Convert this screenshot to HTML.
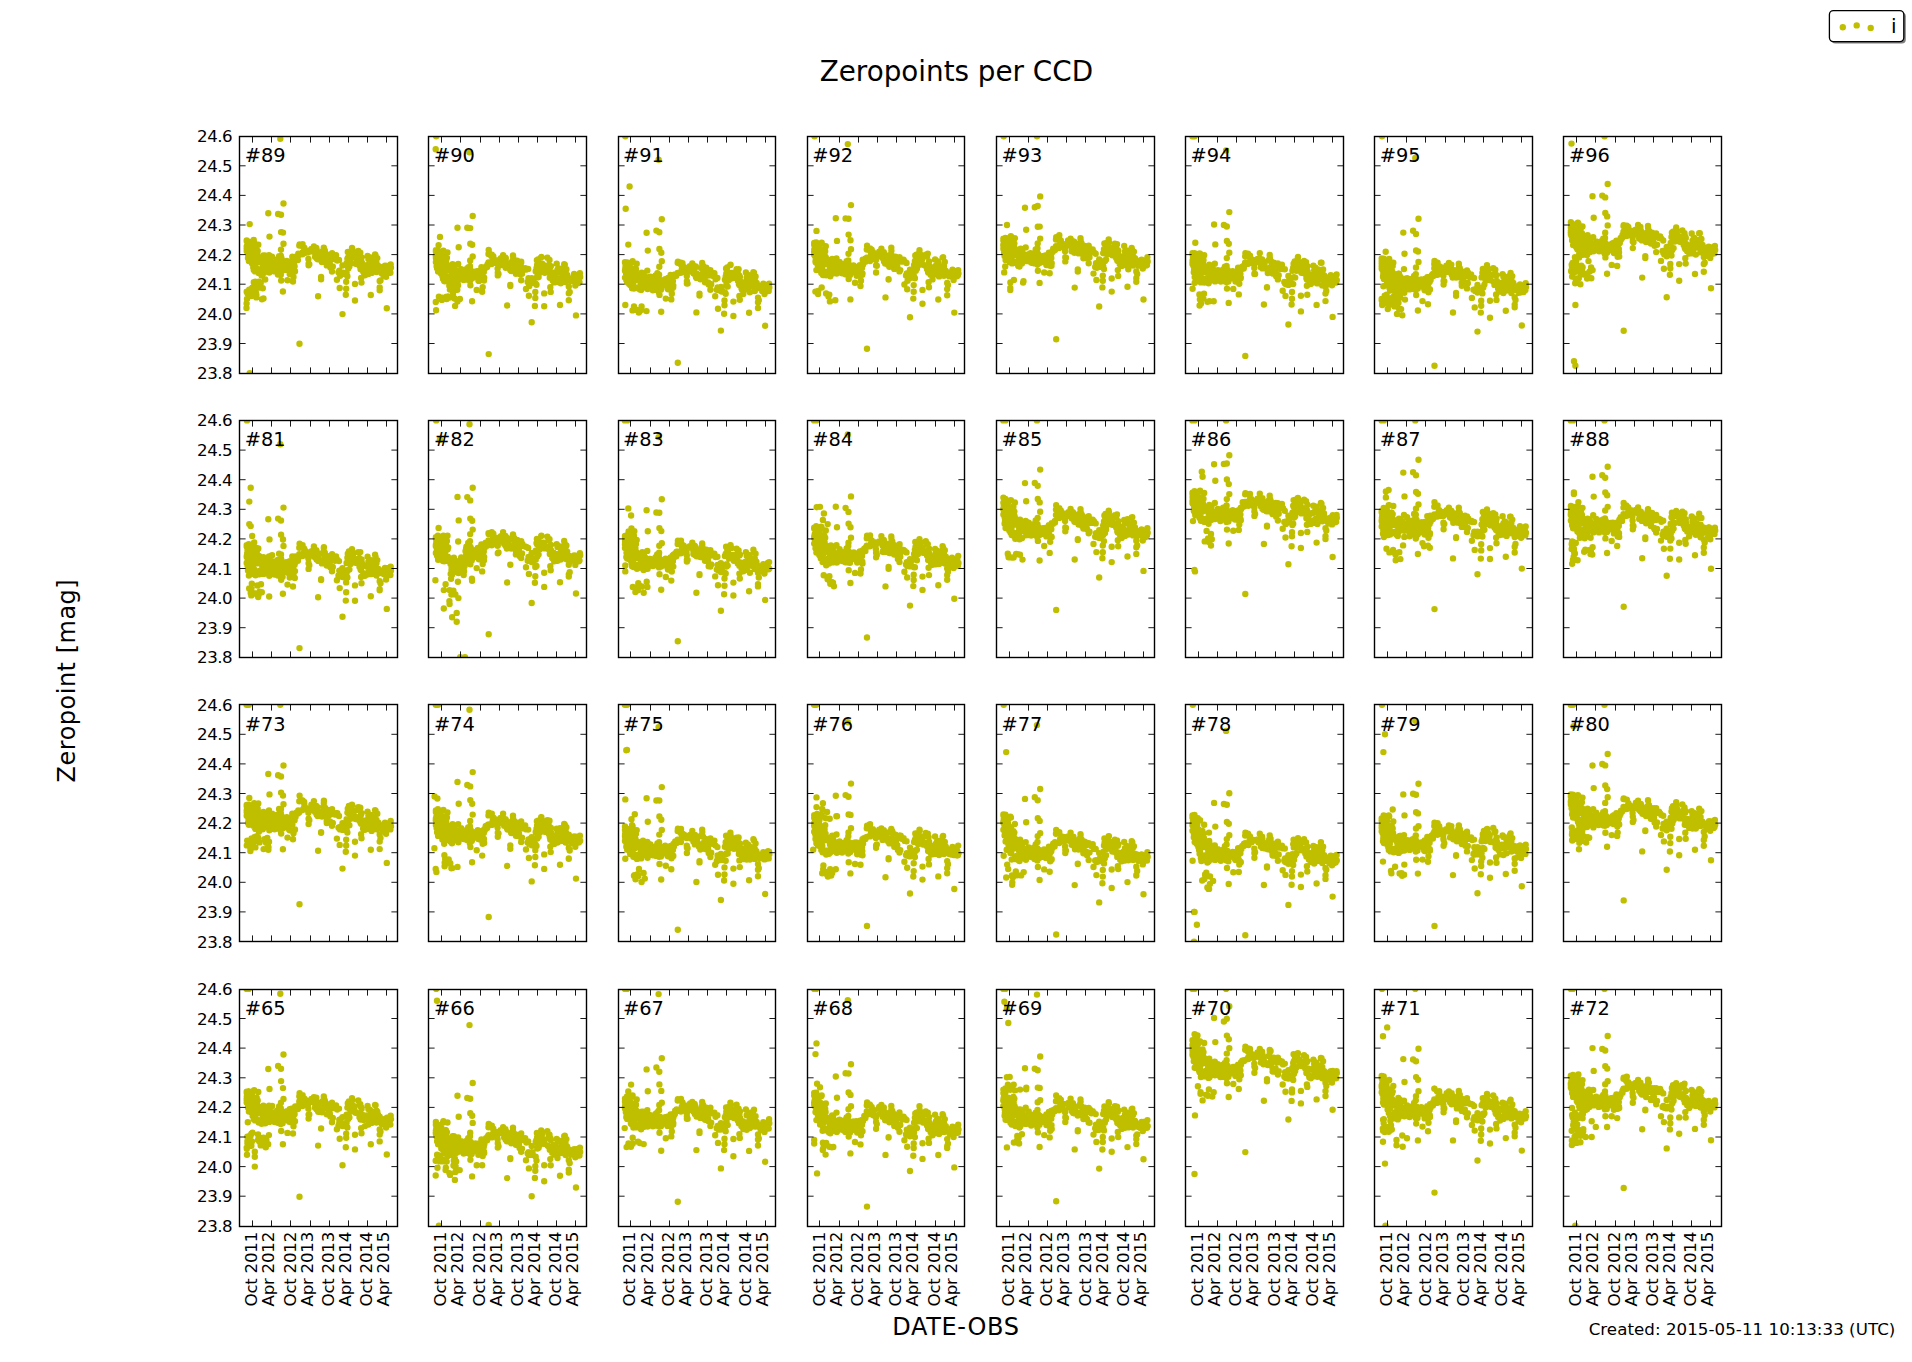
<!DOCTYPE html>
<html lang="en"><head><meta charset="utf-8"><title>Zeropoints per CCD</title>
<style>
html,body{margin:0;padding:0;background:#fff;}
body{width:1912px;height:1362px;overflow:hidden;}
svg{display:block;font-family:'DejaVu Sans', 'Liberation Sans', sans-serif;}
.ax{fill:none;stroke:#000;stroke-width:1.4;}
.tk{fill:none;stroke:#000;stroke-width:0.9;}
.pt{fill:none;stroke:#bfbf00;stroke-width:6.4;stroke-linecap:round;}
.tl{font-size:16.67px;fill:#000;letter-spacing:-0.5px;}
.xl{font-size:16.67px;fill:#000;letter-spacing:-0.25px;}
.cc{font-size:19.4px;fill:#000;}
</style></head>
<body>
<svg width="1912" height="1362" viewBox="0 0 1912 1362">
<rect width="1912" height="1362" fill="#fff"/>
<text x="956.4" y="80.7" text-anchor="middle" font-size="27.8">Zeropoints per CCD</text>
<text x="955.9" y="1334.8" text-anchor="middle" font-size="24" letter-spacing="0.7">DATE-OBS</text>
<text transform="translate(74.9 680.6) rotate(-90)" text-anchor="middle" font-size="24" letter-spacing="0.5">Zeropoint [mag]</text>
<text x="1895.4" y="1335" letter-spacing="0.05" text-anchor="end" font-size="16.67">Created: 2015-05-11 10:13:33 (UTC)</text>
<rect x="1831.4" y="12.6" width="74.4" height="31" rx="4" fill="#7f7f7f"/>
<rect x="1829.4" y="10.6" width="74.4" height="31" rx="4" fill="#fff" stroke="#000" stroke-width="1.3"/>
<path class="pt" d="M1842.8 27.2h0M1856.7 25.4h0M1870.7 28h0"/>
<text x="1891.1" y="33" font-size="20">i</text>
<g>
<clipPath id="c89"><rect x="239.5" y="136.5" width="158" height="237"/></clipPath>
<path class="pt" clip-path="url(#c89)" d="M251.8 262.9h0M247.5 242.9h0M246.9 249.7h0M247.7 253.1h0M248.3 255.7h0M264.8 262.5h0M262.9 260.6h0M248.2 254.5h0M249.2 248.8h0M252.8 252.1h0M259 257.6h0M257 254.9h0M250.4 259.1h0M263.2 261.2h0M253.7 254.7h0M255.1 271.4h0M260.8 258.5h0M251.6 257.7h0M262.5 263.1h0M258.7 273.1h0M258.3 244.8h0M251.1 257.4h0M246.7 246.4h0M260.9 261.6h0M253.1 264.9h0M263.4 255.5h0M251 248.9h0M263.4 261.2h0M250.2 247.7h0M250.7 257.6h0M265 260.9h0M257.7 250.9h0M263.2 267h0M253.3 267.4h0M247.3 246h0M247.2 245.1h0M247.9 246.1h0M248.7 252.1h0M252.6 263.9h0M265.8 263.9h0M252.2 257.6h0M248.9 260.9h0M255.9 254.7h0M246.8 247.9h0M263 265.9h0M261 259.8h0M251.9 260.5h0M265.7 258h0M262 258.6h0M255.6 251.1h0M250.6 245.1h0M254.2 242.4h0M265 263.6h0M250 258.7h0M262.5 262.5h0M261.6 275.6h0M264 257.4h0M254.8 267.1h0M252 245.9h0M253.2 255.2h0M260 269.1h0M248.7 241.6h0M248.6 241.6h0M258.5 259.8h0M265.3 264h0M264.5 265.8h0M262.2 263.4h0M257.1 253.9h0M248.4 254.6h0M263.9 263.4h0M255.3 254.5h0M246.7 240.5h0M249.1 249.7h0M256.4 257.4h0M256.4 263h0M251 253.1h0M256.5 248.4h0M254.2 264.8h0M254.3 256.4h0M264.7 260.5h0M264.7 255.5h0M248.5 251.5h0M247.5 251.3h0M263.7 272.9h0M258.6 269.1h0M265.3 269.5h0M253.3 253.4h0M262.3 271.5h0M255.6 260.2h0M246.7 241.1h0M246.7 251h0M255.5 270.5h0M261.3 262.1h0M261.1 259.6h0M253.7 240h0M250.6 261.5h0M256.7 249.5h0M253.8 270h0M258.1 257.1h0M262.8 272.8h0M254.4 251.6h0M248.4 249.4h0M248 248.2h0M251.5 249.3h0M255.3 248.2h0M246.7 248.6h0M249.4 249.4h0M248 258.1h0M275 267h0M281.8 261.8h0M282.3 266.5h0M275.3 266.1h0M267.6 263.4h0M271.9 265.2h0M286 265.1h0M272.5 264.2h0M269.6 262.1h0M272.1 256.7h0M271.6 267.5h0M273.1 263.5h0M276.9 265.4h0M270.6 265.3h0M268.1 262.4h0M267 261.3h0M279.5 264.4h0M283.3 266.8h0M275 269.8h0M288.6 264.5h0M267 260.2h0M286.5 269.8h0M269.2 267.7h0M277.6 261.1h0M279.4 271.2h0M281.7 267.3h0M269.1 267.2h0M268.4 262.2h0M280.4 269.4h0M277.3 259.5h0M277.6 264.7h0M281.2 259.4h0M267.7 262.5h0M282.8 263.9h0M277.4 261.3h0M277 266.8h0M280.8 274.8h0M269.4 266.2h0M279.1 256.2h0M267.4 266.2h0M281.5 258.2h0M277.9 274.6h0M286.6 264h0M288.5 264.7h0M284.9 265.5h0M276.3 264.7h0M270.8 263h0M269.3 272.6h0M284.9 265.3h0M286.4 263.9h0M277.2 270.7h0M266.1 268.9h0M269.2 264.9h0M273.3 263.2h0M285.3 266.7h0M287.3 267.5h0M274.6 271.4h0M289 266.9h0M272.3 268.3h0M268.3 262.7h0M271.7 268.4h0M277.8 267.1h0M286.3 262.6h0M280.5 259.4h0M282.6 270.4h0M282.8 269.2h0M272.6 262.8h0M287.3 263.5h0M272.8 263.8h0M288.5 264.6h0M278.8 261.4h0M269.8 262.5h0M277.4 262h0M286.8 260.9h0M270.4 266.7h0M273.9 263.2h0M279.1 263.9h0M283.2 267.4h0M274.7 263.7h0M267.4 268.1h0M292.3 256.7h0M294.6 266.3h0M291.6 262.3h0M295.2 257.9h0M289.2 271.1h0M294.8 271.5h0M291.5 264.7h0M294.4 261.6h0M289.7 273.9h0M292.4 267.6h0M293.2 272.2h0M292 266.7h0M290.5 267.2h0M293.2 266.3h0M293.1 262.5h0M289.7 261.9h0M291.5 264.2h0M296.5 258.4h0M298.3 253.7h0M297.9 260h0M298.3 255.5h0M295 258.4h0M295.6 260.1h0M296.8 256.2h0M299.6 244.5h0M299.3 245.5h0M302.1 245.9h0M302.6 244.2h0M304.2 248.6h0M305.4 250.6h0M304.3 247.8h0M299.3 254.1h0M302.5 252.4h0M302.4 254.3h0M305.8 252.8h0M306.9 250.8h0M303.8 252.2h0M303.5 252.4h0M308.2 252.3h0M308.4 258.9h0M308.6 263.8h0M309.3 264.2h0M308.6 265.3h0M311.4 248.9h0M311.7 249.4h0M313.9 250h0M313.9 246.5h0M316.3 248h0M312.6 251.6h0M315.1 253h0M317.5 252.1h0M316.6 249.1h0M318.7 254.1h0M315.1 256.8h0M316.6 258.3h0M318.3 257h0M317.7 259.2h0M320.7 259.8h0M321.1 258.2h0M321.9 262h0M322.7 251.1h0M323.4 251.1h0M323.9 249.2h0M323.8 247.7h0M324.8 250.5h0M326 255.9h0M324.8 255.8h0M327.2 257.7h0M328 254.6h0M328.1 257.2h0M325.6 259.4h0M326.7 262.1h0M326.8 265.4h0M328.8 261.2h0M329.5 256.1h0M330 254.9h0M332 256.5h0M332.1 253.3h0M333.2 258.1h0M331.7 257.4h0M334.9 259.2h0M337.3 260.5h0M339 259.9h0M330.4 267.6h0M329.8 263.5h0M332.8 266.4h0M332 271.6h0M336.1 255.2h0M321.1 279.2h0M321.1 277h0M318.1 296.3h0M339.3 270.6h0M340.1 275.7h0M338.5 272.3h0M339.3 273.2h0M342.5 265.5h0M343.3 272.8h0M342.5 273.4h0M343.3 273.9h0M346.6 272.6h0M347.4 276.2h0M348.2 268.3h0M349.4 266.4h0M348.3 268.6h0M336.9 279.8h0M339.7 288h0M346.2 281.7h0M346.2 288.8h0M345.8 294.8h0M342.5 314.1h0M346.6 263.3h0M347.4 258.7h0M348 257.7h0M347.8 252h0M348.9 252.7h0M349 252.5h0M349.8 258.2h0M349.9 254.1h0M350.6 263.2h0M352.2 248.4h0M352 248h0M353 254h0M353.8 257.6h0M354.6 252.7h0M355.5 258.1h0M355.6 263.7h0M358.3 251h0M359.5 253.9h0M358.7 260.8h0M360.3 252.8h0M361.1 259.1h0M361.6 257.4h0M361.9 262.6h0M361.1 267.6h0M360.6 269.3h0M363.5 272.2h0M363.1 271.2h0M364.3 265.3h0M359.5 265.7h0M355 283.9h0M355 300.5h0M361.1 277.9h0M361.5 282.6h0M367.6 255.9h0M368.4 259.1h0M369.7 257.2h0M366.8 265.2h0M366 271.3h0M365 275.2h0M370.8 257.9h0M371.6 263.6h0M370 266.5h0M370.2 268.7h0M368.4 274h0M368.7 270.2h0M371.6 272.9h0M373.2 267.4h0M373.1 265h0M375.6 255.5h0M375.1 254.4h0M376.5 262.9h0M374.8 261.9h0M374.8 265.2h0M374.3 266.4h0M378.1 266.2h0M378.4 266h0M379.7 266.7h0M376.5 272.1h0M377.4 268.6h0M377.3 258.1h0M373.2 261.9h0M373.3 261.7h0M370.8 295h0M379.7 280.9h0M380.5 280.5h0M379.7 287.5h0M379.7 290.3h0M382.1 267.5h0M384.5 270.9h0M385 265.6h0M387 266h0M389.8 266.6h0M385.3 272.8h0M385.8 269.9h0M388.6 272.8h0M389.5 272.9h0M386.1 276.8h0M389.8 270.3h0M390.4 272.8h0M391 267.6h0M390.7 264.4h0M383.7 275.4h0M381.9 273.4h0M386.8 308.2h0M268.3 213.2h0M269.5 236.6h0M278.1 214h0M281 214.7h0M283.5 203.5h0M281.1 232.1h0M283 232.6h0M283.5 243.8h0M281 249.6h0M280.8 255.6h0M269 255.1h0M280.3 138.7h0M282.9 291.5h0M287.5 280.3h0M293 281.5h0M281.2 280.5h0M293.5 276.9h0M295 271.3h0M256.3 297.4h0M250.7 294.9h0M263.5 298.4h0M256.7 287.4h0M252.3 295.6h0M247.8 293.3h0M251.3 296h0M258.8 281.8h0M247.4 293.3h0M250.6 290.5h0M255.1 284.2h0M253.6 292.6h0M250 292.7h0M260.7 283.2h0M248 293.4h0M246.7 291.7h0M262.8 288.2h0M256.4 295h0M256.3 284.7h0M262 299.3h0M249.2 289.6h0M260.3 282.2h0M256.4 283.8h0M259.9 287.5h0M252.4 287.8h0M265.2 279.5h0M247 291.9h0M256 288.7h0M255.2 281.8h0M253.8 282.2h0M256.1 293.2h0M247.7 292.8h0M299.5 343.8h0M249.7 224.1h0M246.5 307.9h0M246.6 303.5h0M247 299h0M249.7 373.1h0"/>
<path class="tk" d="M252.5 373.5v-6.1 M252.5 136.5v6.1M271.5 373.5v-6.1 M271.5 136.5v6.1M290.5 373.5v-6.1 M290.5 136.5v6.1M310.5 373.5v-6.1 M310.5 136.5v6.1M329.5 373.5v-6.1 M329.5 136.5v6.1M348.5 373.5v-6.1 M348.5 136.5v6.1M367.5 373.5v-6.1 M367.5 136.5v6.1M386.5 373.5v-6.1 M386.5 136.5v6.1M239.5 343.5h6.1 M397.5 343.5h-6.1M239.5 313.9h6.1 M397.5 313.9h-6.1M239.5 284.2h6.1 M397.5 284.2h-6.1M239.5 254.6h6.1 M397.5 254.6h-6.1M239.5 225h6.1 M397.5 225h-6.1M239.5 195.4h6.1 M397.5 195.4h-6.1M239.5 165.8h6.1 M397.5 165.8h-6.1"/>
<rect class="ax" x="239.5" y="136.5" width="158" height="237"/>
<text class="cc" x="244.7" y="162">#89</text>
<text class="tl" text-anchor="end" x="232.2" y="379.1">23.8</text>
<text class="tl" text-anchor="end" x="232.2" y="349.5">23.9</text>
<text class="tl" text-anchor="end" x="232.2" y="319.9">24.0</text>
<text class="tl" text-anchor="end" x="232.2" y="290.2">24.1</text>
<text class="tl" text-anchor="end" x="232.2" y="260.6">24.2</text>
<text class="tl" text-anchor="end" x="232.2" y="231">24.3</text>
<text class="tl" text-anchor="end" x="232.2" y="201.4">24.4</text>
<text class="tl" text-anchor="end" x="232.2" y="171.8">24.5</text>
<text class="tl" text-anchor="end" x="232.2" y="142.2">24.6</text>
</g>
<g>
<clipPath id="c90"><rect x="428.5" y="136.5" width="158" height="237"/></clipPath>
<path class="pt" clip-path="url(#c90)" d="M441 273.5h0M436.6 253.5h0M436.1 257.8h0M436.9 263.4h0M437.4 266.2h0M454 272.2h0M452 270.6h0M437.3 263.8h0M438.4 258.6h0M441.9 259.9h0M448.2 266.6h0M446.2 264.5h0M439.5 270.5h0M452.4 269h0M442.8 264.7h0M444.2 280.9h0M450 267.3h0M440.8 266.1h0M451.6 273.6h0M447.8 281.3h0M447.5 252.4h0M440.3 265.3h0M435.9 257.7h0M450.1 266.8h0M442.3 270.9h0M452.6 264.1h0M440.1 258.2h0M452.6 268.8h0M439.3 258.1h0M439.9 264.1h0M454.1 270.8h0M446.9 257.7h0M452.4 275h0M442.4 276.1h0M436.5 257h0M436.3 254.7h0M437.1 255.7h0M437.8 265.6h0M441.8 273.3h0M455 273.1h0M441.4 270.8h0M438.1 271.5h0M445 262.8h0M436 258.5h0M452.1 275h0M450.1 268.7h0M441.1 271.7h0M454.8 265.4h0M451.2 267.7h0M444.8 259.1h0M439.8 253.3h0M443.4 250.8h0M454.2 270.4h0M439.2 270.5h0M451.6 272.2h0M450.7 279.8h0M453.2 266.3h0M444 275.3h0M441.2 252.8h0M442.4 267.4h0M449.1 277.3h0M437.9 250.4h0M437.8 250.4h0M447.7 267.4h0M454.5 273.6h0M453.7 273h0M451.3 271.9h0M446.2 260.2h0M437.6 264.7h0M453 273.5h0M444.5 262.5h0M435.9 250.3h0M438.2 258.5h0M445.6 265.7h0M445.6 271.2h0M440.1 264.1h0M445.7 257.3h0M443.3 273.4h0M443.5 264.7h0M453.9 269.4h0M453.9 266.3h0M437.7 261.6h0M436.6 266.2h0M452.9 278.5h0M447.8 277.1h0M454.4 276.4h0M442.4 263h0M451.5 278.8h0M444.8 270.3h0M435.9 251.4h0M435.9 262.1h0M444.7 281.3h0M450.5 269.7h0M450.3 269.6h0M442.9 251.7h0M439.8 271.6h0M445.9 257.2h0M443 278.8h0M447.2 264.9h0M452 280.6h0M443.5 259.1h0M437.5 260h0M437.2 257.8h0M440.6 257.6h0M444.5 257.3h0M435.8 255.6h0M438.5 258.4h0M437.1 268.3h0M464.2 271.7h0M471 272.6h0M471.4 277.2h0M464.5 273.3h0M456.8 272.3h0M461 275.3h0M475.2 271.8h0M461.7 275.8h0M458.8 271.5h0M461.2 269.1h0M460.8 273.3h0M462.3 274.5h0M466.1 273.6h0M459.8 274.2h0M457.2 274.5h0M456.1 272.2h0M468.6 275.3h0M472.4 277h0M464.1 277.6h0M477.8 271.3h0M456.2 270.4h0M475.7 276.7h0M458.4 276.4h0M466.8 271.9h0M468.6 278.5h0M470.9 275.3h0M458.2 276.3h0M457.6 272.5h0M469.6 277h0M466.4 269.3h0M466.7 274.7h0M470.3 271.5h0M456.9 271.6h0M471.9 271.9h0M466.5 271h0M466.2 275.6h0M469.9 281.1h0M458.6 274.4h0M468.2 267.5h0M456.6 273.5h0M470.7 270.5h0M467 279.5h0M475.7 274.8h0M477.7 274.1h0M474 272.7h0M465.5 273.2h0M460 273.5h0M458.4 279.9h0M474 274.9h0M475.6 276.5h0M466.3 278.3h0M455.2 275.6h0M458.4 272.9h0M462.4 273.6h0M474.5 276h0M476.5 274.6h0M463.7 280.1h0M478.1 275.9h0M461.5 276.1h0M457.5 274.3h0M460.9 275.8h0M466.9 275.2h0M475.5 273.2h0M469.7 270.7h0M471.7 276.3h0M472 278.4h0M461.7 272.8h0M476.5 274.9h0M462 273.6h0M477.6 275.6h0M468 271.5h0M459 273.2h0M466.6 273.2h0M476 271.5h0M459.6 275.9h0M463 272.7h0M468.3 274.4h0M472.4 275.5h0M463.8 271.4h0M456.6 274.4h0M481.4 267.3h0M483.8 272h0M480.8 270.2h0M484.4 268h0M478.4 280.6h0M484 280.6h0M480.7 275.1h0M483.5 270.9h0M478.9 280.9h0M481.6 277.4h0M482.4 277.8h0M481.1 274.1h0M479.7 276.6h0M482.4 274.9h0M482.3 272h0M478.9 274h0M480.7 273.7h0M485.7 267.8h0M487.5 264.5h0M487.1 267h0M487.5 265.8h0M484.2 268.6h0M484.8 268.6h0M486 266.6h0M488.7 249.9h0M488.5 254h0M491.3 256.1h0M491.8 254.6h0M493.3 256.3h0M494.5 261.5h0M493.4 258.6h0M488.5 262.5h0M491.7 263h0M491.6 264h0M494.9 262.9h0M496.1 260.3h0M492.9 260.5h0M492.7 259.6h0M497.4 262.5h0M497.6 268.6h0M497.8 272.8h0M498.5 273.9h0M497.8 275.4h0M500.6 259h0M500.9 258.2h0M503 258.2h0M503.1 255.2h0M505.4 257.8h0M501.8 265h0M504.2 263.7h0M506.7 262.6h0M505.8 258.2h0M507.9 263.7h0M504.2 265.3h0M505.7 267.7h0M507.5 265.5h0M506.9 266.7h0M509.9 268.5h0M510.3 270.3h0M511.1 271h0M511.9 262h0M512.5 260.8h0M513.1 256.3h0M513 255.4h0M513.9 259.6h0M515.1 262.7h0M514 264.6h0M516.3 266.6h0M517.2 260.8h0M517.3 264.7h0M514.7 269.7h0M515.9 273.8h0M515.9 272.5h0M518 269.8h0M518.6 266.6h0M519.2 264.1h0M521.2 262.6h0M521.2 261.8h0M522.4 268.4h0M520.9 266.8h0M524 268.8h0M526.4 269.6h0M528.2 268.9h0M519.6 274.1h0M519 271.3h0M522 273.7h0M521.2 280.2h0M525.2 268.1h0M510.3 284.9h0M510.3 286h0M507.2 305.5h0M528.5 278.3h0M529.3 286h0M527.7 282h0M528.4 282.2h0M531.7 278.2h0M532.5 280.6h0M531.7 282.7h0M532.4 282.1h0M535.7 283.8h0M536.5 284.7h0M537.3 275.8h0M538.6 276.9h0M537.5 277.4h0M526 289h0M528.9 295.7h0M535.3 292h0M535.3 297.9h0M534.9 306h0M531.7 322.3h0M535.7 271.2h0M536.5 268.1h0M537.1 265h0M536.9 260.3h0M538 259.5h0M538.2 263.6h0M539 268h0M539 264.1h0M539.8 272.8h0M541.4 256.9h0M541.2 257.3h0M542.2 263.7h0M543 267.4h0M543.8 265.1h0M544.6 269.3h0M544.8 272.8h0M547.4 257.8h0M548.7 265.3h0M547.8 269.9h0M549.5 260h0M550.3 266h0M550.8 266.2h0M551.1 272.2h0M550.3 274.3h0M549.8 277.8h0M552.7 280.4h0M552.2 278.6h0M553.5 272.7h0M548.7 271.5h0M544.2 293.4h0M544.2 306.2h0M550.3 287.3h0M550.7 291.9h0M556.7 263.7h0M557.5 269.7h0M558.9 268.8h0M555.9 273.4h0M555.1 277.2h0M554.2 282.4h0M560 268.6h0M560.8 272.4h0M559.2 279h0M559.4 278.5h0M557.5 282.1h0M557.9 278.5h0M560.8 283.2h0M562.4 278.1h0M562.2 273.6h0M564.8 264.8h0M564.2 264.2h0M565.6 271.8h0M564 273.8h0M564 272.9h0M563.4 276h0M567.2 274.9h0M567.5 276h0M568.8 278.3h0M565.6 282h0M566.6 279.4h0M566.4 269.2h0M562.4 271.5h0M562.4 270.2h0M560 305h0M568.8 286.5h0M569.7 291.9h0M568.8 293.3h0M568.8 300.2h0M571.3 279.2h0M573.7 277.5h0M574.1 274h0M576.1 277.1h0M578.9 277.8h0M574.5 280.5h0M574.9 279.8h0M577.7 282h0M578.7 283h0M575.3 285.6h0M578.9 279.4h0M579.5 282.1h0M580.2 276.9h0M579.9 273.3h0M572.9 281.1h0M571.1 280.7h0M576 315.4h0M457.5 227.7h0M458.7 247.3h0M467.3 227.7h0M470.2 228.1h0M472.7 216h0M470.3 243.8h0M472.2 244.8h0M472.7 256.5h0M470.2 260.5h0M470 266.3h0M458.2 264h0M469.5 152.3h0M472.1 301.2h0M476.7 289.9h0M482.2 291.8h0M470.4 285.3h0M482.7 287.1h0M484.2 277.8h0M458.1 285.2h0M441.9 299.9h0M453.2 292.1h0M449.9 289.6h0M453.4 286.8h0M454.2 285.3h0M457.5 301.4h0M448 296.4h0M453 294.7h0M442.5 297.8h0M446.6 296.8h0M449.3 285.7h0M453 283.5h0M438.9 296.6h0M450.1 283.3h0M457.3 289.8h0M451.9 297.1h0M488.7 354.1h0M436.2 136.2h0M436.1 310.3h0M435.8 302h0M455.1 305.9h0M446.7 299h0M449.7 297.6h0M454.5 298.5h0M459.9 299h0M440 236.9h0M438.6 245.2h0M435.7 149.2h0"/>
<path class="tk" d="M441.5 373.5v-6.1 M441.5 136.5v6.1M460.5 373.5v-6.1 M460.5 136.5v6.1M480.5 373.5v-6.1 M480.5 136.5v6.1M499.5 373.5v-6.1 M499.5 136.5v6.1M518.5 373.5v-6.1 M518.5 136.5v6.1M537.5 373.5v-6.1 M537.5 136.5v6.1M556.5 373.5v-6.1 M556.5 136.5v6.1M575.5 373.5v-6.1 M575.5 136.5v6.1M428.5 343.5h6.1 M586.5 343.5h-6.1M428.5 313.9h6.1 M586.5 313.9h-6.1M428.5 284.2h6.1 M586.5 284.2h-6.1M428.5 254.6h6.1 M586.5 254.6h-6.1M428.5 225h6.1 M586.5 225h-6.1M428.5 195.4h6.1 M586.5 195.4h-6.1M428.5 165.8h6.1 M586.5 165.8h-6.1"/>
<rect class="ax" x="428.5" y="136.5" width="158" height="237"/>
<text class="cc" x="433.9" y="162">#90</text>
</g>
<g>
<clipPath id="c91"><rect x="618.5" y="136.5" width="157" height="237"/></clipPath>
<path class="pt" clip-path="url(#c91)" d="M630.2 285.1h0M625.8 264.3h0M625.3 268.4h0M626.1 273.5h0M626.6 278.2h0M643.2 282.1h0M641.2 281.7h0M626.5 275.6h0M627.6 270.5h0M631.1 271h0M637.4 276.2h0M635.4 274.9h0M628.7 282.5h0M641.6 278.8h0M632 275.1h0M633.4 288.4h0M639.2 276.8h0M630 279.5h0M640.8 284.5h0M637 287.7h0M636.7 263.7h0M629.4 277.9h0M625.1 270.5h0M639.2 277.1h0M631.5 281h0M641.7 272.8h0M629.3 271.2h0M641.8 279.4h0M628.5 269.4h0M629 278.5h0M643.3 279.7h0M636 269.2h0M641.5 284.2h0M631.6 285.1h0M625.6 266.5h0M625.5 266.4h0M626.2 266.2h0M627 276.4h0M630.9 285.4h0M644.2 280.8h0M630.5 279.9h0M627.2 282.3h0M634.2 272.9h0M625.1 270.2h0M641.3 283.5h0M639.3 277h0M630.3 283h0M644 275.6h0M640.3 277.5h0M634 270.1h0M629 268.5h0M632.6 261.1h0M643.3 281.7h0M628.4 279.6h0M640.8 280.3h0M639.9 289.5h0M642.3 276h0M633.2 284.4h0M630.3 263.5h0M631.5 276h0M638.3 287.5h0M627.1 262.4h0M627 262.6h0M636.9 275.9h0M643.7 283.2h0M642.9 282.3h0M640.5 282.8h0M635.4 271.4h0M626.7 277.7h0M642.2 282.8h0M633.7 272.9h0M625 262.1h0M627.4 273.2h0M634.8 275.2h0M634.7 280.6h0M629.3 276.1h0M634.9 268.7h0M632.5 285.5h0M632.7 275.4h0M643 278.4h0M643 275.1h0M626.8 274.8h0M625.8 278.1h0M642 288.2h0M636.9 288h0M643.6 287h0M631.6 275.4h0M640.6 289.5h0M633.9 278.7h0M625 262.4h0M625 277.6h0M633.9 288.6h0M639.7 279.6h0M639.5 277.2h0M632.1 262.1h0M628.9 283.8h0M635.1 268.1h0M632.1 288.2h0M636.4 274.8h0M641.1 290.1h0M632.7 269.8h0M626.7 273.9h0M626.4 272.2h0M629.8 268.9h0M633.6 269.4h0M625 270.8h0M627.7 272.9h0M626.3 279.9h0M653.4 283.1h0M660.1 281.7h0M660.6 282.2h0M653.6 284h0M646 282.3h0M650.2 282.6h0M664.4 281.8h0M650.8 283.7h0M648 280.9h0M650.4 276.8h0M650 286.6h0M651.5 283.6h0M655.2 281.6h0M649 282.2h0M646.4 283.9h0M645.3 279.5h0M657.8 282.9h0M661.6 285.4h0M653.3 288.8h0M667 282h0M645.3 283.3h0M664.8 284.8h0M647.5 286.6h0M655.9 281.2h0M657.8 288.4h0M660 281.9h0M647.4 285h0M646.7 280.8h0M658.7 283.8h0M655.6 275.4h0M655.9 283.1h0M659.5 279.6h0M646 280.1h0M661.1 280.1h0M655.7 276.6h0M655.3 287.8h0M659.1 292.9h0M647.7 284.7h0M657.4 273.2h0M645.7 283.5h0M659.9 280.3h0M656.2 290h0M664.9 279.5h0M666.8 284.9h0M663.2 284.5h0M654.7 281.4h0M649.2 279.9h0M647.6 289h0M663.2 282.6h0M664.7 282.1h0M655.5 286h0M644.4 284.1h0M647.6 282.3h0M651.6 282.8h0M663.6 283.3h0M665.6 284.8h0M652.9 290.3h0M667.3 285.8h0M650.7 286h0M646.7 281.2h0M650.1 285.6h0M656.1 283.1h0M664.7 281.3h0M658.8 275.6h0M660.9 289.8h0M661.2 286.8h0M650.9 279.1h0M665.6 282.4h0M651.2 279.3h0M666.8 282h0M657.2 280.2h0M648.2 277.2h0M655.8 280.2h0M665.2 279.2h0M648.8 284h0M652.2 281.3h0M657.4 282.1h0M661.6 285.8h0M653 281.6h0M645.8 283.2h0M670.6 275h0M672.9 281h0M669.9 279.4h0M673.5 276.2h0M667.5 288.4h0M673.2 287.3h0M669.9 280.1h0M672.7 276.9h0M668 289.3h0M670.7 286.2h0M671.5 290.6h0M670.3 283h0M668.8 282.6h0M671.5 283.7h0M671.5 280.9h0M668.1 277.9h0M669.9 282.8h0M674.8 274.4h0M676.6 274.4h0M676.3 275.8h0M676.6 274.3h0M673.4 275.5h0M673.9 276.5h0M675.2 274.9h0M677.9 261.6h0M677.7 262.8h0M680.5 264h0M681 262.7h0M682.5 263.3h0M683.7 266.8h0M682.6 265.8h0M677.6 272.9h0M680.9 272h0M680.8 272.8h0M684.1 270h0M685.3 268.6h0M682.1 268.3h0M681.8 269.5h0M686.5 273.5h0M686.8 276h0M686.9 281.1h0M687.6 283.6h0M686.9 283.6h0M689.8 266.1h0M690.1 267.7h0M692.2 267.2h0M692.3 263.5h0M694.6 268h0M691 271.2h0M693.4 269.6h0M695.8 266.5h0M695 267.8h0M697 273.7h0M693.4 273.2h0M694.9 274.4h0M696.6 277.9h0M696 277.2h0M699 276.9h0M699.4 276.1h0M700.3 279.2h0M701.1 267.9h0M701.7 267.6h0M702.3 265.8h0M702.2 262.9h0M703.1 266h0M704.3 271.6h0M703.1 272.8h0M705.5 275h0M706.3 267.6h0M706.4 273.7h0M703.9 277.6h0M705 282.3h0M705.1 281.5h0M707.1 275.8h0M707.8 275.6h0M708.3 271.4h0M710.4 270.1h0M710.4 272.2h0M711.6 273.8h0M710.1 275.4h0M713.2 276.1h0M715.6 279.3h0M717.4 277.9h0M708.7 284.6h0M708.1 282.5h0M711.2 284.2h0M710.4 289.7h0M714.4 273.2h0M699.5 295.6h0M699.5 293.6h0M696.4 312.4h0M717.6 287.4h0M718.4 290.1h0M716.8 289.8h0M717.6 289.9h0M720.9 286.9h0M721.7 289.4h0M720.9 291h0M721.6 291.5h0M724.9 292.5h0M725.7 293.8h0M726.5 284.3h0M727.7 286.6h0M726.6 285.1h0M715.2 296.2h0M718 308.7h0M724.5 300.4h0M724.5 305.3h0M724.1 313.7h0M720.9 330.6h0M724.9 279.8h0M725.7 276.4h0M726.3 273.4h0M726.1 268.4h0M727.2 267.4h0M727.3 272.5h0M728.1 275.3h0M728.2 272.4h0M728.9 280h0M730.6 264.8h0M730.4 264.9h0M731.4 273h0M732.2 278.2h0M733 273h0M733.8 276.5h0M733.9 277.6h0M736.6 269.1h0M737.8 272.9h0M737 278.5h0M738.6 269.1h0M739.4 275.7h0M739.9 276.8h0M740.2 280.9h0M739.4 285h0M738.9 284.1h0M741.9 289.4h0M741.4 287.9h0M742.7 284.1h0M737.8 280.6h0M733.4 301.6h0M733.4 315.9h0M739.4 296h0M739.8 299.8h0M745.9 272.5h0M746.7 277.4h0M748 275h0M745.1 282.2h0M744.3 288.9h0M743.3 294h0M749.1 275.3h0M749.9 280.9h0M748.3 288.3h0M748.5 286.2h0M746.7 289.4h0M747 287.6h0M749.9 292.3h0M751.6 286h0M751.4 284.4h0M754 272.7h0M753.4 272.1h0M754.8 279.8h0M753.1 280.5h0M753.2 282.3h0M752.6 284h0M756.4 285.7h0M756.7 283h0M758 285.4h0M754.8 291.1h0M755.7 287.2h0M755.6 276.5h0M751.6 276.9h0M751.6 279.4h0M749.1 312.7h0M758 297.6h0M758.8 300.3h0M758 302.2h0M758 308h0M760.4 288.5h0M762.9 286h0M763.3 283.7h0M765.3 286.3h0M768.1 286.4h0M763.7 291.4h0M764.1 287.7h0M766.9 288.9h0M767.8 290.1h0M764.5 294h0M768.1 289.1h0M768.7 291h0M769.3 287.4h0M769.1 283.7h0M762.1 291.1h0M760.3 288.5h0M765.1 325.8h0M646.6 232.8h0M647.8 250.6h0M656.4 230.6h0M659.3 232.2h0M661.8 219.2h0M659.4 249h0M661.3 252.7h0M661.8 261.3h0M659.3 266.8h0M659.1 274.8h0M647.3 270.6h0M658.6 159.7h0M661.2 311.8h0M665.8 298.6h0M671.3 299.4h0M659.5 294.9h0M671.8 293.8h0M673.3 285.6h0M636.5 310h0M641 309.9h0M646.5 311.1h0M632.5 310.4h0M641.6 306.4h0M636.2 309.8h0M639.5 311.4h0M638.8 312.5h0M634 306.4h0M677.8 362.7h0M625.3 136.2h0M629.6 186.5h0M625.7 208.7h0M628.3 244.6h0M625.3 305h0"/>
<path class="tk" d="M630.5 373.5v-6.1 M630.5 136.5v6.1M650.5 373.5v-6.1 M650.5 136.5v6.1M669.5 373.5v-6.1 M669.5 136.5v6.1M688.5 373.5v-6.1 M688.5 136.5v6.1M707.5 373.5v-6.1 M707.5 136.5v6.1M726.5 373.5v-6.1 M726.5 136.5v6.1M746.5 373.5v-6.1 M746.5 136.5v6.1M765.5 373.5v-6.1 M765.5 136.5v6.1M618.5 343.5h6.1 M775.5 343.5h-6.1M618.5 313.9h6.1 M775.5 313.9h-6.1M618.5 284.2h6.1 M775.5 284.2h-6.1M618.5 254.6h6.1 M775.5 254.6h-6.1M618.5 225h6.1 M775.5 225h-6.1M618.5 195.4h6.1 M775.5 195.4h-6.1M618.5 165.8h6.1 M775.5 165.8h-6.1"/>
<rect class="ax" x="618.5" y="136.5" width="157" height="237"/>
<text class="cc" x="623" y="162">#91</text>
</g>
<g>
<clipPath id="c92"><rect x="807.5" y="136.5" width="157" height="237"/></clipPath>
<path class="pt" clip-path="url(#c92)" d="M819.3 268.2h0M815 248.4h0M814.4 250.8h0M815.2 254.7h0M815.8 259.2h0M832.3 266h0M830.4 266.4h0M815.7 262.2h0M816.7 254.3h0M820.3 251.3h0M826.5 258.6h0M824.5 257.1h0M817.9 264.4h0M830.7 264.9h0M821.2 255.9h0M822.6 273.9h0M828.3 262.5h0M819.1 260.5h0M830 268.4h0M826.2 275.3h0M825.8 246.3h0M818.6 258.1h0M814.2 251.5h0M828.4 264.4h0M820.6 263.3h0M830.9 261.2h0M818.5 252.3h0M830.9 265.8h0M817.7 250.7h0M818.2 262.6h0M832.4 263.5h0M825.2 251.3h0M830.7 271.8h0M820.8 268.5h0M814.8 248.7h0M814.7 249.4h0M815.4 247.3h0M816.2 259.4h0M820.1 270.3h0M833.3 268.5h0M819.7 262.7h0M816.4 270.1h0M823.4 258.3h0M814.3 249.4h0M830.5 266.7h0M828.5 263.2h0M819.4 265.7h0M833.2 260h0M829.5 262.8h0M823.1 255.9h0M818.1 248.4h0M821.7 242.7h0M832.5 264.5h0M817.5 264.6h0M830 266.9h0M829.1 274.4h0M831.5 259.8h0M822.3 268.4h0M819.5 248h0M820.7 260.9h0M827.5 271.6h0M816.2 242.4h0M816.1 245.5h0M826 261.1h0M832.8 266.6h0M832 268.5h0M829.7 266.8h0M824.6 255.2h0M815.9 261.4h0M831.4 266.7h0M822.8 255.6h0M814.2 243h0M816.6 255.7h0M823.9 259.9h0M823.9 264.2h0M818.5 257.1h0M824 248.9h0M821.6 266h0M821.8 259.1h0M832.2 261.3h0M832.2 259h0M816 255.5h0M815 255.9h0M831.2 273.8h0M826.1 273h0M832.8 273.6h0M820.8 257.9h0M829.8 273.1h0M823.1 265.1h0M814.2 244.8h0M814.2 254.8h0M823 275.1h0M828.8 264h0M828.6 262.2h0M821.2 243.1h0M818.1 266.6h0M824.2 249.8h0M821.3 272.9h0M825.6 256.9h0M830.3 276.2h0M821.9 254h0M815.9 256.4h0M815.5 253.2h0M819 250.9h0M822.8 255.6h0M814.2 253.1h0M816.9 255.5h0M815.5 261.5h0M842.5 267.3h0M849.3 265h0M849.8 269.7h0M842.8 269.9h0M835.1 268.2h0M839.4 269.4h0M853.5 265.5h0M840 266.2h0M837.1 267.2h0M839.6 261.9h0M839.1 270.1h0M840.6 269.1h0M844.4 267.5h0M838.1 270h0M835.6 266.6h0M834.5 267.4h0M847 267.3h0M850.8 269.8h0M842.5 272.5h0M856.1 267.5h0M834.5 265.3h0M854 271.9h0M836.7 273.6h0M845.1 264.4h0M846.9 272h0M849.2 271h0M836.6 272h0M835.9 266.1h0M847.9 271.8h0M844.8 264.2h0M845.1 267.5h0M848.7 265.4h0M835.2 269.7h0M850.3 268.2h0M844.9 263.6h0M844.5 270.1h0M848.3 274h0M836.9 269.3h0M846.6 261.3h0M834.9 270.1h0M849 265.7h0M845.4 274.3h0M854.1 267.6h0M856 268.1h0M852.4 270.2h0M843.8 266.7h0M838.3 263.9h0M836.8 273.2h0M852.4 268.1h0M853.9 268.9h0M844.7 270.4h0M833.6 269.8h0M836.7 266.9h0M840.8 268.6h0M852.8 269.6h0M854.8 270.5h0M842.1 273.2h0M856.5 270.6h0M839.8 269.7h0M835.8 266.9h0M839.2 272h0M845.3 264.7h0M853.8 266.6h0M848 263.2h0M850 275.1h0M850.3 274.2h0M840.1 266.7h0M854.8 267.9h0M840.3 265.3h0M856 272h0M846.3 264.6h0M837.3 266.3h0M844.9 269h0M854.3 268.2h0M837.9 269.8h0M841.4 265.4h0M846.6 268.4h0M850.7 270.6h0M842.2 267.1h0M834.9 268.9h0M859.8 265.3h0M862.1 267.8h0M859.1 266.2h0M862.7 259.7h0M856.7 275.8h0M862.3 274.7h0M859 267.7h0M861.9 264.6h0M857.2 275.2h0M859.9 272.2h0M860.7 275.9h0M859.5 268.8h0M858 269.7h0M860.7 267.8h0M860.6 265.7h0M857.2 268.4h0M859 268h0M864 262h0M865.8 258.5h0M865.4 261.8h0M865.8 258.9h0M862.5 263.4h0M863.1 264.4h0M864.3 259.7h0M867.1 245.6h0M866.8 249.5h0M869.6 250.3h0M870.1 248.4h0M871.7 249.8h0M872.9 252h0M871.8 250.9h0M866.8 257.8h0M870 261h0M869.9 259.6h0M873.3 254.8h0M874.4 254h0M871.3 255.9h0M871 255h0M875.7 258.4h0M875.9 260h0M876.1 265.4h0M876.8 265.8h0M876.1 272.5h0M878.9 253.4h0M879.2 251.8h0M881.3 251.3h0M881.4 248.8h0M883.8 252.3h0M880.1 256.2h0M882.6 256.6h0M885 254.7h0M884.1 253.1h0M886.2 257.7h0M882.6 258.1h0M884.1 261.5h0M885.8 263.2h0M885.2 263.6h0M888.2 265h0M888.6 262.1h0M889.4 266.8h0M890.2 256.4h0M890.9 254.2h0M891.4 250.8h0M891.3 247.8h0M892.3 256h0M893.5 261h0M892.3 258.8h0M894.7 259.1h0M895.5 256.8h0M895.6 260.9h0M893.1 262.5h0M894.2 267.1h0M894.3 268.9h0M896.3 262.7h0M897 260.8h0M897.5 257.1h0M899.5 257.2h0M899.6 257.5h0M900.7 261.1h0M899.2 261.8h0M902.4 261.6h0M904.8 261.7h0M906.5 263h0M897.9 268.8h0M897.3 266.6h0M900.3 270.1h0M899.5 271.4h0M903.6 259.7h0M888.6 279.6h0M888.6 279.1h0M885.5 297.4h0M906.8 273.4h0M907.6 280.8h0M906 275.4h0M906.8 276h0M910 269.7h0M910.8 272.8h0M910 275.8h0M910.8 277.8h0M914.1 276.4h0M914.9 278.2h0M915.7 269.4h0M916.9 268.8h0M915.8 270.7h0M904.4 284.5h0M907.2 289.2h0M913.7 285.1h0M913.7 291.8h0M913.3 298.6h0M910 317.2h0M914.1 264.9h0M914.9 261.1h0M915.5 260.3h0M915.3 255.4h0M916.4 254.6h0M916.5 257.5h0M917.3 262.8h0M917.4 257.9h0M918.1 265.4h0M919.7 254.3h0M919.5 250.2h0M920.5 254.6h0M921.3 261.1h0M922.1 259.5h0M922.9 264.6h0M923.1 264.7h0M925.8 254.6h0M927 256.5h0M926.2 266.5h0M927.8 253.7h0M928.6 263.9h0M929.1 261.4h0M929.4 266.1h0M928.6 272.8h0M928.1 272.2h0M931 274.6h0M930.6 274.7h0M931.8 267.1h0M927 269.1h0M922.5 289.9h0M922.5 303.7h0M928.6 282.2h0M929 287.2h0M935.1 259.4h0M935.9 265.7h0M937.2 261.1h0M934.3 268h0M933.4 272.7h0M932.5 279.4h0M938.3 262.6h0M939.1 266.8h0M937.5 271.9h0M937.7 269.7h0M935.9 274.4h0M936.2 274.2h0M939.1 276.4h0M940.7 272.7h0M940.6 269.6h0M943.1 257.2h0M942.6 257.6h0M943.9 266.3h0M942.3 267.8h0M942.3 269.6h0M941.8 269.8h0M945.6 270.6h0M945.8 271h0M947.2 272.3h0M943.9 275.8h0M944.9 274.8h0M944.8 261.9h0M940.7 267h0M940.8 266.1h0M938.3 299.5h0M947.2 282.9h0M948 285h0M947.2 289.1h0M947.2 295.3h0M949.6 274.7h0M952 272.3h0M952.5 269.7h0M954.5 271.5h0M957.3 271.6h0M952.8 275.2h0M953.3 273.8h0M956.1 276.3h0M957 276.3h0M953.6 280h0M957.3 275.3h0M957.9 275.3h0M958.5 273.5h0M958.2 270.2h0M951.2 276.2h0M949.4 276.4h0M954.3 312.6h0M835.8 218.2h0M837 240.9h0M845.6 218.4h0M848.5 218.8h0M851 205.1h0M848.6 234.6h0M850.5 240.3h0M851 249.2h0M848.5 253.7h0M848.3 260.4h0M836.5 258.4h0M847.8 144.1h0M850.4 299.4h0M855 282.8h0M860.5 286h0M848.7 279h0M861 280.7h0M862.5 273.5h0M826.1 293.5h0M835.3 300.2h0M828.5 296.5h0M815.4 291.6h0M818.1 294h0M829.9 301.4h0M818.2 290.9h0M821.7 287.5h0M829.3 294.6h0M867 348.8h0M814.5 136.2h0M816.5 230.9h0"/>
<path class="tk" d="M819.5 373.5v-6.1 M819.5 136.5v6.1M839.5 373.5v-6.1 M839.5 136.5v6.1M858.5 373.5v-6.1 M858.5 136.5v6.1M877.5 373.5v-6.1 M877.5 136.5v6.1M896.5 373.5v-6.1 M896.5 136.5v6.1M915.5 373.5v-6.1 M915.5 136.5v6.1M935.5 373.5v-6.1 M935.5 136.5v6.1M954.5 373.5v-6.1 M954.5 136.5v6.1M807.5 343.5h6.1 M964.5 343.5h-6.1M807.5 313.9h6.1 M964.5 313.9h-6.1M807.5 284.2h6.1 M964.5 284.2h-6.1M807.5 254.6h6.1 M964.5 254.6h-6.1M807.5 225h6.1 M964.5 225h-6.1M807.5 195.4h6.1 M964.5 195.4h-6.1M807.5 165.8h6.1 M964.5 165.8h-6.1"/>
<rect class="ax" x="807.5" y="136.5" width="157" height="237"/>
<text class="cc" x="812.2" y="162">#92</text>
</g>
<g>
<clipPath id="c93"><rect x="996.5" y="136.5" width="158" height="237"/></clipPath>
<path class="pt" clip-path="url(#c93)" d="M1008.5 259.6h0M1004.1 239.9h0M1003.6 244.7h0M1004.4 249.9h0M1004.9 253.2h0M1021.5 254.1h0M1019.5 257.4h0M1004.8 251.9h0M1005.9 246.1h0M1009.4 245.5h0M1015.7 250.4h0M1013.7 248.4h0M1007 256.1h0M1019.9 251.2h0M1010.3 251.1h0M1011.7 263.1h0M1017.5 254.9h0M1008.3 255.3h0M1019.1 257.9h0M1015.3 262.5h0M1015 238.3h0M1007.8 249.3h0M1003.4 245.4h0M1017.6 251.7h0M1009.8 257.6h0M1020.1 249.8h0M1007.6 246.3h0M1020.1 253.2h0M1006.8 243.9h0M1007.4 253.6h0M1021.6 253.4h0M1014.4 243.4h0M1019.9 260.1h0M1009.9 262.3h0M1004 246h0M1003.8 240.5h0M1004.6 243.6h0M1005.3 252.5h0M1009.3 259.6h0M1022.5 257.8h0M1008.9 255.4h0M1005.6 259.9h0M1012.5 249.7h0M1003.5 247.3h0M1019.6 258.6h0M1017.6 254h0M1008.6 256.5h0M1022.3 250.5h0M1018.6 253.2h0M1012.3 246.4h0M1007.3 242.9h0M1010.9 236.2h0M1021.7 255.4h0M1006.7 254.9h0M1019.1 257.9h0M1018.2 265.9h0M1020.7 248.8h0M1011.5 259.7h0M1008.7 239.8h0M1009.9 252.1h0M1016.6 261.8h0M1005.4 237.9h0M1005.3 240.5h0M1015.2 250.5h0M1022 255.5h0M1021.2 254.1h0M1018.8 255.3h0M1013.7 247.9h0M1005 255.8h0M1020.5 257.7h0M1012 247.4h0M1003.4 238.8h0M1005.7 247.6h0M1013.1 251.4h0M1013.1 255.7h0M1007.6 249.1h0M1013.2 241.7h0M1010.8 257.4h0M1011 251.5h0M1021.4 255.2h0M1021.4 251h0M1005.1 251.1h0M1004.1 252.6h0M1020.4 263.3h0M1015.3 262.8h0M1021.9 263.4h0M1009.9 248.9h0M1019 262.9h0M1012.3 255.8h0M1003.4 240.4h0M1003.4 248.8h0M1012.2 263.4h0M1018 255.7h0M1017.8 253.4h0M1010.4 237h0M1007.3 257.4h0M1013.4 243.5h0M1010.5 262.3h0M1014.7 248.4h0M1019.5 266.5h0M1011 246h0M1005 249.3h0M1004.7 247.5h0M1008.1 244.7h0M1012 246h0M1003.3 245h0M1006 248.5h0M1004.6 256h0M1031.7 257.6h0M1038.5 255.7h0M1038.9 258.1h0M1032 259.3h0M1024.3 258.7h0M1028.5 255.9h0M1042.7 256.1h0M1029.1 256.3h0M1026.3 256.7h0M1028.7 254.3h0M1028.3 258.1h0M1029.8 259.5h0M1033.6 259.2h0M1027.3 259.1h0M1024.7 257.4h0M1023.6 254.7h0M1036.1 256.3h0M1039.9 259h0M1031.6 262.7h0M1045.3 255.4h0M1023.7 254.2h0M1043.2 262h0M1025.9 261h0M1034.3 253.9h0M1036.1 262h0M1038.4 260.8h0M1025.7 261h0M1025.1 258.2h0M1037.1 259h0M1033.9 254.7h0M1034.2 259h0M1037.8 256h0M1024.4 254.6h0M1039.4 257.7h0M1034 253.2h0M1033.7 260.5h0M1037.4 264.6h0M1026.1 259.2h0M1035.7 249.4h0M1024.1 257.5h0M1038.2 254.2h0M1034.5 263.4h0M1043.2 257.2h0M1045.2 256h0M1041.5 257.1h0M1033 257.9h0M1027.5 257.9h0M1025.9 261.1h0M1041.5 262h0M1043.1 257.7h0M1033.8 261.6h0M1022.7 260h0M1025.9 256.8h0M1029.9 256.5h0M1042 257.5h0M1044 260.9h0M1031.2 262.6h0M1045.6 260.1h0M1029 258.6h0M1025 256.9h0M1028.4 261h0M1034.4 256.7h0M1043 256.9h0M1037.2 252.3h0M1039.2 263.2h0M1039.5 261.1h0M1029.2 257.5h0M1044 258.6h0M1029.5 257.3h0M1045.1 258.7h0M1035.5 254.9h0M1026.5 257h0M1034.1 254.9h0M1043.5 257.1h0M1027.1 259.6h0M1030.5 253.2h0M1035.8 258.3h0M1039.9 261h0M1031.3 256.7h0M1024.1 257.1h0M1048.9 252.8h0M1051.3 257.9h0M1048.3 257.1h0M1051.9 252.8h0M1045.9 261.4h0M1051.5 265.8h0M1048.2 256.2h0M1051 254.2h0M1046.4 265h0M1049.1 261.1h0M1049.9 264.4h0M1048.6 257h0M1047.2 257.9h0M1049.9 257.6h0M1049.8 257.5h0M1046.4 255.6h0M1048.2 255.5h0M1053.2 248.7h0M1055 250h0M1054.6 249.3h0M1055 249.8h0M1051.7 252.6h0M1052.3 251.5h0M1053.5 250.9h0M1056.2 237.2h0M1056 239.5h0M1058.8 238.3h0M1059.3 235.3h0M1060.8 240.4h0M1062 243.8h0M1060.9 241.6h0M1056 246.1h0M1059.2 248h0M1059.1 246.1h0M1062.4 243.8h0M1063.6 244.2h0M1060.4 244.9h0M1060.2 243.9h0M1064.9 247.9h0M1065.1 251.3h0M1065.3 257.3h0M1066 257.7h0M1065.3 261.4h0M1068.1 240.4h0M1068.4 241.6h0M1070.5 240.7h0M1070.6 238.6h0M1072.9 241.3h0M1069.3 245.4h0M1071.7 249.2h0M1074.1 241.6h0M1073.3 242.2h0M1075.4 246.6h0M1071.7 251.2h0M1073.2 251.4h0M1075 250.8h0M1074.4 252.8h0M1077.4 252.8h0M1077.8 250.8h0M1078.6 253.4h0M1079.4 245.2h0M1080 243.2h0M1080.6 239.6h0M1080.5 238.1h0M1081.4 242.9h0M1082.6 248.8h0M1081.5 249.7h0M1083.8 251.1h0M1084.7 245.9h0M1084.8 250h0M1082.2 252.7h0M1083.4 255.5h0M1083.4 258.2h0M1085.5 250.2h0M1086.1 250h0M1086.7 248.8h0M1088.7 245.8h0M1088.7 245.6h0M1089.9 250.3h0M1088.4 250.9h0M1091.5 252.6h0M1093.9 252.1h0M1095.7 253.7h0M1087.1 258.3h0M1086.5 256.6h0M1089.5 257.2h0M1088.7 263.3h0M1092.7 249.5h0M1077.8 271.6h0M1077.8 269.4h0M1074.7 287.6h0M1096 263.2h0M1096.8 267.7h0M1095.2 266.9h0M1095.9 266.5h0M1099.2 259.5h0M1100 263.3h0M1099.2 266.5h0M1099.9 266.8h0M1103.2 265.9h0M1104 269.1h0M1104.8 260.8h0M1106.1 259.4h0M1105 260.9h0M1093.5 273.6h0M1096.4 280h0M1102.8 275.6h0M1102.8 280.7h0M1102.4 287.4h0M1099.2 306.5h0M1103.2 253.2h0M1104 249.2h0M1104.6 249.7h0M1104.4 243.4h0M1105.5 243.2h0M1105.7 247.9h0M1106.5 249.1h0M1106.5 247.5h0M1107.3 254.3h0M1108.9 242h0M1108.7 239.4h0M1109.7 247.2h0M1110.5 248.7h0M1111.3 248.5h0M1112.1 253.1h0M1112.3 255.3h0M1114.9 243.8h0M1116.2 249h0M1115.3 254.6h0M1117 244.2h0M1117.8 250.2h0M1118.3 250.8h0M1118.6 255h0M1117.8 261h0M1117.3 260.6h0M1120.2 262.4h0M1119.7 263.9h0M1121 257.5h0M1116.2 258h0M1111.7 278.5h0M1111.7 291.6h0M1117.8 270.1h0M1118.2 275.9h0M1124.2 245.9h0M1125 251.4h0M1126.4 251.8h0M1123.4 256.5h0M1122.6 263.5h0M1121.7 266.1h0M1127.5 250.7h0M1128.3 255.2h0M1126.7 260h0M1126.9 260.7h0M1125 265h0M1125.4 261.8h0M1128.3 269.3h0M1129.9 263.4h0M1129.7 260.1h0M1132.3 250.3h0M1131.7 247.9h0M1133.1 256.1h0M1131.5 257.8h0M1131.5 258.6h0M1130.9 260.7h0M1134.7 258.3h0M1135 258.2h0M1136.3 260.3h0M1133.1 265.5h0M1134.1 263.1h0M1133.9 251.6h0M1129.9 251.9h0M1129.9 256h0M1127.5 286.7h0M1136.3 271.5h0M1137.2 273.9h0M1136.3 278.3h0M1136.3 281.7h0M1138.8 262.9h0M1141.2 260.8h0M1141.6 259.6h0M1143.6 260.5h0M1146.4 260.9h0M1142 263.4h0M1142.4 263.3h0M1145.2 263h0M1146.2 265.5h0M1142.8 268.6h0M1146.4 261.2h0M1147 265.1h0M1147.7 261.5h0M1147.4 257.1h0M1140.4 265.8h0M1138.6 265.5h0M1143.5 299.5h0M1025 207.8h0M1026.2 229.8h0M1034.8 207.3h0M1037.7 206h0M1040.2 196.4h0M1037.8 226.7h0M1039.7 226.6h0M1040.2 238.6h0M1037.7 243.5h0M1037.5 248.3h0M1025.7 247.4h0M1037 136.2h0M1039.6 282.9h0M1044.2 272.5h0M1049.7 273.2h0M1037.9 270.7h0M1050.2 265.8h0M1051.7 263.3h0M1010.3 288h0M1023.5 281.3h0M1010.3 290h0M1013.9 279.9h0M1010.4 282.5h0M1023.1 282.5h0M1056.2 339.3h0M1003.7 136.2h0M1007 225h0M1004.2 272.4h0M1005.2 266.5h0"/>
<path class="tk" d="M1009.5 373.5v-6.1 M1009.5 136.5v6.1M1028.5 373.5v-6.1 M1028.5 136.5v6.1M1047.5 373.5v-6.1 M1047.5 136.5v6.1M1066.5 373.5v-6.1 M1066.5 136.5v6.1M1085.5 373.5v-6.1 M1085.5 136.5v6.1M1105.5 373.5v-6.1 M1105.5 136.5v6.1M1124.5 373.5v-6.1 M1124.5 136.5v6.1M1143.5 373.5v-6.1 M1143.5 136.5v6.1M996.5 343.5h6.1 M1154.5 343.5h-6.1M996.5 313.9h6.1 M1154.5 313.9h-6.1M996.5 284.2h6.1 M1154.5 284.2h-6.1M996.5 254.6h6.1 M1154.5 254.6h-6.1M996.5 225h6.1 M1154.5 225h-6.1M996.5 195.4h6.1 M1154.5 195.4h-6.1M996.5 165.8h6.1 M1154.5 165.8h-6.1"/>
<rect class="ax" x="996.5" y="136.5" width="158" height="237"/>
<text class="cc" x="1001.4" y="162">#93</text>
</g>
<g>
<clipPath id="c94"><rect x="1185.5" y="136.5" width="158" height="237"/></clipPath>
<path class="pt" clip-path="url(#c94)" d="M1197.7 276.5h0M1193.3 257.1h0M1192.8 260.8h0M1193.6 263.3h0M1194.1 268.9h0M1210.7 272.9h0M1208.7 274h0M1194 266.2h0M1195.1 259.6h0M1198.6 261.3h0M1204.9 268.4h0M1202.9 264h0M1196.2 272.8h0M1209.1 270.1h0M1199.5 266h0M1200.9 282.4h0M1206.7 268h0M1197.5 269.5h0M1208.3 273.2h0M1204.5 279.8h0M1204.2 255.3h0M1196.9 268.9h0M1192.6 260.5h0M1206.7 270h0M1199 272.9h0M1209.2 264.7h0M1196.8 261.6h0M1209.3 271h0M1196 262h0M1196.5 269.3h0M1210.8 270.7h0M1203.5 259.9h0M1209 278h0M1199.1 277h0M1193.1 261.3h0M1193 257.8h0M1193.7 258.3h0M1194.5 267.1h0M1198.4 275h0M1211.7 273.4h0M1198 272.1h0M1194.7 277h0M1201.7 265.9h0M1192.6 261.7h0M1208.8 273.5h0M1206.8 270.7h0M1197.8 275.2h0M1211.5 267h0M1207.8 269.1h0M1201.5 262.5h0M1196.5 258.1h0M1200.1 253.8h0M1210.8 273.7h0M1195.9 273h0M1208.3 272.5h0M1207.4 281.4h0M1209.8 266h0M1200.7 274.5h0M1197.8 255.3h0M1199 269.8h0M1205.8 278.7h0M1194.5 253.7h0M1194.5 253.2h0M1204.4 267.6h0M1211.2 272.8h0M1210.3 273.2h0M1208 271.7h0M1202.9 262.5h0M1194.2 268.4h0M1209.7 273.6h0M1201.2 266h0M1192.5 253.3h0M1194.9 263h0M1202.3 267h0M1202.2 272.8h0M1196.8 265.7h0M1202.4 259.4h0M1200 278h0M1200.2 268.1h0M1210.5 272.2h0M1210.5 266.3h0M1194.3 266.9h0M1193.3 265.4h0M1209.5 281.3h0M1204.4 282.5h0M1211.1 279.3h0M1199.1 267.1h0M1208.1 278.2h0M1201.4 270.2h0M1192.5 254.3h0M1192.5 264.1h0M1201.4 281.4h0M1207.2 272.8h0M1207 269.8h0M1199.6 253.4h0M1196.4 275.7h0M1202.6 257.7h0M1199.6 279.7h0M1203.9 266.7h0M1208.6 283.3h0M1200.2 259.5h0M1194.2 265.3h0M1193.9 259.8h0M1197.3 260.5h0M1201.1 261.7h0M1192.5 262.4h0M1195.2 262.9h0M1193.8 272.3h0M1220.9 274.4h0M1227.6 270h0M1228.1 276.2h0M1221.1 274.5h0M1213.5 274.3h0M1217.7 274.9h0M1231.9 275.1h0M1218.3 274.2h0M1215.5 271.7h0M1217.9 270.1h0M1217.5 276.8h0M1218.9 274.4h0M1222.7 274.7h0M1216.5 274.2h0M1213.9 274.6h0M1212.8 271.4h0M1225.3 275.6h0M1229.1 278h0M1220.8 281.5h0M1234.5 273h0M1212.8 268.6h0M1232.3 277.4h0M1215 279.1h0M1223.4 273h0M1225.3 281.5h0M1227.5 276.4h0M1214.9 274h0M1214.2 274h0M1226.2 277.3h0M1223.1 269.9h0M1223.4 276.4h0M1227 272.9h0M1213.5 273.8h0M1228.6 274.9h0M1223.2 269.5h0M1222.8 277.5h0M1226.6 282.3h0M1215.2 274h0M1224.9 266.6h0M1213.2 273.8h0M1227.4 271.3h0M1223.7 279.6h0M1232.4 277.7h0M1234.3 274.6h0M1230.7 275.2h0M1222.2 275.5h0M1216.7 271.2h0M1215.1 281.4h0M1230.7 275.4h0M1232.2 275.1h0M1223 278.1h0M1211.9 278.4h0M1215.1 273h0M1219.1 272.6h0M1231.1 276h0M1233.1 278.5h0M1220.4 278.9h0M1234.8 275.3h0M1218.2 276.7h0M1214.2 272.5h0M1217.6 276h0M1223.6 271.9h0M1232.2 272.8h0M1226.3 270.1h0M1228.4 281.6h0M1228.7 278h0M1218.4 273.6h0M1233.1 271.9h0M1218.7 271.7h0M1234.3 274.9h0M1224.6 270.2h0M1215.7 272.7h0M1223.3 273.7h0M1232.7 271.2h0M1216.3 273h0M1219.7 274.5h0M1224.9 274.3h0M1229.1 279.1h0M1220.5 272.3h0M1213.3 275.4h0M1238.1 267.8h0M1240.4 273.8h0M1237.4 273.4h0M1241 268.3h0M1235 278.2h0M1240.7 278.3h0M1237.4 275.8h0M1240.2 269.8h0M1235.5 281.6h0M1238.2 276.3h0M1239 282.5h0M1237.8 275.7h0M1236.3 274.3h0M1239 274.7h0M1239 273.3h0M1235.6 274.1h0M1237.4 274.1h0M1242.3 266.7h0M1244.1 265.4h0M1243.7 268.5h0M1244.1 266.8h0M1240.9 269.2h0M1241.4 269.2h0M1242.7 266.7h0M1245.4 253.3h0M1245.2 256.2h0M1248 253.7h0M1248.5 254.8h0M1250 255.6h0M1251.2 258.9h0M1250.1 257.5h0M1245.1 262.6h0M1248.4 262.5h0M1248.3 263.8h0M1251.6 261.2h0M1252.8 259.9h0M1249.6 262.4h0M1249.3 262.1h0M1254 264.3h0M1254.3 268h0M1254.4 273.7h0M1255.1 274h0M1254.4 273.9h0M1257.3 260.5h0M1257.6 259h0M1259.7 258.8h0M1259.8 253.2h0M1262.1 259.5h0M1258.5 262.4h0M1260.9 263.2h0M1263.3 261.8h0M1262.4 260.4h0M1264.5 264.3h0M1260.9 267.2h0M1262.4 268.4h0M1264.1 268.3h0M1263.5 267.8h0M1266.5 268.8h0M1266.9 268.2h0M1267.8 273.1h0M1268.6 260.2h0M1269.2 260.5h0M1269.8 257.4h0M1269.7 254.9h0M1270.6 260.8h0M1271.8 264h0M1270.6 267.3h0M1273 266.3h0M1273.8 262.6h0M1273.9 265.9h0M1271.4 269.5h0M1272.5 272.9h0M1272.6 273.6h0M1274.6 268.2h0M1275.3 267h0M1275.8 265.9h0M1277.9 264.5h0M1277.9 263.4h0M1279.1 268h0M1277.6 266.9h0M1280.7 268.9h0M1283.1 269.1h0M1284.8 269.2h0M1276.2 276.3h0M1275.6 272.8h0M1278.7 275.3h0M1277.9 279.4h0M1281.9 264.8h0M1267 287.5h0M1267 287.2h0M1263.9 304.5h0M1285.1 282.7h0M1285.9 284.3h0M1284.3 282h0M1285.1 283.6h0M1288.4 276h0M1289.2 280.5h0M1288.4 284.9h0M1289.1 282.5h0M1292.4 283.8h0M1293.2 284.1h0M1294 277.3h0M1295.2 277.6h0M1294.1 277.4h0M1282.7 290.8h0M1285.5 295.9h0M1292 292h0M1292 298.8h0M1291.6 304.5h0M1288.4 324.5h0M1292.4 270.7h0M1293.2 267.7h0M1293.8 267.1h0M1293.6 263.7h0M1294.7 261.4h0M1294.8 265.4h0M1295.6 268h0M1295.7 265.6h0M1296.4 270.7h0M1298 256.9h0M1297.9 257.3h0M1298.9 262h0M1299.7 267.2h0M1300.5 265h0M1301.3 270.8h0M1301.4 272.8h0M1304.1 261h0M1305.3 265.2h0M1304.5 269.9h0M1306.1 262.1h0M1306.9 267.6h0M1307.4 266.1h0M1307.7 271.8h0M1306.9 279.4h0M1306.4 278.2h0M1309.4 281.2h0M1308.9 278.4h0M1310.2 277.6h0M1305.3 274.1h0M1300.9 295.7h0M1300.9 311.4h0M1306.9 285.7h0M1307.3 294.7h0M1313.4 265.6h0M1314.2 270.2h0M1315.5 267.7h0M1312.6 274.8h0M1311.8 280.4h0M1310.8 284h0M1316.6 269.1h0M1317.4 273.5h0M1315.8 275.7h0M1316 276.9h0M1314.2 282.4h0M1314.5 281.5h0M1317.4 283.4h0M1319.1 279.1h0M1318.9 276.1h0M1321.5 262.8h0M1320.9 262.7h0M1322.3 272h0M1320.6 274.2h0M1320.7 274.5h0M1320.1 276.3h0M1323.9 275.6h0M1324.2 275.5h0M1325.5 277.5h0M1322.3 285.4h0M1323.2 280.3h0M1323.1 269.4h0M1319.1 269.6h0M1319.1 271.4h0M1316.6 304.9h0M1325.5 286.9h0M1326.3 291h0M1325.5 293.6h0M1325.5 301.1h0M1327.9 280h0M1330.4 276.1h0M1330.8 275.3h0M1332.8 276.1h0M1335.6 276.2h0M1331.2 281.1h0M1331.6 280.1h0M1334.4 282.1h0M1335.3 280.2h0M1332 285.2h0M1335.6 282.2h0M1336.2 282.5h0M1336.8 280.1h0M1336.6 274.5h0M1329.6 284h0M1327.8 281.7h0M1332.6 316.9h0M1214.1 224.5h0M1215.3 244.4h0M1223.9 225h0M1226.8 226.5h0M1229.3 212.1h0M1226.9 240.9h0M1228.8 243.8h0M1229.3 252.7h0M1226.8 258.1h0M1226.6 266h0M1214.8 263.8h0M1226.1 150.4h0M1228.7 302.9h0M1233.3 288.9h0M1238.8 294.4h0M1227 288.6h0M1239.3 283.8h0M1240.8 277.8h0M1207.5 301.8h0M1213.7 301.2h0M1199.9 299.3h0M1200.3 298.4h0M1199.6 305.5h0M1201 303.4h0M1204 293.8h0M1203.3 298.2h0M1209.4 301.3h0M1199.4 294.4h0M1245.3 355.9h0M1192.4 136.2h0M1194.6 136.2h0M1195.3 242.8h0M1192.6 288.7h0M1194.8 282.8h0"/>
<path class="tk" d="M1198.5 373.5v-6.1 M1198.5 136.5v6.1M1217.5 373.5v-6.1 M1217.5 136.5v6.1M1236.5 373.5v-6.1 M1236.5 136.5v6.1M1255.5 373.5v-6.1 M1255.5 136.5v6.1M1275.5 373.5v-6.1 M1275.5 136.5v6.1M1294.5 373.5v-6.1 M1294.5 136.5v6.1M1313.5 373.5v-6.1 M1313.5 136.5v6.1M1332.5 373.5v-6.1 M1332.5 136.5v6.1M1185.5 343.5h6.1 M1343.5 343.5h-6.1M1185.5 313.9h6.1 M1343.5 313.9h-6.1M1185.5 284.2h6.1 M1343.5 284.2h-6.1M1185.5 254.6h6.1 M1343.5 254.6h-6.1M1185.5 225h6.1 M1343.5 225h-6.1M1185.5 195.4h6.1 M1343.5 195.4h-6.1M1185.5 165.8h6.1 M1343.5 165.8h-6.1"/>
<rect class="ax" x="1185.5" y="136.5" width="158" height="237"/>
<text class="cc" x="1190.5" y="162">#94</text>
</g>
<g>
<clipPath id="c95"><rect x="1374.5" y="136.5" width="158" height="237"/></clipPath>
<path class="pt" clip-path="url(#c95)" d="M1386.8 280h0M1382.4 261.1h0M1381.9 263.1h0M1382.7 267.1h0M1383.3 274.5h0M1399.8 281.2h0M1397.9 281.8h0M1383.2 270.3h0M1384.2 265h0M1387.8 268.1h0M1394 276.7h0M1392 272.6h0M1385.3 276.2h0M1398.2 276.3h0M1388.6 274.1h0M1390.1 290.6h0M1395.8 274.6h0M1386.6 279.3h0M1397.5 282h0M1393.7 286.7h0M1393.3 262.8h0M1386.1 272.1h0M1381.7 263.5h0M1395.9 277.7h0M1388.1 277.7h0M1398.4 273.6h0M1386 268h0M1398.4 277.7h0M1385.2 266.9h0M1385.7 274.6h0M1399.9 279.3h0M1392.7 266.1h0M1398.2 284h0M1388.3 282.1h0M1382.3 263.4h0M1382.2 263.2h0M1382.9 262.7h0M1383.7 272.1h0M1387.6 282.9h0M1400.8 281.2h0M1387.2 278.6h0M1383.9 279h0M1390.9 271.8h0M1381.8 264.3h0M1398 281.5h0M1396 277.8h0M1386.9 276.6h0M1400.7 277.4h0M1397 278.4h0M1390.6 269.4h0M1385.6 263.1h0M1389.2 258.9h0M1400 281.8h0M1385 276.1h0M1397.5 281h0M1396.6 290h0M1399 273.8h0M1389.8 286.1h0M1387 262.2h0M1388.2 274.7h0M1395 285h0M1383.7 258.6h0M1383.6 259.5h0M1393.5 274.3h0M1400.3 282.6h0M1399.5 279.5h0M1397.2 281.9h0M1392.1 271.2h0M1383.4 272.1h0M1398.9 282.7h0M1390.3 270.9h0M1381.7 258.4h0M1384.1 268.9h0M1391.4 274h0M1391.4 281.9h0M1385.9 269.2h0M1391.5 265.2h0M1389.1 281.7h0M1389.3 274.6h0M1399.7 277.3h0M1399.7 275.8h0M1383.5 271.3h0M1382.5 270h0M1398.7 285.3h0M1393.6 287.4h0M1400.3 286h0M1388.3 273.8h0M1397.3 286.3h0M1390.6 278.2h0M1381.7 261.3h0M1381.7 268.5h0M1390.5 286.7h0M1396.3 277.4h0M1396.1 278.6h0M1388.7 259.3h0M1385.6 278.1h0M1391.7 266.5h0M1388.8 284.2h0M1393.1 273.1h0M1397.8 290.8h0M1389.4 266.4h0M1383.3 268.2h0M1383 266.6h0M1386.5 265.5h0M1390.3 267.9h0M1381.7 266.3h0M1384.4 269h0M1383 276.7h0M1410 282.3h0M1416.8 279.8h0M1417.3 282.8h0M1410.3 281.6h0M1402.6 281.1h0M1406.9 281.7h0M1421 282.7h0M1407.5 282.9h0M1404.6 279h0M1407.1 278.1h0M1406.6 281.3h0M1408.1 283.4h0M1411.9 283.8h0M1405.6 283.1h0M1403.1 283.1h0M1402 282.2h0M1414.5 282.4h0M1418.3 282.1h0M1410 285.4h0M1423.6 280.6h0M1402 280h0M1421.5 283.8h0M1404.2 285.5h0M1412.6 282.8h0M1414.4 289.2h0M1416.7 284.1h0M1404.1 282.8h0M1403.4 281.6h0M1415.4 286.3h0M1412.2 278.6h0M1412.6 282.9h0M1416.2 279h0M1402.7 280.2h0M1417.8 281.1h0M1412.4 279.2h0M1412 283.9h0M1415.8 290.1h0M1404.4 283.6h0M1414.1 275.9h0M1402.4 283.8h0M1416.5 280.2h0M1412.9 287.7h0M1421.5 282.5h0M1423.5 283.4h0M1419.9 284.2h0M1411.3 282.6h0M1405.8 281.4h0M1404.3 287.7h0M1419.9 282.6h0M1421.4 284.3h0M1412.2 284.9h0M1401.1 285.9h0M1404.2 280h0M1408.3 283.4h0M1420.3 283.9h0M1422.3 285.5h0M1409.6 289.4h0M1424 286.6h0M1407.3 285.3h0M1403.3 282.7h0M1406.7 285.5h0M1412.7 283.5h0M1421.3 279.4h0M1415.5 277h0M1417.5 288.5h0M1417.8 288.6h0M1407.6 279.9h0M1422.3 280.8h0M1407.8 281h0M1423.5 284.1h0M1413.8 281.2h0M1404.8 282.3h0M1412.4 282.7h0M1421.8 281.1h0M1405.4 283.3h0M1408.9 279.6h0M1414.1 283.7h0M1418.2 285.7h0M1409.7 281.9h0M1402.4 283.2h0M1427.3 277.1h0M1429.6 281.9h0M1426.6 281h0M1430.2 278.4h0M1424.2 288.7h0M1429.8 289.1h0M1426.5 283.3h0M1429.4 276.9h0M1424.7 290.3h0M1427.4 286.2h0M1428.2 288.8h0M1427 283.2h0M1425.5 284.9h0M1428.2 283.9h0M1428.1 281.4h0M1424.7 279h0M1426.5 281.8h0M1431.5 277h0M1433.3 276.1h0M1432.9 273.9h0M1433.3 274.7h0M1430 277.1h0M1430.6 279.9h0M1431.8 275.2h0M1434.5 261h0M1434.3 263.9h0M1437.1 263.4h0M1437.6 262.8h0M1439.2 266.9h0M1440.4 266.9h0M1439.3 266.2h0M1434.3 268.3h0M1437.5 274.8h0M1437.4 271.5h0M1440.8 271.2h0M1441.9 268.2h0M1438.7 269.9h0M1438.5 270.4h0M1443.2 270.7h0M1443.4 275.8h0M1443.6 280.9h0M1444.3 281.2h0M1443.6 284.6h0M1446.4 265.7h0M1446.7 266.8h0M1448.8 265.6h0M1448.9 262.9h0M1451.3 264.6h0M1447.6 271.7h0M1450.1 270.8h0M1452.5 269.8h0M1451.6 269.8h0M1453.7 274.4h0M1450.1 271.4h0M1451.6 274.5h0M1453.3 277.2h0M1452.7 277.6h0M1455.7 276.9h0M1456.1 277.6h0M1456.9 277.4h0M1457.7 269.7h0M1458.4 269.6h0M1458.9 265h0M1458.8 263.8h0M1459.8 268.2h0M1461 272.4h0M1459.8 274.2h0M1462.2 277.3h0M1463 271.7h0M1463.1 273.3h0M1460.6 277.2h0M1461.7 282.7h0M1461.8 285.7h0M1463.8 276.1h0M1464.5 276.5h0M1465 273.8h0M1467 270.5h0M1467.1 271.3h0M1468.2 272.7h0M1466.7 276.1h0M1469.8 277.2h0M1472.3 277.2h0M1474 278h0M1465.4 285.1h0M1464.8 282.4h0M1467.8 283.2h0M1467 288.4h0M1471.1 274.5h0M1456.1 292.9h0M1456.1 295.7h0M1453 312.5h0M1474.3 289.7h0M1475.1 291.1h0M1473.5 289.7h0M1474.3 290.1h0M1477.5 285h0M1478.3 288.8h0M1477.5 292.5h0M1478.3 291.2h0M1481.6 291.7h0M1482.4 293.4h0M1483.2 287.4h0M1484.4 284.6h0M1483.3 287.3h0M1471.9 297.9h0M1474.7 307.4h0M1481.2 300.7h0M1481.2 305.8h0M1480.8 312.6h0M1477.5 331.6h0M1481.6 277.4h0M1482.4 272.9h0M1483 275.2h0M1482.8 269h0M1483.9 269.6h0M1484 274.4h0M1484.8 277.7h0M1484.9 271h0M1485.6 280.8h0M1487.2 267h0M1487 265.2h0M1488 271.5h0M1488.8 276.3h0M1489.6 274.3h0M1490.4 276.8h0M1490.6 280.2h0M1493.3 268.3h0M1494.5 273.6h0M1493.7 282h0M1495.3 269.7h0M1496.1 275.5h0M1496.6 275.1h0M1496.9 281h0M1496.1 284.8h0M1495.6 284.9h0M1498.5 288.6h0M1498.1 288.6h0M1499.3 283.5h0M1494.5 284.9h0M1490 300.8h0M1490 317.8h0M1496.1 294.5h0M1496.5 299.9h0M1502.6 274.2h0M1503.4 276.8h0M1504.7 277.8h0M1501.8 282.7h0M1500.9 287.2h0M1500 291.5h0M1505.8 276.9h0M1506.6 281.6h0M1505 286.3h0M1505.2 286.3h0M1503.4 293.1h0M1503.7 290.2h0M1506.6 290.6h0M1508.2 286.2h0M1508.1 284.5h0M1510.6 273h0M1510.1 275h0M1511.4 279.7h0M1509.8 280.9h0M1509.8 282.7h0M1509.3 284.7h0M1513.1 285.6h0M1513.3 283h0M1514.7 286h0M1511.4 293h0M1512.4 289.4h0M1512.3 276.1h0M1508.2 279.4h0M1508.3 279.3h0M1505.8 310.7h0M1514.7 297.4h0M1515.5 299.9h0M1514.7 304.6h0M1514.7 307.2h0M1517.1 287.9h0M1519.5 285.9h0M1520 284.4h0M1521.9 285.1h0M1524.8 287.6h0M1520.3 292.5h0M1520.8 287.1h0M1523.6 292h0M1524.5 290.5h0M1521.1 292.3h0M1524.8 289.9h0M1525.4 289.9h0M1526 286.9h0M1525.7 283.3h0M1518.7 292.7h0M1516.9 290.3h0M1521.8 325.5h0M1403.3 232.6h0M1404.5 253.8h0M1413.1 230.7h0M1416 234h0M1418.5 218.7h0M1416.1 250.4h0M1418 251.5h0M1418.5 262h0M1416 267.5h0M1415.8 274.1h0M1404 269.1h0M1415.3 158h0M1417.9 310.5h0M1422.5 301.1h0M1428 304.3h0M1416.2 295h0M1428.5 292.2h0M1430 289.5h0M1398 298.3h0M1386.6 294.8h0M1404.3 292.7h0M1398.5 302.8h0M1402.3 292.1h0M1387.8 309.1h0M1385.3 300.6h0M1388.8 301.5h0M1386.3 301.8h0M1400.2 297.6h0M1381.7 300.1h0M1389 285.6h0M1387.2 301.6h0M1405 299.6h0M1383.4 286.2h0M1399 308.8h0M1394.4 299.4h0M1382.2 303.8h0M1396.6 285.9h0M1384.7 295.8h0M1397.7 292.6h0M1398.4 299.6h0M1390.6 299.4h0M1395.4 289.5h0M1394.3 305.8h0M1401.1 309.1h0M1395.3 299.8h0M1392.4 286.4h0M1387.1 283.1h0M1381.7 298.9h0M1394.7 299.4h0M1398.4 290.9h0M1393.2 297h0M1394.5 306.4h0M1386.1 299.8h0M1393.1 298.7h0M1391.5 298.1h0M1386.5 303.3h0M1389.4 304.8h0M1398.7 298.7h0M1389.4 287.8h0M1387.3 303.3h0M1399.5 288.7h0M1394.6 303.7h0M1394.5 291.2h0M1382.2 305.1h0M1434.5 365.7h0M1382 136.2h0M1385.7 251.7h0M1397 313.9h0M1402.3 315.3h0"/>
<path class="tk" d="M1387.5 373.5v-6.1 M1387.5 136.5v6.1M1406.5 373.5v-6.1 M1406.5 136.5v6.1M1425.5 373.5v-6.1 M1425.5 136.5v6.1M1445.5 373.5v-6.1 M1445.5 136.5v6.1M1464.5 373.5v-6.1 M1464.5 136.5v6.1M1483.5 373.5v-6.1 M1483.5 136.5v6.1M1502.5 373.5v-6.1 M1502.5 136.5v6.1M1521.5 373.5v-6.1 M1521.5 136.5v6.1M1374.5 343.5h6.1 M1532.5 343.5h-6.1M1374.5 313.9h6.1 M1532.5 313.9h-6.1M1374.5 284.2h6.1 M1532.5 284.2h-6.1M1374.5 254.6h6.1 M1532.5 254.6h-6.1M1374.5 225h6.1 M1532.5 225h-6.1M1374.5 195.4h6.1 M1532.5 195.4h-6.1M1374.5 165.8h6.1 M1532.5 165.8h-6.1"/>
<rect class="ax" x="1374.5" y="136.5" width="158" height="237"/>
<text class="cc" x="1379.7" y="162">#95</text>
</g>
<g>
<clipPath id="c96"><rect x="1563.5" y="136.5" width="158" height="237"/></clipPath>
<path class="pt" clip-path="url(#c96)" d="M1576 246.8h0M1571.6 228.8h0M1571.1 228.5h0M1571.9 232.7h0M1572.4 237.9h0M1589 244h0M1587 245h0M1572.3 236.3h0M1573.4 233.5h0M1576.9 231.9h0M1583.2 240h0M1581.2 237.4h0M1574.5 240.5h0M1587.4 242.5h0M1577.8 236.3h0M1579.2 252.7h0M1585 240.9h0M1575.8 240.7h0M1586.6 248.2h0M1582.8 254.7h0M1582.5 226.5h0M1575.3 235.6h0M1570.9 230.8h0M1585.1 244.4h0M1577.3 243.3h0M1587.6 235.3h0M1575.1 231.5h0M1587.6 243.6h0M1574.3 229.8h0M1574.9 237.9h0M1589.1 242.8h0M1581.9 233.1h0M1587.4 246.6h0M1577.4 249.2h0M1571.5 230.8h0M1571.3 228h0M1572.1 226.4h0M1572.8 237.6h0M1576.8 248h0M1590 247.6h0M1576.4 243.5h0M1573.1 245.1h0M1580 237.9h0M1571 230.8h0M1587.1 246.1h0M1585.1 241.1h0M1576.1 243.3h0M1589.8 240.6h0M1586.1 241.6h0M1579.8 233.9h0M1574.8 229h0M1578.4 223.4h0M1589.2 244.8h0M1574.2 240.5h0M1586.6 244.5h0M1585.7 254h0M1588.2 238.8h0M1579 246.9h0M1576.2 225.7h0M1577.4 238h0M1584.1 248.5h0M1572.9 224.3h0M1572.8 224.5h0M1582.7 242.6h0M1589.5 244.1h0M1588.7 245.6h0M1586.3 244.1h0M1581.2 236.5h0M1572.5 238.2h0M1588 244.8h0M1579.5 234.2h0M1570.9 222.2h0M1573.2 235.4h0M1580.6 239.7h0M1580.6 244.7h0M1575.1 235.3h0M1580.7 228.4h0M1578.3 245.7h0M1578.5 237.6h0M1588.9 241.4h0M1588.9 239.6h0M1572.6 234.5h0M1571.6 236.1h0M1587.9 251.5h0M1582.8 253.5h0M1589.4 252.4h0M1577.4 237.9h0M1586.5 251h0M1579.8 244.2h0M1570.9 227.4h0M1570.9 234.4h0M1579.7 252.7h0M1585.5 243.4h0M1585.3 240.4h0M1577.9 222.7h0M1574.8 244.8h0M1580.9 227.9h0M1578 249.3h0M1582.2 237.8h0M1587 255h0M1578.5 232.4h0M1572.5 234.1h0M1572.2 230.4h0M1575.6 232.4h0M1579.5 232.2h0M1570.8 232.5h0M1573.5 232.7h0M1572.1 240.2h0M1599.2 247.8h0M1606 246.1h0M1606.4 247.5h0M1599.5 244.9h0M1591.8 245.4h0M1596 245h0M1610.2 248.4h0M1596.6 245.6h0M1593.8 246h0M1596.2 241.5h0M1595.8 248.5h0M1597.3 246.3h0M1601.1 246.1h0M1594.8 247.4h0M1592.2 248.7h0M1591.1 245.5h0M1603.6 246.7h0M1607.4 247.5h0M1599.1 251.3h0M1612.8 243.3h0M1591.2 244h0M1610.7 250.4h0M1593.4 251.2h0M1601.8 243h0M1603.6 251.9h0M1605.9 246.4h0M1593.2 250.6h0M1592.6 246.4h0M1604.6 248.5h0M1601.4 241.3h0M1601.7 249.9h0M1605.3 244.7h0M1591.9 244h0M1606.9 246.9h0M1601.5 242.9h0M1601.2 248.7h0M1604.9 254h0M1593.6 247.7h0M1603.2 238.8h0M1591.6 247.8h0M1605.7 243.6h0M1602 251.2h0M1610.7 246.3h0M1612.7 246.3h0M1609 249.5h0M1600.5 247.9h0M1595 245.4h0M1593.4 250.6h0M1609 247.6h0M1610.6 245.4h0M1601.3 250.2h0M1590.2 249.8h0M1593.4 246.9h0M1597.4 246.3h0M1609.5 244.8h0M1611.5 249.7h0M1598.7 250.6h0M1613.1 248.4h0M1596.5 248.9h0M1592.5 246.9h0M1595.9 249.5h0M1601.9 245.2h0M1610.5 244.7h0M1604.7 241.6h0M1606.7 252.9h0M1607 252.8h0M1596.7 245.3h0M1611.5 246.9h0M1597 244.5h0M1612.6 247.9h0M1603 241.4h0M1594 246.9h0M1601.6 245.7h0M1611 244.4h0M1594.6 246.2h0M1598 246.5h0M1603.3 243.6h0M1607.4 250.1h0M1598.8 243.9h0M1591.6 250.1h0M1616.4 240.8h0M1618.8 249h0M1615.8 246.8h0M1619.4 242.3h0M1613.4 250.3h0M1619 252.3h0M1615.7 245.2h0M1618.5 242.9h0M1613.9 253h0M1616.6 248.9h0M1617.4 253.3h0M1616.1 246.1h0M1614.7 246.6h0M1617.4 247.8h0M1617.3 245.7h0M1613.9 242.8h0M1615.7 246h0M1620.7 237.9h0M1622.5 237.2h0M1622.1 238.1h0M1622.5 234.9h0M1619.2 243.5h0M1619.8 242.9h0M1621 239.4h0M1623.7 225.1h0M1623.5 225.9h0M1626.3 228.4h0M1626.8 225.6h0M1628.3 226.9h0M1629.5 232h0M1628.4 229h0M1623.5 231.8h0M1626.7 234.9h0M1626.6 236h0M1629.9 232.5h0M1631.1 230.8h0M1627.9 234.8h0M1627.7 233h0M1632.4 234.7h0M1632.6 237.8h0M1632.8 241.6h0M1633.5 242.3h0M1632.8 248.1h0M1635.6 229.6h0M1635.9 229.8h0M1638 232.9h0M1638.1 224.9h0M1640.4 227h0M1636.8 234.2h0M1639.2 235.2h0M1641.6 232.4h0M1640.8 230.4h0M1642.9 237.6h0M1639.2 238.4h0M1640.7 239.3h0M1642.5 240.4h0M1641.9 240.4h0M1644.9 239.7h0M1645.2 238.8h0M1646.1 242h0M1646.9 232.7h0M1647.5 232h0M1648.1 227.5h0M1648 225.9h0M1648.9 230.8h0M1650.1 233.3h0M1649 237.7h0M1651.3 239.6h0M1652.1 232.7h0M1652.3 237.3h0M1649.7 239.8h0M1650.8 243.2h0M1650.9 243.6h0M1653 241h0M1653.6 237.8h0M1654.2 233.4h0M1656.2 234h0M1656.2 233.4h0M1657.4 237h0M1655.9 236.8h0M1659 237.9h0M1661.4 238.8h0M1663.2 240.5h0M1654.6 245.7h0M1654 243.8h0M1657 244.8h0M1656.2 252.1h0M1660.2 236.4h0M1645.3 258.1h0M1645.3 256.1h0M1642.2 277.6h0M1663.5 251.6h0M1664.3 254.4h0M1662.6 250.9h0M1663.4 253.2h0M1666.7 246.9h0M1667.5 252.4h0M1666.7 256.2h0M1667.4 253.6h0M1670.7 254.2h0M1671.5 255.5h0M1672.3 249.9h0M1673.6 248.1h0M1672.5 248.6h0M1661 260.9h0M1663.9 268.7h0M1670.3 264h0M1670.3 268.3h0M1669.9 274.8h0M1666.7 297.3h0M1670.7 243h0M1671.5 237h0M1672.1 235.5h0M1671.9 232.6h0M1673 231.6h0M1673.2 235.5h0M1674 238.3h0M1674 235h0M1674.8 241.6h0M1676.4 230h0M1676.2 227.4h0M1677.2 234.8h0M1678 237.4h0M1678.8 236.5h0M1679.6 239.4h0M1679.8 241.7h0M1682.4 230.5h0M1683.7 235.5h0M1682.8 242h0M1684.5 233.2h0M1685.3 236.8h0M1685.8 237.9h0M1686.1 243.9h0M1685.3 248.9h0M1684.8 247.7h0M1687.7 248.5h0M1687.2 251.3h0M1688.5 246.1h0M1683.7 245h0M1679.2 264.1h0M1679.2 280.7h0M1685.3 258.3h0M1685.7 263.6h0M1691.7 233.5h0M1692.5 240.6h0M1693.9 237.8h0M1690.9 245h0M1690.1 251.9h0M1689.2 253.6h0M1695 239.9h0M1695.8 244.9h0M1694.2 247.3h0M1694.4 247.9h0M1692.5 253.4h0M1692.9 250.3h0M1695.8 254.5h0M1697.4 247.5h0M1697.2 245.4h0M1699.8 233.3h0M1699.2 233.3h0M1700.6 243.6h0M1698.9 244.3h0M1699 246.2h0M1698.4 246.8h0M1702.2 248.1h0M1702.5 244.9h0M1703.8 247.5h0M1700.6 252.4h0M1701.6 251.8h0M1701.4 238.9h0M1697.4 239.9h0M1697.4 242.7h0M1695 274h0M1703.8 257.1h0M1704.7 262.7h0M1703.8 264h0M1703.8 271.8h0M1706.3 252.4h0M1708.7 246.8h0M1709.1 247.9h0M1711.1 247.5h0M1713.9 248.6h0M1709.5 254h0M1709.9 251.8h0M1712.7 253.8h0M1713.7 251.9h0M1710.3 257.9h0M1713.9 253.3h0M1714.5 253.3h0M1715.2 249.9h0M1714.9 246h0M1707.9 255.9h0M1706.1 252.1h0M1711 288.2h0M1592.5 196.3h0M1593.7 217.8h0M1602.3 195.6h0M1605.2 197.4h0M1607.7 184h0M1605.3 212.9h0M1607.2 216.4h0M1607.7 225.4h0M1605.2 232.7h0M1605 238h0M1593.2 237.1h0M1604.5 136.2h0M1607.1 273.8h0M1611.7 264.9h0M1617.2 265.9h0M1605.4 257.4h0M1617.7 256.8h0M1619.2 256.5h0M1580.9 274.4h0M1572.1 276.6h0M1578.8 278.2h0M1575.2 283.2h0M1573.5 263.2h0M1571.7 264.6h0M1574.9 257.1h0M1591.3 278.3h0M1572.6 262.9h0M1582.1 270.1h0M1580.4 284.2h0M1571.2 271.3h0M1587.6 273.5h0M1579.1 257.4h0M1571.2 270.7h0M1581.3 265.6h0M1578.5 266.2h0M1581.9 272.1h0M1592.6 270.1h0M1580.5 266.8h0M1571.9 266.1h0M1585 274.8h0M1589.7 271.5h0M1575.5 278.5h0M1591.1 267.4h0M1582.6 267.3h0M1579 270h0M1579.2 268.3h0M1576.3 270.7h0M1575.2 265.2h0M1576.2 261.3h0M1574.1 262.3h0M1588.5 261.1h0M1575.6 271.7h0M1587.1 278.5h0M1623.7 330.7h0M1575.4 305h0M1574 361.2h0M1575.4 365.7h0M1571.5 143.6h0"/>
<path class="tk" d="M1576.5 373.5v-6.1 M1576.5 136.5v6.1M1595.5 373.5v-6.1 M1595.5 136.5v6.1M1615.5 373.5v-6.1 M1615.5 136.5v6.1M1634.5 373.5v-6.1 M1634.5 136.5v6.1M1653.5 373.5v-6.1 M1653.5 136.5v6.1M1672.5 373.5v-6.1 M1672.5 136.5v6.1M1691.5 373.5v-6.1 M1691.5 136.5v6.1M1710.5 373.5v-6.1 M1710.5 136.5v6.1M1563.5 343.5h6.1 M1721.5 343.5h-6.1M1563.5 313.9h6.1 M1721.5 313.9h-6.1M1563.5 284.2h6.1 M1721.5 284.2h-6.1M1563.5 254.6h6.1 M1721.5 254.6h-6.1M1563.5 225h6.1 M1721.5 225h-6.1M1563.5 195.4h6.1 M1721.5 195.4h-6.1M1563.5 165.8h6.1 M1721.5 165.8h-6.1"/>
<rect class="ax" x="1563.5" y="136.5" width="158" height="237"/>
<text class="cc" x="1568.9" y="162">#96</text>
</g>
<g>
<clipPath id="c81"><rect x="239.5" y="420.5" width="158" height="237"/></clipPath>
<path class="pt" clip-path="url(#c81)" d="M251.8 571.6h0M247.5 549.9h0M246.9 555.5h0M247.7 560.8h0M248.3 567.2h0M264.8 561.7h0M262.9 565.5h0M248.2 562.7h0M249.2 554.1h0M252.8 551.6h0M259 556h0M257 555.9h0M250.4 570.3h0M263.2 563.3h0M253.7 558.2h0M255.1 572.6h0M260.8 560.8h0M251.6 563.9h0M262.5 565.4h0M258.7 574.4h0M258.3 548.4h0M251.1 563.7h0M246.7 556.5h0M260.9 558.8h0M253.1 566.6h0M263.4 557.1h0M251 554.3h0M263.4 563.2h0M250.2 554.1h0M250.7 565.1h0M265 562.2h0M257.7 549.3h0M263.2 568.5h0M253.3 572.8h0M247.3 555.6h0M247.2 553.1h0M247.9 549.4h0M248.7 563.8h0M252.6 572.4h0M265.8 564.9h0M252.2 566.7h0M248.9 575.6h0M255.9 557.9h0M246.8 556.3h0M263 564.7h0M261 564.1h0M251.9 567.5h0M265.7 558.9h0M262 559.8h0M255.6 551.3h0M250.6 551.7h0M254.2 542.5h0M265 563h0M250 567.7h0M262.5 563.6h0M261.6 573.7h0M264 558.9h0M254.8 571.4h0M252 547.1h0M253.2 559.7h0M260 570.8h0M248.7 544.1h0M248.6 547.1h0M258.5 561.3h0M265.3 564.5h0M264.5 566.7h0M262.2 562.1h0M257.1 554.2h0M248.4 567.7h0M263.9 566.3h0M255.3 554.5h0M246.7 545.1h0M249.1 559.6h0M256.4 556.3h0M256.4 563.4h0M251 560.8h0M256.5 550.8h0M254.2 569.5h0M254.3 559.4h0M264.7 561.6h0M264.7 558h0M248.5 564.5h0M247.5 565.6h0M263.7 573.9h0M258.6 571.1h0M265.3 571.3h0M253.3 558.4h0M262.3 568.3h0M255.6 561.9h0M246.7 546.5h0M246.7 562.9h0M255.5 575.2h0M261.3 561.1h0M261.1 561.1h0M253.7 543.5h0M250.6 570.6h0M256.7 548h0M253.8 573.9h0M258.1 557h0M262.8 573.2h0M254.4 552.2h0M248.4 560.2h0M248 555.9h0M251.5 551.1h0M255.3 552h0M246.7 556.8h0M249.4 558.9h0M248 570.4h0M275 567.4h0M281.8 563.9h0M282.3 567h0M275.3 568.5h0M267.6 566.2h0M271.9 565.1h0M286 565.6h0M272.5 565.9h0M269.6 563.5h0M272.1 555.3h0M271.6 570h0M273.1 566.7h0M276.9 564.7h0M270.6 570.1h0M268.1 566.3h0M267 562.4h0M279.5 565.1h0M283.3 571.5h0M275 570.9h0M288.6 563.4h0M267 561.7h0M286.5 571.8h0M269.2 573.4h0M277.6 563h0M279.4 571.7h0M281.7 566.7h0M269.1 569.8h0M268.4 562.6h0M280.4 572.2h0M277.3 560.3h0M277.6 566.8h0M281.2 559.1h0M267.7 564.9h0M282.8 564.5h0M277.4 560.1h0M277 568.8h0M280.8 576.4h0M269.4 565.9h0M279.1 553.7h0M267.4 567.2h0M281.5 561h0M277.9 575.6h0M286.6 565.5h0M288.5 566.2h0M284.9 568.1h0M276.3 565.8h0M270.8 560.9h0M269.3 575.8h0M284.9 569.2h0M286.4 568.1h0M277.2 572.4h0M266.1 570.6h0M269.2 563.7h0M273.3 568.2h0M285.3 565.7h0M287.3 568.5h0M274.6 574.5h0M289 570.3h0M272.3 571.1h0M268.3 564.4h0M271.7 568.5h0M277.8 565.8h0M286.3 562.2h0M280.5 559.7h0M282.6 576.8h0M282.8 572.5h0M272.6 561.4h0M287.3 562.9h0M272.8 564.8h0M288.5 568.2h0M278.8 561.7h0M269.8 563.8h0M277.4 560.5h0M286.8 562.9h0M270.4 566.9h0M273.9 562.5h0M279.1 564.6h0M283.2 570.9h0M274.7 564.6h0M267.4 568.1h0M292.3 556.5h0M294.6 564.7h0M291.6 563.1h0M295.2 556.4h0M289.2 573.9h0M294.8 578h0M291.5 565.7h0M294.4 559.5h0M289.7 577.6h0M292.4 572.2h0M293.2 575.7h0M292 566h0M290.5 565.9h0M293.2 567.2h0M293.1 566.5h0M289.7 561.2h0M291.5 564.8h0M296.5 557.6h0M298.3 557.9h0M297.9 560.7h0M298.3 557.1h0M295 559.1h0M295.6 562.2h0M296.8 556.8h0M299.6 543.7h0M299.3 547.7h0M302.1 545.9h0M302.6 545.3h0M304.2 548.6h0M305.4 551h0M304.3 551.7h0M299.3 554.2h0M302.5 556.1h0M302.4 555.2h0M305.8 555.1h0M306.9 552.2h0M303.8 552.9h0M303.5 553.7h0M308.2 555.8h0M308.4 558.6h0M308.6 563.3h0M309.3 565.3h0M308.6 568.9h0M311.4 551.5h0M311.7 551.2h0M313.9 549.2h0M313.9 546.4h0M316.3 550.3h0M312.6 555.6h0M315.1 556.4h0M317.5 553.2h0M316.6 550.9h0M318.7 555.4h0M315.1 557.5h0M316.6 559.6h0M318.3 560.9h0M317.7 560.2h0M320.7 560.5h0M321.1 560.5h0M321.9 563.4h0M322.7 553h0M323.4 552.1h0M323.9 547.1h0M323.8 547.9h0M324.8 552.7h0M326 555.9h0M324.8 558.3h0M327.2 558.1h0M328 556.1h0M328.1 558h0M325.6 560.6h0M326.7 563.9h0M326.8 565.6h0M328.8 558.9h0M329.5 559.3h0M330 556.3h0M332 557.4h0M332.1 554.1h0M333.2 560.1h0M331.7 558.7h0M334.9 560.8h0M337.3 559.7h0M339 561.1h0M330.4 567.2h0M329.8 565h0M332.8 566.9h0M332 571.3h0M336.1 556.4h0M321.1 580h0M321.1 579.1h0M318.1 597.3h0M339.3 570.6h0M340.1 575.9h0M338.5 575.5h0M339.3 574.8h0M342.5 568.2h0M343.3 573.4h0M342.5 577.1h0M343.3 573.2h0M346.6 572.9h0M347.4 577.5h0M348.2 569.9h0M349.4 569.4h0M348.3 570h0M336.9 580.3h0M339.7 588.1h0M346.2 582.4h0M346.2 592.3h0M345.8 600.6h0M342.5 616.8h0M346.6 563h0M347.4 557.8h0M348 558.1h0M347.8 553.7h0M348.9 551.4h0M349 555h0M349.8 562.4h0M349.9 555.8h0M350.6 564h0M352.2 550.9h0M352 549.1h0M353 554.5h0M353.8 559.8h0M354.6 558.6h0M355.5 561.2h0M355.6 562.8h0M358.3 552.2h0M359.5 558.1h0M358.7 562h0M360.3 552.1h0M361.1 560.8h0M361.6 559.5h0M361.9 563h0M361.1 570.2h0M360.6 569.6h0M363.5 574.2h0M363.1 573.3h0M364.3 565.5h0M359.5 566.7h0M355 585.4h0M355 600.7h0M361.1 577h0M361.5 583.3h0M367.6 556.6h0M368.4 561.6h0M369.7 561.7h0M366.8 566.5h0M366 573.6h0M365 575.7h0M370.8 560.2h0M371.6 563.5h0M370 570.5h0M370.2 569.5h0M368.4 574.2h0M368.7 570.7h0M371.6 574h0M373.2 570.9h0M373.1 566.1h0M375.6 557h0M375.1 554.8h0M376.5 563.1h0M374.8 564h0M374.8 568.7h0M374.3 568.4h0M378.1 569.5h0M378.4 568.9h0M379.7 570.2h0M376.5 575.5h0M377.4 571.5h0M377.3 560.1h0M373.2 561.5h0M373.3 564.6h0M370.8 596.2h0M379.7 581.2h0M380.5 583.3h0M379.7 589.2h0M379.7 590.3h0M382.1 570.9h0M384.5 570.6h0M385 568h0M387 568.2h0M389.8 571.3h0M385.3 573.5h0M385.8 571.4h0M388.6 575.1h0M389.5 574.7h0M386.1 579.5h0M389.8 575h0M390.4 575h0M391 570.6h0M390.7 566.8h0M383.7 574.1h0M381.9 573.2h0M386.8 608.9h0M268.3 519.3h0M269.5 539.4h0M278.1 518.6h0M281 520.5h0M283.5 507.6h0M281.1 534.8h0M283 539.5h0M283.5 545.9h0M281 554.5h0M280.8 557.5h0M269 556.5h0M280.3 444.3h0M282.9 593.8h0M287.5 584.6h0M293 586.5h0M281.2 579.7h0M293.5 574.8h0M295 571.1h0M257.3 594.7h0M257.4 585.5h0M254.3 593.2h0M249.2 588.4h0M258.2 597.1h0M261 584.3h0M261.8 592.2h0M251.8 583.6h0M259.5 591.8h0M269.2 596.5h0M250.7 593.1h0M251.3 595.4h0M258.5 595.3h0M251.5 588.3h0M299.5 648.1h0M247 420.4h0M250.7 487.7h0M249.3 501.6h0M249.3 524.1h0M250.7 526.1h0M252.2 535.9h0"/>
<path class="tk" d="M252.5 657.5v-6.1 M252.5 420.5v6.1M271.5 657.5v-6.1 M271.5 420.5v6.1M290.5 657.5v-6.1 M290.5 420.5v6.1M310.5 657.5v-6.1 M310.5 420.5v6.1M329.5 657.5v-6.1 M329.5 420.5v6.1M348.5 657.5v-6.1 M348.5 420.5v6.1M367.5 657.5v-6.1 M367.5 420.5v6.1M386.5 657.5v-6.1 M386.5 420.5v6.1M239.5 627.7h6.1 M397.5 627.7h-6.1M239.5 598.1h6.1 M397.5 598.1h-6.1M239.5 568.5h6.1 M397.5 568.5h-6.1M239.5 538.9h6.1 M397.5 538.9h-6.1M239.5 509.3h6.1 M397.5 509.3h-6.1M239.5 479.7h6.1 M397.5 479.7h-6.1M239.5 450.1h6.1 M397.5 450.1h-6.1"/>
<rect class="ax" x="239.5" y="420.5" width="158" height="237"/>
<text class="cc" x="244.7" y="446.2">#81</text>
<text class="tl" text-anchor="end" x="232.2" y="663.3">23.8</text>
<text class="tl" text-anchor="end" x="232.2" y="633.7">23.9</text>
<text class="tl" text-anchor="end" x="232.2" y="604.1">24.0</text>
<text class="tl" text-anchor="end" x="232.2" y="574.5">24.1</text>
<text class="tl" text-anchor="end" x="232.2" y="544.9">24.2</text>
<text class="tl" text-anchor="end" x="232.2" y="515.3">24.3</text>
<text class="tl" text-anchor="end" x="232.2" y="485.7">24.4</text>
<text class="tl" text-anchor="end" x="232.2" y="456.1">24.5</text>
<text class="tl" text-anchor="end" x="232.2" y="426.4">24.6</text>
</g>
<g>
<clipPath id="c82"><rect x="428.5" y="420.5" width="158" height="237"/></clipPath>
<path class="pt" clip-path="url(#c82)" d="M441 555.9h0M436.6 539.1h0M436.1 546.5h0M436.9 549.4h0M437.4 554.4h0M454 562.9h0M452 563.1h0M437.3 553.5h0M438.4 545.6h0M441.9 543.9h0M448.2 547.4h0M446.2 546.3h0M439.5 555.8h0M452.4 564.7h0M442.8 548.3h0M444.2 561.2h0M450 560.2h0M440.8 551.6h0M451.6 567.2h0M447.8 560.9h0M447.5 535.7h0M440.3 552.2h0M435.9 544.8h0M450.1 562.2h0M442.3 553.9h0M452.6 559.3h0M440.1 545h0M452.6 563.4h0M439.3 543.7h0M439.9 551.4h0M454.1 560.3h0M446.9 541h0M452.4 571.1h0M442.4 557.8h0M436.5 543.8h0M436.3 542.2h0M437.1 542.9h0M437.8 552.3h0M441.8 556.8h0M455 564h0M441.4 552.3h0M438.1 559.7h0M445 547.4h0M436 545.3h0M452.1 565.5h0M450.1 562.1h0M441.1 555.8h0M454.8 559.9h0M451.2 559.1h0M444.8 543.8h0M439.8 542.2h0M443.4 535.7h0M454.2 565.6h0M439.2 555.3h0M451.6 566.2h0M450.7 574h0M453.2 560.3h0M444 557.6h0M441.2 539.2h0M442.4 549.7h0M449.1 557.9h0M437.9 535.8h0M437.8 537.6h0M447.7 549.2h0M454.5 565h0M453.7 563.6h0M451.3 563.7h0M446.2 545.3h0M437.6 554.4h0M453 567.1h0M444.5 547.5h0M435.9 538.4h0M438.2 549.5h0M445.6 548.2h0M445.6 551.3h0M440.1 551.1h0M445.7 543h0M443.3 554.6h0M443.5 549.2h0M453.9 561.9h0M453.9 557.7h0M437.7 548.2h0M436.6 552.3h0M452.9 570.2h0M447.8 556.8h0M454.4 572.1h0M442.4 547.4h0M451.5 570h0M444.8 552h0M435.9 537.3h0M435.9 553h0M444.7 559.2h0M450.5 563.7h0M450.3 562.4h0M442.9 536.1h0M439.8 553.9h0M445.9 543.4h0M443 561h0M447.2 546.9h0M452 574.8h0M443.5 543.8h0M437.5 546h0M437.2 544.7h0M440.6 545.3h0M444.5 543.8h0M435.8 546.1h0M438.5 549.9h0M437.1 555.7h0M464.2 563.2h0M471 549.8h0M471.4 553.2h0M464.5 566.2h0M456.8 565.1h0M461 563.9h0M475.2 551.1h0M461.7 563.5h0M458.8 563.1h0M461.2 557.5h0M460.8 567.3h0M462.3 565.7h0M466.1 548.4h0M459.8 564h0M457.2 564.2h0M456.1 561h0M468.6 550.8h0M472.4 556.6h0M464.1 571.2h0M477.8 547.9h0M456.2 561.8h0M475.7 557.1h0M458.4 569.4h0M466.8 547.2h0M468.6 559h0M470.9 554.3h0M458.2 569.5h0M457.6 561.7h0M469.6 556.7h0M466.4 546.8h0M466.7 554.7h0M470.3 548h0M456.9 563.1h0M471.9 549.8h0M466.5 548.8h0M466.2 554.5h0M469.9 561.4h0M458.6 569h0M468.2 542.9h0M456.6 567.5h0M470.7 547.4h0M467 559.8h0M475.7 552.3h0M477.7 550.5h0M474 555.6h0M465.5 551.1h0M460 563.6h0M458.4 573.1h0M474 551.8h0M475.6 552.5h0M466.3 557.5h0M455.2 570.6h0M458.4 566.5h0M462.4 567.4h0M474.5 554.2h0M476.5 554.4h0M463.7 575h0M478.1 556.4h0M461.5 567.9h0M457.5 563.2h0M460.9 568.5h0M466.9 551.9h0M475.5 550.1h0M469.7 545.7h0M471.7 560.6h0M472 559.6h0M461.7 563.3h0M476.5 549.6h0M462 560.2h0M477.6 552.7h0M468 547h0M459 563.5h0M466.6 550.6h0M476 550h0M459.6 564.6h0M463 561.3h0M468.3 550.9h0M472.4 556h0M463.8 565.2h0M456.6 565.8h0M481.4 544.5h0M483.8 551.6h0M480.8 549.6h0M484.4 543.9h0M478.4 557.7h0M484 560.2h0M480.7 551.3h0M483.5 545.7h0M478.9 559.3h0M481.6 558.5h0M482.4 559.8h0M481.1 554.3h0M479.7 554.1h0M482.4 553.2h0M482.3 548.4h0M478.9 548.1h0M480.7 549.4h0M485.7 542.7h0M487.5 542.6h0M487.1 545.8h0M487.5 542.5h0M484.2 546.1h0M484.8 547.5h0M486 545.5h0M488.7 533.9h0M488.5 533.2h0M491.3 534.3h0M491.8 532.3h0M493.3 533.6h0M494.5 537.3h0M493.4 535.7h0M488.5 540.5h0M491.7 545.3h0M491.6 541.5h0M494.9 539.8h0M496.1 537.6h0M492.9 538.4h0M492.7 540.6h0M497.4 542.4h0M497.6 545.7h0M497.8 545.4h0M498.5 552.4h0M497.8 553.2h0M500.6 537.2h0M500.9 536.1h0M503 536.1h0M503.1 532.3h0M505.4 536h0M501.8 541.1h0M504.2 544.1h0M506.7 537.6h0M505.8 538.7h0M507.9 542.4h0M504.2 540.4h0M505.7 545.9h0M507.5 546.9h0M506.9 548.5h0M509.9 546h0M510.3 547.3h0M511.1 548.5h0M511.9 539.4h0M512.5 537.5h0M513.1 534.6h0M513 534.5h0M513.9 537.8h0M515.1 541.8h0M514 544.6h0M516.3 542.9h0M517.2 540h0M517.3 543.5h0M514.7 545.7h0M515.9 550.8h0M515.9 554.4h0M518 544.4h0M518.6 545.2h0M519.2 543.7h0M521.2 541.1h0M521.2 541.1h0M522.4 543.9h0M520.9 545.8h0M524 546.1h0M526.4 547h0M528.2 547.9h0M519.6 556h0M519 550.5h0M522 553.5h0M521.2 558.1h0M525.2 546.4h0M510.3 564.6h0M510.3 564.7h0M507.2 582.5h0M528.5 557h0M529.3 560.1h0M527.7 560.8h0M528.4 560h0M531.7 553.1h0M532.5 558.5h0M531.7 562h0M532.4 561.4h0M535.7 559.8h0M536.5 565.9h0M537.3 556.5h0M538.6 554.4h0M537.5 554.5h0M526 567.2h0M528.9 573.9h0M535.3 567h0M535.3 576.3h0M534.9 582.8h0M531.7 603h0M535.7 550.6h0M536.5 543.1h0M537.1 544.3h0M536.9 538.9h0M538 539.9h0M538.2 541.7h0M539 547.7h0M539 541.8h0M539.8 549.3h0M541.4 535.7h0M541.2 536h0M542.2 542.9h0M543 546.1h0M543.8 542.8h0M544.6 545h0M544.8 548.4h0M547.4 536.8h0M548.7 539.9h0M547.8 548.3h0M549.5 539.2h0M550.3 545.6h0M550.8 544.9h0M551.1 550.5h0M550.3 554.2h0M549.8 554h0M552.7 558.5h0M552.2 557.9h0M553.5 552.8h0M548.7 549.2h0M544.2 572.7h0M544.2 586.9h0M550.3 566.3h0M550.7 570.3h0M556.7 544.2h0M557.5 546.9h0M558.9 546.9h0M555.9 554h0M555.1 557.8h0M554.2 561.2h0M560 546.5h0M560.8 551.5h0M559.2 554.6h0M559.4 555.6h0M557.5 560.7h0M557.9 558.2h0M560.8 559.6h0M562.4 555.8h0M562.2 553.5h0M564.8 543.6h0M564.2 540.9h0M565.6 549.8h0M564 551.7h0M564 552.4h0M563.4 554.3h0M567.2 551.6h0M567.5 554.6h0M568.8 555.6h0M565.6 558.3h0M566.6 559.3h0M566.4 545.4h0M562.4 548.8h0M562.4 550.6h0M560 582.2h0M568.8 564.8h0M569.7 572.2h0M568.8 574.4h0M568.8 576.6h0M571.3 557.2h0M573.7 558h0M574.1 555.5h0M576.1 555.9h0M578.9 556.8h0M574.5 560.3h0M574.9 557.7h0M577.7 558.5h0M578.7 561.2h0M575.3 564.9h0M578.9 561.2h0M579.5 560.4h0M580.2 555.2h0M579.9 553.1h0M572.9 560.4h0M571.1 560.5h0M576 593.5h0M457.5 496.9h0M458.7 520.4h0M467.3 497.1h0M470.2 500.4h0M472.7 487.7h0M470.3 518.6h0M472.2 520.8h0M472.7 529.6h0M470.2 534.1h0M470 541.1h0M458.2 541.5h0M469.5 424.3h0M472.1 580.8h0M476.7 568.1h0M482.2 571.4h0M470.4 564.3h0M482.7 563.9h0M484.2 556.9h0M488.7 634.2h0M436.2 420.4h0M445.6 584.2h0M443.8 590.1h0M449.6 590.1h0M453.4 590.7h0M451.4 594.5h0M455.4 594.5h0M458.4 598.1h0M449.4 601.1h0M449.6 604h0M443.8 608.5h0M456.7 612.9h0M452.1 617.3h0M456.7 621.8h0M451.1 578.8h0M457.9 581.8h0M435.4 580.3h0M471.9 578.8h0M460.2 657.3h0M465 657.3h0M438.6 527.9h0M439.9 439.7h0"/>
<path class="tk" d="M441.5 657.5v-6.1 M441.5 420.5v6.1M460.5 657.5v-6.1 M460.5 420.5v6.1M480.5 657.5v-6.1 M480.5 420.5v6.1M499.5 657.5v-6.1 M499.5 420.5v6.1M518.5 657.5v-6.1 M518.5 420.5v6.1M537.5 657.5v-6.1 M537.5 420.5v6.1M556.5 657.5v-6.1 M556.5 420.5v6.1M575.5 657.5v-6.1 M575.5 420.5v6.1M428.5 627.7h6.1 M586.5 627.7h-6.1M428.5 598.1h6.1 M586.5 598.1h-6.1M428.5 568.5h6.1 M586.5 568.5h-6.1M428.5 538.9h6.1 M586.5 538.9h-6.1M428.5 509.3h6.1 M586.5 509.3h-6.1M428.5 479.7h6.1 M586.5 479.7h-6.1M428.5 450.1h6.1 M586.5 450.1h-6.1"/>
<rect class="ax" x="428.5" y="420.5" width="158" height="237"/>
<text class="cc" x="433.9" y="446.2">#82</text>
</g>
<g>
<clipPath id="c83"><rect x="618.5" y="420.5" width="157" height="237"/></clipPath>
<path class="pt" clip-path="url(#c83)" d="M630.2 559.4h0M625.8 538.2h0M625.3 542.6h0M626.1 548.2h0M626.6 552.9h0M643.2 558h0M641.2 557.7h0M626.5 552.6h0M627.6 543.4h0M631.1 544.5h0M637.4 555.3h0M635.4 549.7h0M628.7 556.6h0M641.6 557.1h0M632 551.2h0M633.4 567h0M639.2 555.1h0M630 555.2h0M640.8 560.8h0M637 568.8h0M636.7 540h0M629.4 550.8h0M625.1 540.6h0M639.2 555h0M631.5 557.5h0M641.7 554.9h0M629.3 542.4h0M641.8 555.9h0M628.5 544.9h0M629 553.9h0M643.3 557.5h0M636 543.9h0M641.5 566.6h0M631.6 563h0M625.6 542.1h0M625.5 543h0M626.2 540.1h0M627 551.2h0M630.9 560.7h0M644.2 560.6h0M630.5 557.9h0M627.2 558.5h0M634.2 550.2h0M625.1 543.3h0M641.3 560.3h0M639.3 557.7h0M630.3 556.7h0M644 554.2h0M640.3 555.4h0M634 545.9h0M629 541.3h0M632.6 535.7h0M643.3 561.1h0M628.4 556.5h0M640.8 559.1h0M639.9 567.5h0M642.3 552.3h0M633.2 561.8h0M630.3 538.4h0M631.5 554.1h0M638.3 565h0M627.1 535.5h0M627 536.7h0M636.9 557.8h0M643.7 561.7h0M642.9 560.9h0M640.5 560.2h0M635.4 548h0M626.7 552.3h0M642.2 561h0M633.7 549.5h0M625 537h0M627.4 546.8h0M634.8 553.3h0M634.7 558.4h0M629.3 549.9h0M634.9 544.8h0M632.5 561.2h0M632.7 551.9h0M643 555.2h0M643 553.2h0M626.8 549.7h0M625.8 546.7h0M642 565h0M636.9 567.4h0M643.6 570.1h0M631.6 550.2h0M640.6 565.1h0M633.9 558.1h0M625 535.9h0M625 548h0M633.9 565.7h0M639.7 557.3h0M639.5 554.6h0M632.1 536.4h0M628.9 559.1h0M635.1 540.7h0M632.1 566.2h0M636.4 552.2h0M641.1 567.8h0M632.7 545h0M626.7 547.4h0M626.4 545.3h0M629.8 542h0M633.6 544.7h0M625 544.4h0M627.7 547h0M626.3 557.1h0M653.4 561.5h0M660.1 560.2h0M660.6 564.1h0M653.6 560.6h0M646 559.9h0M650.2 561.2h0M664.4 563.6h0M650.8 562.5h0M648 559.8h0M650.4 559h0M650 562.4h0M651.5 562.8h0M655.2 560.2h0M649 560.6h0M646.4 559.9h0M645.3 558.9h0M657.8 561.4h0M661.6 564.2h0M653.3 563.3h0M667 560.5h0M645.3 557.6h0M664.8 564.2h0M647.5 565.6h0M655.9 557.4h0M657.8 564.9h0M660 564h0M647.4 565.1h0M646.7 561.6h0M658.7 564.5h0M655.6 557.3h0M655.9 563.3h0M659.5 558.7h0M646 558.8h0M661.1 561.3h0M655.7 558.8h0M655.3 561.8h0M659.1 567.4h0M647.7 561.4h0M657.4 555.7h0M645.7 561.5h0M659.9 559.2h0M656.2 565.4h0M664.9 562.5h0M666.8 562.9h0M663.2 560.9h0M654.7 561.4h0M649.2 559h0M647.6 568.7h0M663.2 564.1h0M664.7 562.5h0M655.5 565.4h0M644.4 565.9h0M647.6 562.7h0M651.6 561.2h0M663.6 562.6h0M665.6 563.7h0M652.9 566.1h0M667.3 563.9h0M650.7 563.8h0M646.7 561.7h0M650.1 563.8h0M656.1 562.2h0M664.7 562h0M658.8 554.8h0M660.9 566.4h0M661.2 566.4h0M650.9 559.8h0M665.6 558.8h0M651.2 560.6h0M666.8 561.6h0M657.2 554.5h0M648.2 559.5h0M655.8 560h0M665.2 559.1h0M648.8 561.9h0M652.2 562.7h0M657.4 561.3h0M661.6 566h0M653 559.6h0M645.8 562.7h0M670.6 557.5h0M672.9 561.2h0M669.9 561.9h0M673.5 554.8h0M667.5 567.8h0M673.2 566.6h0M669.9 560.9h0M672.7 555.4h0M668 569.6h0M670.7 564.4h0M671.5 567.1h0M670.3 561.2h0M668.8 562.7h0M671.5 562.7h0M671.5 563.4h0M668.1 561.4h0M669.9 560.4h0M674.8 555.2h0M676.6 552.9h0M676.3 556.2h0M676.6 551.7h0M673.4 556.7h0M673.9 557.4h0M675.2 553.5h0M677.9 540.7h0M677.7 543.9h0M680.5 542.3h0M681 540.8h0M682.5 544.9h0M683.7 545.8h0M682.6 545h0M677.6 551.7h0M680.9 553.3h0M680.8 552.2h0M684.1 550h0M685.3 547.4h0M682.1 547.7h0M681.8 547h0M686.5 552.4h0M686.8 555.3h0M686.9 559.8h0M687.6 559.9h0M686.9 561.6h0M689.8 546.3h0M690.1 546.5h0M692.2 546h0M692.3 542.8h0M694.6 545.8h0M691 547.7h0M693.4 550.9h0M695.8 548.6h0M695 546.1h0M697 549.8h0M693.4 554.1h0M694.9 555h0M696.6 556.2h0M696 555.6h0M699 555.8h0M699.4 555.2h0M700.3 557.1h0M701.1 549.2h0M701.7 546.7h0M702.3 544.8h0M702.2 543.5h0M703.1 548.6h0M704.3 550.9h0M703.1 552.9h0M705.5 552.8h0M706.3 549.7h0M706.4 552.5h0M703.9 557.5h0M705 560.8h0M705.1 560.8h0M707.1 555h0M707.8 555.3h0M708.3 550.9h0M710.4 550.2h0M710.4 550.6h0M711.6 553.4h0M710.1 555.7h0M713.2 555.2h0M715.6 557h0M717.4 556.7h0M708.7 566.2h0M708.1 561h0M711.2 564.4h0M710.4 566.6h0M714.4 553.7h0M699.5 574.3h0M699.5 575.1h0M696.4 592.7h0M717.6 565h0M718.4 570.6h0M716.8 569.6h0M717.6 568.7h0M720.9 563.1h0M721.7 566.3h0M720.9 572h0M721.6 570.5h0M724.9 573h0M725.7 573.5h0M726.5 566.5h0M727.7 565.6h0M726.6 564.3h0M715.2 576.4h0M718 585.3h0M724.5 578.5h0M724.5 585.7h0M724.1 594.2h0M720.9 610.8h0M724.9 555.9h0M725.7 554h0M726.3 553.3h0M726.1 546.7h0M727.2 548.5h0M727.3 549.8h0M728.1 556.7h0M728.2 552.9h0M728.9 558.6h0M730.6 545.2h0M730.4 545.3h0M731.4 548.1h0M732.2 556h0M733 554.9h0M733.8 555.8h0M733.9 560.7h0M736.6 548.8h0M737.8 550.7h0M737 559.4h0M738.6 550.5h0M739.4 555.4h0M739.9 554.8h0M740.2 562.5h0M739.4 565.8h0M738.9 564h0M741.9 568h0M741.4 567.9h0M742.7 563.1h0M737.8 563.4h0M733.4 582.6h0M733.4 595.5h0M739.4 573.6h0M739.8 578.5h0M745.9 552.3h0M746.7 555.8h0M748 556.2h0M745.1 562h0M744.3 567.3h0M743.3 571.2h0M749.1 554.9h0M749.9 557.9h0M748.3 563.9h0M748.5 565.4h0M746.7 569.8h0M747 566.7h0M749.9 572.7h0M751.6 565.8h0M751.4 562.4h0M754 552.5h0M753.4 549.7h0M754.8 558.7h0M753.1 561.1h0M753.2 561.7h0M752.6 562.8h0M756.4 561.7h0M756.7 564.2h0M758 566h0M754.8 569h0M755.7 567.6h0M755.6 553.8h0M751.6 559.5h0M751.6 558.7h0M749.1 591.2h0M758 572.8h0M758.8 577.5h0M758 584.1h0M758 586.4h0M760.4 566.3h0M762.9 566.4h0M763.3 564.3h0M765.3 565.4h0M768.1 562.6h0M763.7 568.1h0M764.1 565.5h0M766.9 569.2h0M767.8 566.8h0M764.5 573.6h0M768.1 569h0M768.7 569.3h0M769.3 568.6h0M769.1 562.1h0M762.1 571.6h0M760.3 567.2h0M765.1 600h0M646.6 510.2h0M647.8 531.2h0M656.4 512.5h0M659.3 512.7h0M661.8 499.2h0M659.4 528.1h0M661.3 531.1h0M661.8 543.3h0M659.3 545.7h0M659.1 552.8h0M647.3 550.9h0M658.6 437.1h0M661.2 589.8h0M665.8 577h0M671.3 580.6h0M659.5 574.3h0M671.8 571.5h0M673.3 566.6h0M646.7 581.8h0M637.8 590.3h0M635.4 592.1h0M641.7 586.5h0M632.8 587h0M638.3 583.2h0M647.4 586.9h0M638.7 586h0M643.7 592.8h0M677.8 641.3h0M624.9 420.4h0M627.1 420.4h0M628.3 508.4h0M631.1 515.5h0M628.6 531.5h0M631.5 528.5h0M634.3 531.2h0M634 535.9h0M625.3 565.5h0M625.3 571.4h0"/>
<path class="tk" d="M630.5 657.5v-6.1 M630.5 420.5v6.1M650.5 657.5v-6.1 M650.5 420.5v6.1M669.5 657.5v-6.1 M669.5 420.5v6.1M688.5 657.5v-6.1 M688.5 420.5v6.1M707.5 657.5v-6.1 M707.5 420.5v6.1M726.5 657.5v-6.1 M726.5 420.5v6.1M746.5 657.5v-6.1 M746.5 420.5v6.1M765.5 657.5v-6.1 M765.5 420.5v6.1M618.5 627.7h6.1 M775.5 627.7h-6.1M618.5 598.1h6.1 M775.5 598.1h-6.1M618.5 568.5h6.1 M775.5 568.5h-6.1M618.5 538.9h6.1 M775.5 538.9h-6.1M618.5 509.3h6.1 M775.5 509.3h-6.1M618.5 479.7h6.1 M775.5 479.7h-6.1M618.5 450.1h6.1 M775.5 450.1h-6.1"/>
<rect class="ax" x="618.5" y="420.5" width="157" height="237"/>
<text class="cc" x="623" y="446.2">#83</text>
</g>
<g>
<clipPath id="c84"><rect x="807.5" y="420.5" width="157" height="237"/></clipPath>
<path class="pt" clip-path="url(#c84)" d="M819.3 555h0M815 533.9h0M814.4 537.7h0M815.2 539.7h0M815.8 545.6h0M832.3 554.5h0M830.4 552.9h0M815.7 542.8h0M816.7 538.1h0M820.3 539.5h0M826.5 546.8h0M824.5 545.6h0M817.9 550.5h0M830.7 549.7h0M821.2 545h0M822.6 562h0M828.3 546.6h0M819.1 548.8h0M830 555.8h0M826.2 565.2h0M825.8 530.5h0M818.6 544.9h0M814.2 538h0M828.4 549h0M820.6 553.1h0M830.9 545.5h0M818.5 536.7h0M830.9 549.7h0M817.7 536.9h0M818.2 546.2h0M832.4 552.1h0M825.2 537.7h0M830.7 557.2h0M820.8 558.2h0M814.8 533.9h0M814.7 534.5h0M815.4 532.9h0M816.2 545.4h0M820.1 556.1h0M833.3 555h0M819.7 552.6h0M816.4 552.6h0M823.4 543.5h0M814.3 536.1h0M830.5 554h0M828.5 549.8h0M819.4 551.4h0M833.2 547.7h0M829.5 552.2h0M823.1 538.7h0M818.1 534.4h0M821.7 528h0M832.5 554.5h0M817.5 550.9h0M830 553.2h0M829.1 563.5h0M831.5 549.2h0M822.3 556.6h0M819.5 531.2h0M820.7 546.1h0M827.5 559h0M816.2 526.1h0M816.1 529.1h0M826 547.3h0M832.8 552.9h0M832 557.2h0M829.7 551.8h0M824.6 542.1h0M815.9 548.1h0M831.4 555.7h0M822.8 544.7h0M814.2 528.5h0M816.6 540.1h0M823.9 545.8h0M823.9 553.2h0M818.5 543.6h0M824 537.1h0M821.6 555.3h0M821.8 546.6h0M832.2 550.4h0M832.2 547.3h0M816 544.8h0M815 541.2h0M831.2 561.3h0M826.1 560.6h0M832.8 562.4h0M820.8 543.5h0M829.8 561.6h0M823.1 551.9h0M814.2 527.8h0M814.2 543.6h0M823 562.1h0M828.8 550.5h0M828.6 549.4h0M821.2 526.8h0M818.1 552.8h0M824.2 534.9h0M821.3 558.1h0M825.6 545.1h0M830.3 561h0M821.9 538.8h0M815.9 539.7h0M815.5 537.1h0M819 538.1h0M822.8 538.3h0M814.2 537.1h0M816.9 540.4h0M815.5 548.3h0M842.5 557.9h0M849.3 554.4h0M849.8 558.5h0M842.8 556.3h0M835.1 556h0M839.4 557.7h0M853.5 556.3h0M840 556.8h0M837.1 553.4h0M839.6 549.2h0M839.1 557.8h0M840.6 557.8h0M844.4 556.1h0M838.1 555.8h0M835.6 558.5h0M834.5 554.7h0M847 556.8h0M850.8 558.2h0M842.5 558.5h0M856.1 554.9h0M834.5 552.9h0M854 557.7h0M836.7 559.3h0M845.1 555.1h0M846.9 560.4h0M849.2 557.7h0M836.6 557.8h0M835.9 553.9h0M847.9 560.1h0M844.8 552h0M845.1 555.2h0M848.7 551.4h0M835.2 555.4h0M850.3 556.8h0M844.9 553.1h0M844.5 557.5h0M848.3 562.6h0M836.9 557.9h0M846.6 548.4h0M834.9 559.8h0M849 554.3h0M845.4 562.3h0M854.1 556.2h0M856 559.3h0M852.4 559h0M843.8 554.9h0M838.3 553.7h0M836.8 562.5h0M852.4 559.1h0M853.9 558.5h0M844.7 561.5h0M833.6 559.5h0M836.7 554.4h0M840.8 554.9h0M852.8 559h0M854.8 556.7h0M842.1 561h0M856.5 558.3h0M839.8 559.2h0M835.8 557.4h0M839.2 557.7h0M845.3 555.3h0M853.8 552.5h0M848 552.4h0M850 562.7h0M850.3 560.6h0M840.1 553.8h0M854.8 555.2h0M840.3 554h0M856 557h0M846.3 553.7h0M837.3 556.7h0M844.9 554.4h0M854.3 553.8h0M837.9 556.7h0M841.4 557h0M846.6 556.8h0M850.7 559.4h0M842.2 554.1h0M834.9 557.2h0M859.8 551.5h0M862.1 555.9h0M859.1 556.8h0M862.7 552.3h0M856.7 560h0M862.3 561.6h0M859 555.9h0M861.9 555.8h0M857.2 562.5h0M859.9 561.1h0M860.7 562h0M859.5 557.7h0M858 556.1h0M860.7 556.7h0M860.6 555.6h0M857.2 553.5h0M859 554.1h0M864 551.2h0M865.8 547.4h0M865.4 551h0M865.8 547.7h0M862.5 550.4h0M863.1 551h0M864.3 548.8h0M867.1 535.8h0M866.8 538.2h0M869.6 537.5h0M870.1 535.5h0M871.7 540.4h0M872.9 541.9h0M871.8 541.6h0M866.8 545.8h0M870 546.3h0M869.9 545.7h0M873.3 542.5h0M874.4 542.2h0M871.3 544.5h0M871 543.4h0M875.7 545.5h0M875.9 549.3h0M876.1 552.7h0M876.8 555.1h0M876.1 557.3h0M878.9 542.2h0M879.2 541.4h0M881.3 541.5h0M881.4 536.1h0M883.8 539.9h0M880.1 542.6h0M882.6 545.7h0M885 543h0M884.1 541.5h0M886.2 545.6h0M882.6 551.7h0M884.1 549.3h0M885.8 550.3h0M885.2 551.8h0M888.2 549.7h0M888.6 552.5h0M889.4 553.1h0M890.2 544.1h0M890.9 542.7h0M891.4 537.9h0M891.3 536.4h0M892.3 541.4h0M893.5 544.6h0M892.3 548.2h0M894.7 548.8h0M895.5 545.5h0M895.6 549h0M893.1 553.6h0M894.2 554.3h0M894.3 554.5h0M896.3 549.8h0M897 549.7h0M897.5 546.1h0M899.5 545.4h0M899.6 544.1h0M900.7 550.7h0M899.2 548.5h0M902.4 551.3h0M904.8 550.9h0M906.5 552.4h0M897.9 558.9h0M897.3 554.8h0M900.3 556.8h0M899.5 562.1h0M903.6 550h0M888.6 567h0M888.6 568.8h0M885.5 586.4h0M906.8 562.2h0M907.6 566h0M906 564.5h0M906.8 565.3h0M910 559.1h0M910.8 562.2h0M910 566.4h0M910.8 565.1h0M914.1 567.2h0M914.9 567.2h0M915.7 558.2h0M916.9 560.3h0M915.8 559.4h0M904.4 571.7h0M907.2 577.5h0M913.7 574.8h0M913.7 579.9h0M913.3 586.1h0M910 605.6h0M914.1 554h0M914.9 549.6h0M915.5 546.9h0M915.3 541.9h0M916.4 545.2h0M916.5 548.5h0M917.3 551.4h0M917.4 547h0M918.1 554.1h0M919.7 541.4h0M919.5 539.3h0M920.5 544.2h0M921.3 550.5h0M922.1 547.3h0M922.9 549.7h0M923.1 552.8h0M925.8 541.3h0M927 544.7h0M926.2 553.5h0M927.8 544.1h0M928.6 550.5h0M929.1 548.6h0M929.4 553.8h0M928.6 558.3h0M928.1 560.1h0M931 562.8h0M930.6 560.8h0M931.8 557.8h0M927 555.5h0M922.5 576.6h0M922.5 589.9h0M928.6 567.7h0M929 575.1h0M935.1 548.9h0M935.9 552.2h0M937.2 550.7h0M934.3 556h0M933.4 562.9h0M932.5 564.8h0M938.3 551.4h0M939.1 555.5h0M937.5 558.8h0M937.7 560h0M935.9 564.3h0M936.2 561.9h0M939.1 564.1h0M940.7 558.5h0M940.6 557.4h0M943.1 547.6h0M942.6 546.1h0M943.9 553.4h0M942.3 555.5h0M942.3 556.9h0M941.8 557.5h0M945.6 559.9h0M945.8 556.7h0M947.2 560.5h0M943.9 562.9h0M944.9 563.5h0M944.8 550.3h0M940.7 554.7h0M940.8 553.4h0M938.3 585.3h0M947.2 568.5h0M948 571.8h0M947.2 574.9h0M947.2 579.7h0M949.6 561.8h0M952 557.6h0M952.5 559.1h0M954.5 560.7h0M957.3 559.4h0M952.8 564.4h0M953.3 563.2h0M956.1 563h0M957 563.2h0M953.6 568h0M957.3 561.6h0M957.9 565.8h0M958.5 562.9h0M958.2 555.9h0M951.2 566.6h0M949.4 563.8h0M954.3 598.8h0M835.8 506.8h0M837 527.3h0M845.6 507.9h0M848.5 511.9h0M851 496.4h0M848.6 523.8h0M850.5 527.2h0M851 537.8h0M848.5 542.7h0M848.3 545.9h0M836.5 545.2h0M847.8 434.5h0M850.4 583h0M855 572.9h0M860.5 573.5h0M848.7 570.3h0M861 569.4h0M862.5 563.4h0M830.3 583.8h0M830 581.6h0M823.7 575.3h0M827.6 579.3h0M829.4 576.2h0M830.9 582.7h0M833 582.8h0M833.9 586.2h0M831.6 581.9h0M867 637.5h0M814.1 420.4h0M816.3 420.4h0M816.7 507.2h0M820 506.9h0M823.9 513.4h0M822.9 519.9h0M827.7 524.1h0"/>
<path class="tk" d="M819.5 657.5v-6.1 M819.5 420.5v6.1M839.5 657.5v-6.1 M839.5 420.5v6.1M858.5 657.5v-6.1 M858.5 420.5v6.1M877.5 657.5v-6.1 M877.5 420.5v6.1M896.5 657.5v-6.1 M896.5 420.5v6.1M915.5 657.5v-6.1 M915.5 420.5v6.1M935.5 657.5v-6.1 M935.5 420.5v6.1M954.5 657.5v-6.1 M954.5 420.5v6.1M807.5 627.7h6.1 M964.5 627.7h-6.1M807.5 598.1h6.1 M964.5 598.1h-6.1M807.5 568.5h6.1 M964.5 568.5h-6.1M807.5 538.9h6.1 M964.5 538.9h-6.1M807.5 509.3h6.1 M964.5 509.3h-6.1M807.5 479.7h6.1 M964.5 479.7h-6.1M807.5 450.1h6.1 M964.5 450.1h-6.1"/>
<rect class="ax" x="807.5" y="420.5" width="157" height="237"/>
<text class="cc" x="812.2" y="446.2">#84</text>
</g>
<g>
<clipPath id="c85"><rect x="996.5" y="420.5" width="158" height="237"/></clipPath>
<path class="pt" clip-path="url(#c85)" d="M1008.5 528.5h0M1004.1 505.3h0M1003.6 508.9h0M1004.4 515h0M1004.9 517.4h0M1021.5 529.1h0M1019.5 527.3h0M1004.8 517.9h0M1005.9 509.1h0M1009.4 509.5h0M1015.7 518.9h0M1013.7 516.1h0M1007 524.5h0M1019.9 524.1h0M1010.3 514.6h0M1011.7 535h0M1017.5 521.8h0M1008.3 520.6h0M1019.1 529h0M1015.3 538.8h0M1015 502.5h0M1007.8 519.4h0M1003.4 508.5h0M1017.6 522.3h0M1009.8 524.2h0M1020.1 519.6h0M1007.6 513.1h0M1020.1 524.8h0M1006.8 508.1h0M1007.4 520.4h0M1021.6 526.3h0M1014.4 511.6h0M1019.9 531.4h0M1009.9 528.4h0M1004 509h0M1003.8 505.1h0M1004.6 503.6h0M1005.3 520.5h0M1009.3 530.5h0M1022.5 529.6h0M1008.9 522.9h0M1005.6 528.1h0M1012.5 515h0M1003.5 508.5h0M1019.6 528.2h0M1017.6 525.1h0M1008.6 524.3h0M1022.3 523.9h0M1018.6 523.4h0M1012.3 510.4h0M1007.3 507.3h0M1010.9 500.1h0M1021.7 529.8h0M1006.7 525.8h0M1019.1 525.8h0M1018.2 537.8h0M1020.7 522.1h0M1011.5 529.1h0M1008.7 502h0M1009.9 519.2h0M1016.6 533.3h0M1005.4 499h0M1005.3 503.2h0M1015.2 518.7h0M1022 527.2h0M1021.2 530.7h0M1018.8 526.5h0M1013.7 515.4h0M1005 521.4h0M1020.5 529.8h0M1012 513.4h0M1003.4 497.6h0M1005.7 511.1h0M1013.1 518.9h0M1013.1 524.9h0M1007.6 514.8h0M1013.2 508.9h0M1010.8 529.5h0M1011 517.7h0M1021.4 524.6h0M1021.4 523.5h0M1005.1 514.9h0M1004.1 515.5h0M1020.4 537.7h0M1015.3 533.1h0M1021.9 538.3h0M1009.9 515.2h0M1019 533.7h0M1012.3 521.5h0M1003.4 502.8h0M1003.4 514.4h0M1012.2 535.3h0M1018 524.9h0M1017.8 523h0M1010.4 500.5h0M1007.3 525.5h0M1013.4 506.8h0M1010.5 532.6h0M1014.7 516.4h0M1019.5 539.2h0M1011 510h0M1005 513.6h0M1004.7 511.9h0M1008.1 507.1h0M1012 509.1h0M1003.3 509.3h0M1006 514h0M1004.6 523.8h0M1031.7 528.4h0M1038.5 527.3h0M1038.9 529.6h0M1032 532.1h0M1024.3 531.2h0M1028.5 528.8h0M1042.7 530.5h0M1029.1 530.7h0M1026.3 527.9h0M1028.7 522.8h0M1028.3 530.7h0M1029.8 531.4h0M1033.6 530.7h0M1027.3 529.7h0M1024.7 530.3h0M1023.6 527.8h0M1036.1 529.4h0M1039.9 533.7h0M1031.6 533.4h0M1045.3 527.9h0M1023.7 526h0M1043.2 533.9h0M1025.9 535.3h0M1034.3 531.3h0M1036.1 534.4h0M1038.4 530.6h0M1025.7 531.3h0M1025.1 529.6h0M1037.1 533.5h0M1033.9 524.1h0M1034.2 531.7h0M1037.8 526.6h0M1024.4 528h0M1039.4 530.8h0M1034 525.7h0M1033.7 530.1h0M1037.4 537.6h0M1026.1 532.5h0M1035.7 520.4h0M1024.1 530h0M1038.2 526.9h0M1034.5 534.3h0M1043.2 530.5h0M1045.2 529.8h0M1041.5 530.5h0M1033 531.2h0M1027.5 528.8h0M1025.9 535h0M1041.5 532.4h0M1043.1 532.6h0M1033.8 534.7h0M1022.7 529.8h0M1025.9 528.8h0M1029.9 531.1h0M1042 532h0M1044 531.9h0M1031.2 535.6h0M1045.6 533.5h0M1029 535.1h0M1025 528.8h0M1028.4 532.7h0M1034.4 529.9h0M1043 528.1h0M1037.2 524.9h0M1039.2 535.1h0M1039.5 535.1h0M1029.2 527.6h0M1044 528.9h0M1029.5 526.4h0M1045.1 530.2h0M1035.5 528.4h0M1026.5 529.2h0M1034.1 528.6h0M1043.5 528.7h0M1027.1 528.4h0M1030.5 530.6h0M1035.8 530.2h0M1039.9 532.1h0M1031.3 529.3h0M1024.1 531.3h0M1048.9 525.3h0M1051.3 529.3h0M1048.3 529.7h0M1051.9 524.6h0M1045.9 534.4h0M1051.5 536.8h0M1048.2 531.1h0M1051 526.3h0M1046.4 536.4h0M1049.1 534.5h0M1049.9 536.2h0M1048.6 532.5h0M1047.2 532h0M1049.9 529.9h0M1049.8 526.7h0M1046.4 528.8h0M1048.2 529.6h0M1053.2 523.8h0M1055 520.9h0M1054.6 521.5h0M1055 522.5h0M1051.7 523.1h0M1052.3 523.5h0M1053.5 523.2h0M1056.2 505.2h0M1056 509.6h0M1058.8 508.1h0M1059.3 508.3h0M1060.8 510.4h0M1062 513h0M1060.9 512.5h0M1056 515h0M1059.2 517.9h0M1059.1 517.6h0M1062.4 514.4h0M1063.6 513.5h0M1060.4 516.6h0M1060.2 515.7h0M1064.9 519.3h0M1065.1 521h0M1065.3 527.5h0M1066 527.9h0M1065.3 531.2h0M1068.1 515.5h0M1068.4 512.3h0M1070.5 512.1h0M1070.6 509h0M1072.9 512.1h0M1069.3 515.8h0M1071.7 517.3h0M1074.1 515.1h0M1073.3 512.9h0M1075.4 517.2h0M1071.7 518.3h0M1073.2 519.2h0M1075 521.9h0M1074.4 521.6h0M1077.4 520.5h0M1077.8 520.4h0M1078.6 524.6h0M1079.4 513.8h0M1080 515.2h0M1080.6 511.1h0M1080.5 509.1h0M1081.4 514h0M1082.6 516h0M1081.5 520.1h0M1083.8 520.4h0M1084.7 517.7h0M1084.8 519.3h0M1082.2 525.9h0M1083.4 526.3h0M1083.4 528.6h0M1085.5 523.5h0M1086.1 520.3h0M1086.7 520.3h0M1088.7 516.1h0M1088.7 517.1h0M1089.9 519.2h0M1088.4 519.9h0M1091.5 522.9h0M1093.9 521.1h0M1095.7 523.4h0M1087.1 529.3h0M1086.5 526h0M1089.5 531.8h0M1088.7 533.3h0M1092.7 519.8h0M1077.8 539.9h0M1077.8 539.3h0M1074.7 559.5h0M1096 533.2h0M1096.8 536.6h0M1095.2 536.8h0M1095.9 537.1h0M1099.2 530.3h0M1100 534.9h0M1099.2 537.9h0M1099.9 538.1h0M1103.2 535h0M1104 541.1h0M1104.8 530.7h0M1106.1 529.4h0M1105 532.9h0M1093.5 543.9h0M1096.4 552.1h0M1102.8 545.5h0M1102.8 552.2h0M1102.4 558.3h0M1099.2 577.5h0M1103.2 525.4h0M1104 521.5h0M1104.6 520.6h0M1104.4 515.5h0M1105.5 514h0M1105.7 516.3h0M1106.5 523.5h0M1106.5 517.2h0M1107.3 524.7h0M1108.9 511.8h0M1108.7 510.8h0M1109.7 516h0M1110.5 521.6h0M1111.3 517.7h0M1112.1 521.6h0M1112.3 524.8h0M1114.9 515.1h0M1116.2 516.9h0M1115.3 524.6h0M1117 514.5h0M1117.8 523.9h0M1118.3 521.2h0M1118.6 527h0M1117.8 532.6h0M1117.3 531.4h0M1120.2 535.5h0M1119.7 533.9h0M1121 526.8h0M1116.2 527.6h0M1111.7 546.7h0M1111.7 562.1h0M1117.8 540.3h0M1118.2 546.3h0M1124.2 520h0M1125 523.5h0M1126.4 521.5h0M1123.4 528.8h0M1122.6 532.3h0M1121.7 538h0M1127.5 519.3h0M1128.3 523.1h0M1126.7 530.8h0M1126.9 530.4h0M1125 535.9h0M1125.4 532.2h0M1128.3 534.5h0M1129.9 530.6h0M1129.7 529.8h0M1132.3 517.1h0M1131.7 517.5h0M1133.1 524.9h0M1131.5 528h0M1131.5 528.8h0M1130.9 529.4h0M1134.7 529.1h0M1135 527.5h0M1136.3 530.8h0M1133.1 535.4h0M1134.1 535.2h0M1133.9 522.6h0M1129.9 526.6h0M1129.9 525.6h0M1127.5 556.5h0M1136.3 540.7h0M1137.2 545.4h0M1136.3 547.3h0M1136.3 553.9h0M1138.8 532.3h0M1141.2 533.4h0M1141.6 529.5h0M1143.6 530.5h0M1146.4 532.9h0M1142 534.2h0M1142.4 534.5h0M1145.2 537.2h0M1146.2 535.9h0M1142.8 540.6h0M1146.4 533.5h0M1147 535.2h0M1147.7 532.8h0M1147.4 528.2h0M1140.4 534.4h0M1138.6 535.4h0M1143.5 570.9h0M1025 483.1h0M1026.2 501.3h0M1034.8 482.9h0M1037.7 485.7h0M1040.2 469.6h0M1037.8 498.9h0M1039.7 502.4h0M1040.2 511.8h0M1037.7 517.9h0M1037.5 524.1h0M1025.7 521h0M1037 420.4h0M1039.6 560.5h0M1044.2 546h0M1049.7 552.9h0M1037.9 540.9h0M1050.2 541.8h0M1051.7 537.1h0M1007.8 553.7h0M1008.6 556.5h0M1020 554.7h0M1016.1 553.9h0M1008.6 557.2h0M1008.4 556h0M1017.7 554.2h0M1013.6 557.5h0M1022.5 559.6h0M1011.7 557.6h0M1056.2 609.9h0M1003.3 420.4h0M1005.5 420.4h0"/>
<path class="tk" d="M1009.5 657.5v-6.1 M1009.5 420.5v6.1M1028.5 657.5v-6.1 M1028.5 420.5v6.1M1047.5 657.5v-6.1 M1047.5 420.5v6.1M1066.5 657.5v-6.1 M1066.5 420.5v6.1M1085.5 657.5v-6.1 M1085.5 420.5v6.1M1105.5 657.5v-6.1 M1105.5 420.5v6.1M1124.5 657.5v-6.1 M1124.5 420.5v6.1M1143.5 657.5v-6.1 M1143.5 420.5v6.1M996.5 627.7h6.1 M1154.5 627.7h-6.1M996.5 598.1h6.1 M1154.5 598.1h-6.1M996.5 568.5h6.1 M1154.5 568.5h-6.1M996.5 538.9h6.1 M1154.5 538.9h-6.1M996.5 509.3h6.1 M1154.5 509.3h-6.1M996.5 479.7h6.1 M1154.5 479.7h-6.1M996.5 450.1h6.1 M1154.5 450.1h-6.1"/>
<rect class="ax" x="996.5" y="420.5" width="158" height="237"/>
<text class="cc" x="1001.4" y="446.2">#85</text>
</g>
<g>
<clipPath id="c86"><rect x="1185.5" y="420.5" width="158" height="237"/></clipPath>
<path class="pt" clip-path="url(#c86)" d="M1197.7 511.7h0M1193.3 496.6h0M1192.8 498.9h0M1193.6 503.6h0M1194.1 508.5h0M1210.7 514.9h0M1208.7 510.9h0M1194 506.6h0M1195.1 497.8h0M1198.6 501.9h0M1204.9 508.2h0M1202.9 503.5h0M1196.2 511.5h0M1209.1 511h0M1199.5 505.3h0M1200.9 520.7h0M1206.7 508.2h0M1197.5 507.7h0M1208.3 512.6h0M1204.5 521.9h0M1204.2 493h0M1196.9 505.2h0M1192.6 500.8h0M1206.7 510.4h0M1199 511.7h0M1209.2 504.9h0M1196.8 501.5h0M1209.3 510.1h0M1196 498.5h0M1196.5 508.6h0M1210.8 508.3h0M1203.5 498.8h0M1209 517.9h0M1199.1 515.9h0M1193.1 497.5h0M1193 495.6h0M1193.7 496.7h0M1194.5 506.3h0M1198.4 514.5h0M1211.7 512.7h0M1198 509.6h0M1194.7 512.6h0M1201.7 503.4h0M1192.6 497.1h0M1208.8 513.1h0M1206.8 508.5h0M1197.8 510.1h0M1211.5 506.8h0M1207.8 508.4h0M1201.5 501.9h0M1196.5 494.4h0M1200.1 490.8h0M1210.8 512.4h0M1195.9 509.9h0M1208.3 511.4h0M1207.4 519.3h0M1209.8 505.7h0M1200.7 517h0M1197.8 495h0M1199 506.4h0M1205.8 518.9h0M1194.5 491.1h0M1194.5 493.8h0M1204.4 508.9h0M1211.2 514.3h0M1210.3 513.7h0M1208 511.5h0M1202.9 503.9h0M1194.2 507.3h0M1209.7 513.7h0M1201.2 503.5h0M1192.5 493.7h0M1194.9 502.7h0M1202.3 504.7h0M1202.2 511.8h0M1196.8 505.3h0M1202.4 497.5h0M1200 514.7h0M1200.2 508h0M1210.5 508h0M1210.5 506.9h0M1194.3 505.2h0M1193.3 502.9h0M1209.5 518.9h0M1204.4 520.5h0M1211.1 520h0M1199.1 504.8h0M1208.1 517.6h0M1201.4 512h0M1192.5 492.7h0M1192.5 503.2h0M1201.4 518.7h0M1207.2 511h0M1207 509.6h0M1199.6 491.2h0M1196.4 509.5h0M1202.6 498h0M1199.6 518h0M1203.9 506.4h0M1208.6 523.8h0M1200.2 498h0M1194.2 503.7h0M1193.9 499h0M1197.3 499.4h0M1201.1 500.5h0M1192.5 501.4h0M1195.2 503.3h0M1193.8 510.8h0M1220.9 517.5h0M1227.6 510.9h0M1228.1 515.3h0M1221.1 515.8h0M1213.5 512.8h0M1217.7 513.6h0M1231.9 514h0M1218.3 514.6h0M1215.5 512.7h0M1217.9 508.9h0M1217.5 515.9h0M1218.9 514.9h0M1222.7 514.2h0M1216.5 514.1h0M1213.9 514.1h0M1212.8 512.8h0M1225.3 513h0M1229.1 516.6h0M1220.8 518h0M1234.5 511.3h0M1212.8 511.4h0M1232.3 518h0M1215 517.7h0M1223.4 512h0M1225.3 518.6h0M1227.5 515.7h0M1214.9 517.1h0M1214.2 512.2h0M1226.2 517.5h0M1223.1 508.8h0M1223.4 515.6h0M1227 511.1h0M1213.5 512.6h0M1228.6 514.5h0M1223.2 507.6h0M1222.8 517.5h0M1226.6 521.9h0M1215.2 513.9h0M1224.9 508.2h0M1213.2 514.9h0M1227.4 513.2h0M1223.7 518.4h0M1232.4 515.1h0M1234.3 514.1h0M1230.7 513.7h0M1222.2 518h0M1216.7 514h0M1215.1 519.1h0M1230.7 516.4h0M1232.2 515h0M1223 517.1h0M1211.9 517.5h0M1215.1 513.8h0M1219.1 514.9h0M1231.1 515.6h0M1233.1 517h0M1220.4 521.1h0M1234.8 517.2h0M1218.2 516h0M1214.2 515.8h0M1217.6 515h0M1223.6 512.8h0M1232.2 513.3h0M1226.3 507.5h0M1228.4 521.4h0M1228.7 519.7h0M1218.4 512.7h0M1233.1 513.4h0M1218.7 511.7h0M1234.3 515.7h0M1224.6 512.9h0M1215.7 515.4h0M1223.3 514.2h0M1232.7 510.3h0M1216.3 514.1h0M1219.7 512.9h0M1224.9 516.4h0M1229.1 516.8h0M1220.5 512.9h0M1213.3 515.6h0M1238.1 510.5h0M1240.4 514.4h0M1237.4 514.5h0M1241 509.2h0M1235 519.6h0M1240.7 519.5h0M1237.4 514.7h0M1240.2 508.9h0M1235.5 519.6h0M1238.2 515.6h0M1239 520.8h0M1237.8 516.2h0M1236.3 516.6h0M1239 515.2h0M1239 515.2h0M1235.6 511.4h0M1237.4 514.1h0M1242.3 507.5h0M1244.1 506.5h0M1243.7 506.2h0M1244.1 505.4h0M1240.9 507.6h0M1241.4 508.5h0M1242.7 502.3h0M1245.4 493.2h0M1245.2 494.2h0M1248 494.3h0M1248.5 494.4h0M1250 494h0M1251.2 499h0M1250.1 498.6h0M1245.1 502h0M1248.4 505.7h0M1248.3 503.6h0M1251.6 502.5h0M1252.8 501h0M1249.6 502.1h0M1249.3 500.6h0M1254 503.8h0M1254.3 507.8h0M1254.4 511.6h0M1255.1 514h0M1254.4 515.9h0M1257.3 499.4h0M1257.6 498.6h0M1259.7 501.3h0M1259.8 493.6h0M1262.1 499.1h0M1258.5 503h0M1260.9 503.9h0M1263.3 501.8h0M1262.4 498.3h0M1264.5 504.7h0M1260.9 506.3h0M1262.4 508.8h0M1264.1 508.3h0M1263.5 509.8h0M1266.5 511.3h0M1266.9 508.5h0M1267.8 511.4h0M1268.6 500.7h0M1269.2 500h0M1269.8 497.9h0M1269.7 495.7h0M1270.6 500.5h0M1271.8 503.9h0M1270.6 505.6h0M1273 506.4h0M1273.8 503.7h0M1273.9 506.2h0M1271.4 510.5h0M1272.5 514.1h0M1272.6 513.6h0M1274.6 508.3h0M1275.3 507.2h0M1275.8 502.9h0M1277.9 504.5h0M1277.9 503.1h0M1279.1 507.7h0M1277.6 508.7h0M1280.7 508h0M1283.1 508.1h0M1284.8 510.7h0M1276.2 516.7h0M1275.6 513.6h0M1278.7 513.7h0M1277.9 520.5h0M1281.9 504h0M1267 526.6h0M1267 525.6h0M1263.9 543.9h0M1285.1 521.9h0M1285.9 524h0M1284.3 522h0M1285.1 522.3h0M1288.4 515.8h0M1289.2 519.7h0M1288.4 520.2h0M1289.1 522.1h0M1292.4 525h0M1293.2 523.8h0M1294 516.9h0M1295.2 516.2h0M1294.1 517.6h0M1282.7 528.7h0M1285.5 537.5h0M1292 532.3h0M1292 536.3h0M1291.6 546.2h0M1288.4 564.3h0M1292.4 512.8h0M1293.2 505.8h0M1293.8 507.2h0M1293.6 500.1h0M1294.7 499.9h0M1294.8 503.9h0M1295.6 507.5h0M1295.7 504h0M1296.4 512.2h0M1298 499.9h0M1297.9 497.9h0M1298.9 501.7h0M1299.7 506.6h0M1300.5 505h0M1301.3 508.5h0M1301.4 513.4h0M1304.1 499.7h0M1305.3 508.1h0M1304.5 510.7h0M1306.1 501.3h0M1306.9 509.9h0M1307.4 504.7h0M1307.7 512.1h0M1306.9 517.3h0M1306.4 518.2h0M1309.4 520.3h0M1308.9 520.2h0M1310.2 514h0M1305.3 513.7h0M1300.9 533h0M1300.9 548h0M1306.9 524.7h0M1307.3 531.9h0M1313.4 505.8h0M1314.2 512.2h0M1315.5 509.7h0M1312.6 512.9h0M1311.8 520.6h0M1310.8 523.9h0M1316.6 506.7h0M1317.4 511.3h0M1315.8 518.6h0M1316 519.2h0M1314.2 522.8h0M1314.5 520.3h0M1317.4 524h0M1319.1 517.5h0M1318.9 516.5h0M1321.5 503.7h0M1320.9 503h0M1322.3 509.8h0M1320.6 512.9h0M1320.7 513.8h0M1320.1 514.4h0M1323.9 513.3h0M1324.2 515.9h0M1325.5 518.3h0M1322.3 521.2h0M1323.2 518.3h0M1323.1 507.9h0M1319.1 511.8h0M1319.1 511.9h0M1316.6 542.6h0M1325.5 528.2h0M1326.3 530.5h0M1325.5 536.1h0M1325.5 539.1h0M1327.9 518.7h0M1330.4 517.7h0M1330.8 517.5h0M1332.8 515.2h0M1335.6 518.6h0M1331.2 523.1h0M1331.6 520.6h0M1334.4 519.4h0M1335.3 522.2h0M1332 524.4h0M1335.6 520.2h0M1336.2 521.7h0M1336.8 517.7h0M1336.6 514.9h0M1329.6 523.4h0M1327.8 522.3h0M1332.6 557h0M1214.1 464.3h0M1215.3 480.8h0M1223.9 463.9h0M1226.8 463.5h0M1229.3 455.2h0M1226.9 479.4h0M1228.8 484.1h0M1229.3 494.1h0M1226.8 499.1h0M1226.6 505.4h0M1214.8 503h0M1226.1 420.4h0M1228.7 543.5h0M1233.3 530.7h0M1238.8 529.9h0M1227 529.6h0M1239.3 524.6h0M1240.8 520.2h0M1211 545.5h0M1208.1 538.4h0M1209.5 542.2h0M1204.7 541.4h0M1206.6 530.9h0M1211.8 539.2h0M1211 533.9h0M1245.3 594h0M1192.4 420.4h0M1194.6 420.4h0M1201.8 471.7h0M1202.6 476.7h0M1194.5 570h0M1195 571.4h0M1193 521.1h0M1195.3 515.2h0"/>
<path class="tk" d="M1198.5 657.5v-6.1 M1198.5 420.5v6.1M1217.5 657.5v-6.1 M1217.5 420.5v6.1M1236.5 657.5v-6.1 M1236.5 420.5v6.1M1255.5 657.5v-6.1 M1255.5 420.5v6.1M1275.5 657.5v-6.1 M1275.5 420.5v6.1M1294.5 657.5v-6.1 M1294.5 420.5v6.1M1313.5 657.5v-6.1 M1313.5 420.5v6.1M1332.5 657.5v-6.1 M1332.5 420.5v6.1M1185.5 627.7h6.1 M1343.5 627.7h-6.1M1185.5 598.1h6.1 M1343.5 598.1h-6.1M1185.5 568.5h6.1 M1343.5 568.5h-6.1M1185.5 538.9h6.1 M1343.5 538.9h-6.1M1185.5 509.3h6.1 M1343.5 509.3h-6.1M1185.5 479.7h6.1 M1343.5 479.7h-6.1M1185.5 450.1h6.1 M1343.5 450.1h-6.1"/>
<rect class="ax" x="1185.5" y="420.5" width="158" height="237"/>
<text class="cc" x="1190.5" y="446.2">#86</text>
</g>
<g>
<clipPath id="c87"><rect x="1374.5" y="420.5" width="158" height="237"/></clipPath>
<path class="pt" clip-path="url(#c87)" d="M1386.8 531.3h0M1382.4 511.2h0M1381.9 517.9h0M1382.7 524.5h0M1383.3 530.8h0M1399.8 523.9h0M1397.9 524.4h0M1383.2 528.1h0M1384.2 517.4h0M1387.8 516.9h0M1394 521.5h0M1392 518.2h0M1385.3 529.7h0M1398.2 520.9h0M1388.6 521.2h0M1390.1 534.6h0M1395.8 522.3h0M1386.6 526.5h0M1397.5 526.1h0M1393.7 532.2h0M1393.3 505.9h0M1386.1 525h0M1381.7 520.7h0M1395.9 523.1h0M1388.1 527h0M1398.4 521.3h0M1386 520.3h0M1398.4 523.9h0M1385.2 516.8h0M1385.7 526.8h0M1399.9 520.5h0M1392.7 514.1h0M1398.2 527.2h0M1388.3 535.1h0M1382.3 516.6h0M1382.2 516.1h0M1382.9 514.2h0M1383.7 527.5h0M1387.6 532.7h0M1400.8 523.5h0M1387.2 527.7h0M1383.9 537.1h0M1390.9 520.2h0M1381.8 521.5h0M1398 527.3h0M1396 525.2h0M1386.9 529h0M1400.7 519.6h0M1397 520.7h0M1390.6 515.7h0M1385.6 513.7h0M1389.2 505.3h0M1400 525.9h0M1385 533.4h0M1397.5 524.7h0M1396.6 534.7h0M1399 518.8h0M1389.8 530.1h0M1387 510.5h0M1388.2 524.3h0M1395 532.4h0M1383.7 507.9h0M1383.6 508.7h0M1393.5 521.5h0M1400.3 526h0M1399.5 526.2h0M1397.2 522.5h0M1392.1 517.1h0M1383.4 527.8h0M1398.9 526.7h0M1390.3 518.7h0M1381.7 510.9h0M1384.1 519.4h0M1391.4 522.1h0M1391.4 525.5h0M1385.9 522.1h0M1391.5 512.6h0M1389.1 531.4h0M1389.3 521.4h0M1399.7 522.9h0M1399.7 519.6h0M1383.5 523.7h0M1382.5 524.9h0M1398.7 531.7h0M1393.6 533.1h0M1400.3 529.9h0M1388.3 520.4h0M1397.3 530.8h0M1390.6 523.5h0M1381.7 512.2h0M1381.7 526.5h0M1390.5 533.4h0M1396.3 522.4h0M1396.1 521.6h0M1388.7 505.3h0M1385.6 529.9h0M1391.7 512.8h0M1388.8 534.4h0M1393.1 519.5h0M1397.8 535.9h0M1389.4 514.4h0M1383.3 524.2h0M1383 519.6h0M1386.5 515.3h0M1390.3 516h0M1381.7 520.4h0M1384.4 521.4h0M1383 533.7h0M1410 525h0M1416.8 522.5h0M1417.3 526.1h0M1410.3 528.3h0M1402.6 526h0M1406.9 525.7h0M1421 525.6h0M1407.5 526.3h0M1404.6 524.2h0M1407.1 517.2h0M1406.6 529.9h0M1408.1 524.1h0M1411.9 525.5h0M1405.6 527.8h0M1403.1 524.9h0M1402 523.1h0M1414.5 525.1h0M1418.3 529.5h0M1410 532.8h0M1423.6 524.2h0M1402 521.5h0M1421.5 532.1h0M1404.2 530.8h0M1412.6 522h0M1414.4 532.8h0M1416.7 526.4h0M1404.1 529.6h0M1403.4 523.3h0M1415.4 532.3h0M1412.2 520.7h0M1412.6 527.7h0M1416.2 521.4h0M1402.7 524h0M1417.8 526.2h0M1412.4 522.3h0M1412 529.4h0M1415.8 538.6h0M1404.4 528.3h0M1414.1 514h0M1402.4 528.5h0M1416.5 519.8h0M1412.9 534.2h0M1421.5 527.4h0M1423.5 527.4h0M1419.9 528.1h0M1411.3 526.7h0M1405.8 523.3h0M1404.3 536.9h0M1419.9 529.5h0M1421.4 526.1h0M1412.2 530.5h0M1401.1 529.4h0M1404.2 526.6h0M1408.3 526h0M1420.3 528.2h0M1422.3 528.2h0M1409.6 536.3h0M1424 532.1h0M1407.3 530.4h0M1403.3 524.9h0M1406.7 530.6h0M1412.7 525.2h0M1421.3 522.4h0M1415.5 518.2h0M1417.5 534h0M1417.8 534.3h0M1407.6 523.6h0M1422.3 524.4h0M1407.8 523.2h0M1423.5 526.8h0M1413.8 520.6h0M1404.8 523.2h0M1412.4 525.6h0M1421.8 522.2h0M1405.4 525.6h0M1408.9 523.6h0M1414.1 524h0M1418.2 531.6h0M1409.7 522.6h0M1402.4 528.9h0M1427.3 516.1h0M1429.6 523.9h0M1426.6 524.5h0M1430.2 515.7h0M1424.2 533.6h0M1429.8 534.4h0M1426.5 523.8h0M1429.4 519.2h0M1424.7 534.5h0M1427.4 532.3h0M1428.2 535.9h0M1427 528h0M1425.5 526h0M1428.2 528.2h0M1428.1 522.8h0M1424.7 521.9h0M1426.5 525.8h0M1431.5 517.1h0M1433.3 517h0M1432.9 518.9h0M1433.3 518.2h0M1430 517.6h0M1430.6 521.8h0M1431.8 515.7h0M1434.5 502.1h0M1434.3 506.7h0M1437.1 506.7h0M1437.6 505.4h0M1439.2 510.2h0M1440.4 511.4h0M1439.3 510.3h0M1434.3 514.5h0M1437.5 515.9h0M1437.4 516.6h0M1440.8 515.7h0M1441.9 511.9h0M1438.7 513.8h0M1438.5 512.3h0M1443.2 516.1h0M1443.4 522.7h0M1443.6 524h0M1444.3 523.9h0M1443.6 529.3h0M1446.4 512.7h0M1446.7 510.1h0M1448.8 512.5h0M1448.9 507.6h0M1451.3 510.8h0M1447.6 514.2h0M1450.1 517.6h0M1452.5 512.8h0M1451.6 511.1h0M1453.7 515h0M1450.1 517h0M1451.6 518.6h0M1453.3 522.8h0M1452.7 519.6h0M1455.7 519.1h0M1456.1 520.4h0M1456.9 522.5h0M1457.7 513h0M1458.4 513h0M1458.9 511.2h0M1458.8 507.7h0M1459.8 513h0M1461 515.9h0M1459.8 517.8h0M1462.2 519.1h0M1463 516.7h0M1463.1 517.3h0M1460.6 523.4h0M1461.7 524.2h0M1461.8 526.9h0M1463.8 519.9h0M1464.5 519.5h0M1465 515.8h0M1467 516.5h0M1467.1 516.7h0M1468.2 518.4h0M1466.7 520.4h0M1469.8 521.6h0M1472.3 522.1h0M1474 521.9h0M1465.4 527.3h0M1464.8 524.5h0M1467.8 527.9h0M1467 532h0M1471.1 520.8h0M1456.1 537.9h0M1456.1 537.1h0M1453 558.4h0M1474.3 531.6h0M1475.1 534.1h0M1473.5 535h0M1474.3 533.2h0M1477.5 531.8h0M1478.3 532h0M1477.5 536.2h0M1478.3 534.9h0M1481.6 535.3h0M1482.4 536.5h0M1483.2 528h0M1484.4 529.7h0M1483.3 530.6h0M1471.9 540.8h0M1474.7 549.9h0M1481.2 544.2h0M1481.2 550.4h0M1480.8 558.6h0M1477.5 574.2h0M1481.6 524.5h0M1482.4 519.3h0M1483 518.7h0M1482.8 511.9h0M1483.9 512.5h0M1484 516.6h0M1484.8 522.1h0M1484.9 516.1h0M1485.6 524.6h0M1487.2 512h0M1487 509.5h0M1488 513.2h0M1488.8 520.4h0M1489.6 517.4h0M1490.4 523.1h0M1490.6 525.4h0M1493.3 513.2h0M1494.5 516.6h0M1493.7 520.4h0M1495.3 514.5h0M1496.1 522.2h0M1496.6 518.8h0M1496.9 526.5h0M1496.1 530h0M1495.6 528.9h0M1498.5 533.6h0M1498.1 531.2h0M1499.3 528.2h0M1494.5 527.5h0M1490 548.1h0M1490 559h0M1496.1 537.6h0M1496.5 543.3h0M1502.6 516.3h0M1503.4 523.5h0M1504.7 521.4h0M1501.8 525.8h0M1500.9 533.6h0M1500 535h0M1505.8 522.1h0M1506.6 524.2h0M1505 529.6h0M1505.2 531.5h0M1503.4 534.6h0M1503.7 532h0M1506.6 535.9h0M1508.2 529.2h0M1508.1 529h0M1510.6 516.6h0M1510.1 516.7h0M1511.4 522.8h0M1509.8 526h0M1509.8 527.3h0M1509.3 528.9h0M1513.1 527.6h0M1513.3 528h0M1514.7 529.4h0M1511.4 533.2h0M1512.4 532.8h0M1512.3 519.6h0M1508.2 525.4h0M1508.3 523.5h0M1505.8 556.8h0M1514.7 537.1h0M1515.5 543.9h0M1514.7 546.7h0M1514.7 552.5h0M1517.1 531.3h0M1519.5 529.7h0M1520 526.1h0M1521.9 530.4h0M1524.8 529.8h0M1520.3 534h0M1520.8 530.7h0M1523.6 530.8h0M1524.5 533.3h0M1521.1 537.8h0M1524.8 533.6h0M1525.4 535.3h0M1526 532.8h0M1525.7 526.5h0M1518.7 535.7h0M1516.9 534.2h0M1521.8 568.6h0M1403.3 472.6h0M1404.5 496.4h0M1413.1 472.2h0M1416 475.2h0M1418.5 459.7h0M1416.1 491.9h0M1418 493.8h0M1418.5 504.5h0M1416 508.8h0M1415.8 514.7h0M1404 515h0M1415.3 420.4h0M1417.9 554h0M1422.5 543.1h0M1428 545.7h0M1416.2 537.1h0M1428.5 537.8h0M1430 533.2h0M1399.3 552.3h0M1393.1 549.9h0M1403.1 545.4h0M1389.4 552.4h0M1386.5 548.8h0M1400.4 559.1h0M1395.7 560.2h0M1394.1 552.5h0M1395.5 554.5h0M1434.5 609.1h0M1381.6 420.4h0M1383.8 420.4h0M1385.9 491.5h0M1388.6 490h0M1385.9 497.4h0M1424 546.3h0M1429.8 547.8h0"/>
<path class="tk" d="M1387.5 657.5v-6.1 M1387.5 420.5v6.1M1406.5 657.5v-6.1 M1406.5 420.5v6.1M1425.5 657.5v-6.1 M1425.5 420.5v6.1M1445.5 657.5v-6.1 M1445.5 420.5v6.1M1464.5 657.5v-6.1 M1464.5 420.5v6.1M1483.5 657.5v-6.1 M1483.5 420.5v6.1M1502.5 657.5v-6.1 M1502.5 420.5v6.1M1521.5 657.5v-6.1 M1521.5 420.5v6.1M1374.5 627.7h6.1 M1532.5 627.7h-6.1M1374.5 598.1h6.1 M1532.5 598.1h-6.1M1374.5 568.5h6.1 M1532.5 568.5h-6.1M1374.5 538.9h6.1 M1532.5 538.9h-6.1M1374.5 509.3h6.1 M1532.5 509.3h-6.1M1374.5 479.7h6.1 M1532.5 479.7h-6.1M1374.5 450.1h6.1 M1532.5 450.1h-6.1"/>
<rect class="ax" x="1374.5" y="420.5" width="158" height="237"/>
<text class="cc" x="1379.7" y="446.2">#87</text>
</g>
<g>
<clipPath id="c88"><rect x="1563.5" y="420.5" width="158" height="237"/></clipPath>
<path class="pt" clip-path="url(#c88)" d="M1576 528.5h0M1571.6 510.5h0M1571.1 514.9h0M1571.9 514.5h0M1572.4 521.8h0M1589 523.5h0M1587 524.1h0M1572.3 521.3h0M1573.4 514.2h0M1576.9 513.9h0M1583.2 520.3h0M1581.2 517.6h0M1574.5 523.7h0M1587.4 521.9h0M1577.8 519.9h0M1579.2 533.2h0M1585 520.6h0M1575.8 521.5h0M1586.6 527.9h0M1582.8 534.1h0M1582.5 507.9h0M1575.3 522.7h0M1570.9 513.3h0M1585.1 522.7h0M1577.3 524.9h0M1587.6 518.7h0M1575.1 514.7h0M1587.6 522.9h0M1574.3 513.9h0M1574.9 522.8h0M1589.1 522.1h0M1581.9 514.7h0M1587.4 527.6h0M1577.4 531.4h0M1571.5 514h0M1571.3 509.6h0M1572.1 511.4h0M1572.8 521.3h0M1576.8 529.4h0M1590 522.9h0M1576.4 524.7h0M1573.1 528.2h0M1580 515.9h0M1571 514.2h0M1587.1 527.1h0M1585.1 524.5h0M1576.1 523.9h0M1589.8 520.3h0M1586.1 523.1h0M1579.8 516.5h0M1574.8 511h0M1578.4 502.1h0M1589.2 526.5h0M1574.2 525.7h0M1586.6 524.6h0M1585.7 532.9h0M1588.2 520.2h0M1579 529.1h0M1576.2 510.4h0M1577.4 519.4h0M1584.1 529.8h0M1572.9 506.7h0M1572.8 508.2h0M1582.7 521h0M1589.5 526.9h0M1588.7 525.5h0M1586.3 524.7h0M1581.2 516.7h0M1572.5 522.4h0M1588 526.1h0M1579.5 518.9h0M1570.9 506h0M1573.2 518.7h0M1580.6 522.1h0M1580.6 523.5h0M1575.1 519.9h0M1580.7 512.4h0M1578.3 528.5h0M1578.5 522h0M1588.9 521.1h0M1588.9 519.6h0M1572.6 517.6h0M1571.6 518.9h0M1587.9 530.3h0M1582.8 532.3h0M1589.4 530.6h0M1577.4 519h0M1586.5 532h0M1579.8 524.1h0M1570.9 510h0M1570.9 520.6h0M1579.7 532.3h0M1585.5 521.3h0M1585.3 522.1h0M1577.9 505.9h0M1574.8 526.8h0M1580.9 512.1h0M1578 530.8h0M1582.2 517.8h0M1587 533.4h0M1578.5 514.2h0M1572.5 517.7h0M1572.2 513.6h0M1575.6 512.4h0M1579.5 515.6h0M1570.8 514.8h0M1573.5 515.2h0M1572.1 525.2h0M1599.2 523.4h0M1606 525.7h0M1606.4 525.5h0M1599.5 524.5h0M1591.8 526.1h0M1596 524.6h0M1610.2 526.9h0M1596.6 527.1h0M1593.8 525.3h0M1596.2 519h0M1595.8 528h0M1597.3 524h0M1601.1 524.2h0M1594.8 525.1h0M1592.2 526.8h0M1591.1 524.8h0M1603.6 525.5h0M1607.4 528.7h0M1599.1 532.4h0M1612.8 522.6h0M1591.2 523.5h0M1610.7 529.3h0M1593.4 531.4h0M1601.8 520.4h0M1603.6 527.5h0M1605.9 527h0M1593.2 528.6h0M1592.6 525.9h0M1604.6 529.8h0M1601.4 523.5h0M1601.7 527.6h0M1605.3 523.1h0M1591.9 524.2h0M1606.9 525.8h0M1601.5 520.3h0M1601.2 526.1h0M1604.9 532.4h0M1593.6 527.7h0M1603.2 519.5h0M1591.6 524.9h0M1605.7 520.7h0M1602 529.7h0M1610.7 528.3h0M1612.7 526h0M1609 529.3h0M1600.5 528h0M1595 524h0M1593.4 532.4h0M1609 528.2h0M1610.6 528.2h0M1601.3 530h0M1590.2 528.6h0M1593.4 525.9h0M1597.4 526.9h0M1609.5 525.9h0M1611.5 527.4h0M1598.7 531.1h0M1613.1 530h0M1596.5 529.4h0M1592.5 525.8h0M1595.9 528.5h0M1601.9 527.6h0M1610.5 522.9h0M1604.7 521.7h0M1606.7 530.7h0M1607 532h0M1596.7 525.3h0M1611.5 526.4h0M1597 523.7h0M1612.6 525.8h0M1603 523h0M1594 525.3h0M1601.6 525.4h0M1611 526.2h0M1594.6 527.3h0M1598 521.6h0M1603.3 525.9h0M1607.4 529.2h0M1598.8 525.7h0M1591.6 526.4h0M1616.4 522.7h0M1618.8 525.9h0M1615.8 524.3h0M1619.4 519.8h0M1613.4 529.9h0M1619 533.3h0M1615.7 524.4h0M1618.5 521.9h0M1613.9 533.4h0M1616.6 528.7h0M1617.4 530.4h0M1616.1 525.9h0M1614.7 524.9h0M1617.4 525.6h0M1617.3 526.2h0M1613.9 523.3h0M1615.7 523.4h0M1620.7 517.2h0M1622.5 517.3h0M1622.1 520.9h0M1622.5 517.7h0M1619.2 522.3h0M1619.8 520.7h0M1621 518.6h0M1623.7 503h0M1623.5 507.6h0M1626.3 505.5h0M1626.8 506.3h0M1628.3 507.4h0M1629.5 510h0M1628.4 509.4h0M1623.5 514.3h0M1626.7 515.8h0M1626.6 514.9h0M1629.9 514.9h0M1631.1 510.3h0M1627.9 512.7h0M1627.7 513.1h0M1632.4 516.6h0M1632.6 520.5h0M1632.8 525.2h0M1633.5 526.2h0M1632.8 529.3h0M1635.6 511.4h0M1635.9 510h0M1638 512h0M1638.1 507.5h0M1640.4 511.4h0M1636.8 512.6h0M1639.2 514.5h0M1641.6 514.6h0M1640.8 511.6h0M1642.9 514.7h0M1639.2 519h0M1640.7 518.6h0M1642.5 519.3h0M1641.9 520.9h0M1644.9 521.5h0M1645.2 520.2h0M1646.1 523.3h0M1646.9 514.2h0M1647.5 512h0M1648.1 509.2h0M1648 509.2h0M1648.9 513.2h0M1650.1 515.8h0M1649 519.6h0M1651.3 517h0M1652.1 512.9h0M1652.3 516.9h0M1649.7 523.4h0M1650.8 522.9h0M1650.9 526h0M1653 520.4h0M1653.6 518.2h0M1654.2 516.7h0M1656.2 514.9h0M1656.2 516.5h0M1657.4 518.1h0M1655.9 519.9h0M1659 518.8h0M1661.4 521.7h0M1663.2 520.8h0M1654.6 529.3h0M1654 527.9h0M1657 529h0M1656.2 532.6h0M1660.2 519.4h0M1645.3 539h0M1645.3 537.5h0M1642.2 558.3h0M1663.5 531.7h0M1664.3 534.4h0M1662.6 534.8h0M1663.4 535.7h0M1666.7 528.7h0M1667.5 531.1h0M1666.7 536.8h0M1667.4 535.4h0M1670.7 534.2h0M1671.5 538.4h0M1672.3 530.7h0M1673.6 528.6h0M1672.5 529.5h0M1661 540.6h0M1663.9 548.7h0M1670.3 540.6h0M1670.3 548.6h0M1669.9 558.8h0M1666.7 575.8h0M1670.7 523.7h0M1671.5 517.3h0M1672.1 517.8h0M1671.9 512.7h0M1673 513.3h0M1673.2 514h0M1674 522.7h0M1674 516.2h0M1674.8 522.9h0M1676.4 511.6h0M1676.2 511h0M1677.2 515.2h0M1678 516h0M1678.8 517.5h0M1679.6 520.4h0M1679.8 522.9h0M1682.4 511.8h0M1683.7 516.4h0M1682.8 522.4h0M1684.5 513.3h0M1685.3 520h0M1685.8 519.4h0M1686.1 522.9h0M1685.3 529.3h0M1684.8 528.6h0M1687.7 530.4h0M1687.2 531.6h0M1688.5 527.9h0M1683.7 525.4h0M1679.2 542.8h0M1679.2 559.5h0M1685.3 539.9h0M1685.7 543.8h0M1691.7 516.4h0M1692.5 521h0M1693.9 519.2h0M1690.9 526.4h0M1690.1 529.7h0M1689.2 536.3h0M1695 518.8h0M1695.8 525.4h0M1694.2 528.6h0M1694.4 531.4h0M1692.5 531.8h0M1692.9 532.1h0M1695.8 534.7h0M1697.4 528.9h0M1697.2 527.6h0M1699.8 517.9h0M1699.2 513.8h0M1700.6 524.8h0M1698.9 525.6h0M1699 529.4h0M1698.4 527.4h0M1702.2 526.9h0M1702.5 528.4h0M1703.8 527.7h0M1700.6 537.2h0M1701.6 533.7h0M1701.4 517.9h0M1697.4 525.3h0M1697.4 523.9h0M1695 555.3h0M1703.8 539.5h0M1704.7 542.6h0M1703.8 547.5h0M1703.8 552.7h0M1706.3 530.3h0M1708.7 527.4h0M1709.1 527.5h0M1711.1 528.7h0M1713.9 530h0M1709.5 535.1h0M1709.9 533.2h0M1712.7 533.6h0M1713.7 533.3h0M1710.3 539.3h0M1713.9 533.6h0M1714.5 533.9h0M1715.2 530.5h0M1714.9 527.7h0M1707.9 536.9h0M1706.1 532.7h0M1711 568.8h0M1592.5 476.7h0M1593.7 496.6h0M1602.3 475.3h0M1605.2 477.7h0M1607.7 466.7h0M1605.3 492.4h0M1607.2 495.3h0M1607.7 506.9h0M1605.2 510.5h0M1605 518.4h0M1593.2 515.3h0M1604.5 420.4h0M1607.1 553h0M1611.7 541h0M1617.2 546h0M1605.4 538.4h0M1617.7 536.6h0M1619.2 536.9h0M1573.4 548h0M1572.2 541.4h0M1574.9 553.4h0M1573.7 556.8h0M1591.6 553.8h0M1573.9 548.7h0M1592.3 554.6h0M1590.6 537.7h0M1571.7 548.9h0M1572.9 560h0M1582.6 534.1h0M1574.1 552h0M1592.6 547.3h0M1572 544.7h0M1590.9 550.8h0M1575.8 543h0M1575.4 542.9h0M1590.5 554.1h0M1588.7 550.2h0M1572.5 545.9h0M1577.6 560.2h0M1585.3 549.8h0M1579.9 537.8h0M1572.5 546.1h0M1584.7 538.3h0M1584.2 551.8h0M1571.7 544h0M1572.2 563.7h0M1623.7 606.7h0M1570.8 420.4h0M1573 420.4h0M1573.9 492.4h0M1573.9 493.9h0"/>
<path class="tk" d="M1576.5 657.5v-6.1 M1576.5 420.5v6.1M1595.5 657.5v-6.1 M1595.5 420.5v6.1M1615.5 657.5v-6.1 M1615.5 420.5v6.1M1634.5 657.5v-6.1 M1634.5 420.5v6.1M1653.5 657.5v-6.1 M1653.5 420.5v6.1M1672.5 657.5v-6.1 M1672.5 420.5v6.1M1691.5 657.5v-6.1 M1691.5 420.5v6.1M1710.5 657.5v-6.1 M1710.5 420.5v6.1M1563.5 627.7h6.1 M1721.5 627.7h-6.1M1563.5 598.1h6.1 M1721.5 598.1h-6.1M1563.5 568.5h6.1 M1721.5 568.5h-6.1M1563.5 538.9h6.1 M1721.5 538.9h-6.1M1563.5 509.3h6.1 M1721.5 509.3h-6.1M1563.5 479.7h6.1 M1721.5 479.7h-6.1M1563.5 450.1h6.1 M1721.5 450.1h-6.1"/>
<rect class="ax" x="1563.5" y="420.5" width="158" height="237"/>
<text class="cc" x="1568.9" y="446.2">#88</text>
</g>
<g>
<clipPath id="c73"><rect x="239.5" y="704.5" width="158" height="237"/></clipPath>
<path class="pt" clip-path="url(#c73)" d="M251.8 823.1h0M247.5 807.7h0M246.9 809.4h0M247.7 815.6h0M248.3 821.9h0M264.8 820.1h0M262.9 817.6h0M248.2 817.7h0M249.2 810.2h0M252.8 811.9h0M259 816.1h0M257 815.3h0M250.4 820.9h0M263.2 818.2h0M253.7 814.9h0M255.1 828.2h0M260.8 815.1h0M251.6 818.4h0M262.5 822h0M258.7 828.3h0M258.3 803.5h0M251.1 815.9h0M246.7 810.6h0M260.9 818.6h0M253.1 820.6h0M263.4 812h0M251 812h0M263.4 817.5h0M250.2 808.5h0M250.7 817.4h0M265 816.2h0M257.7 808.7h0M263.2 826h0M253.3 825.8h0M247.3 811.5h0M247.2 810.4h0M247.9 810.4h0M248.7 817.5h0M252.6 823.4h0M265.8 818.2h0M252.2 821.9h0M248.9 824.7h0M255.9 816h0M246.8 812.2h0M263 822.1h0M261 818.3h0M251.9 820.1h0M265.7 814.9h0M262 818.4h0M255.6 809.4h0M250.6 809.8h0M254.2 803.2h0M265 822.1h0M250 821.4h0M262.5 819.5h0M261.6 826.5h0M264 817.1h0M254.8 824h0M252 807.2h0M253.2 817.6h0M260 826.1h0M248.7 804.9h0M248.6 804.8h0M258.5 819.8h0M265.3 820.5h0M264.5 822.7h0M262.2 821h0M257.1 811.8h0M248.4 817.3h0M263.9 820.9h0M255.3 811.9h0M246.7 806h0M249.1 814.2h0M256.4 816.6h0M256.4 821.6h0M251 813.6h0M256.5 811.9h0M254.2 822.5h0M254.3 815.2h0M264.7 815.8h0M264.7 814.7h0M248.5 817.3h0M247.5 815.6h0M263.7 827.5h0M258.6 826.8h0M265.3 824.9h0M253.3 813.6h0M262.3 827.4h0M255.6 817.8h0M246.7 805h0M246.7 815.7h0M255.5 828.9h0M261.3 818.6h0M261.1 817.6h0M253.7 804.9h0M250.6 821.2h0M256.7 807.8h0M253.8 825.4h0M258.1 813.7h0M262.8 829.2h0M254.4 811.9h0M248.4 815.3h0M248 810.6h0M251.5 809.1h0M255.3 812.6h0M246.7 812.1h0M249.4 816h0M248 823.1h0M275 820h0M281.8 819.2h0M282.3 821.1h0M275.3 822.9h0M267.6 819.3h0M271.9 821h0M286 821.1h0M272.5 823h0M269.6 816h0M272.1 813.8h0M271.6 825.8h0M273.1 821.8h0M276.9 820.7h0M270.6 822.1h0M268.1 821.4h0M267 818.8h0M279.5 823h0M283.3 823h0M275 828h0M288.6 818.2h0M267 818.3h0M286.5 827.2h0M269.2 825.8h0M277.6 818h0M279.4 825.8h0M281.7 823.2h0M269.1 823.8h0M268.4 817.2h0M280.4 825.8h0M277.3 814.8h0M277.6 821.4h0M281.2 816.1h0M267.7 819.1h0M282.8 822h0M277.4 816.2h0M277 822.5h0M280.8 830.9h0M269.4 822h0M279.1 809h0M267.4 821.8h0M281.5 816h0M277.9 828.6h0M286.6 821.7h0M288.5 820.9h0M284.9 820h0M276.3 823.2h0M270.8 820.1h0M269.3 830.2h0M284.9 820.7h0M286.4 821.9h0M277.2 827.2h0M266.1 825.7h0M269.2 821.3h0M273.3 821h0M285.3 820.1h0M287.3 823.6h0M274.6 829.3h0M289 824.9h0M272.3 824.1h0M268.3 818.5h0M271.7 823.8h0M277.8 819.4h0M286.3 819.5h0M280.5 814.4h0M282.6 828.6h0M282.8 827.5h0M272.6 818.2h0M287.3 818h0M272.8 818.3h0M288.5 823.7h0M278.8 817.4h0M269.8 820.9h0M277.4 820.7h0M286.8 817.1h0M270.4 821h0M273.9 819.1h0M279.1 821.1h0M283.2 824.3h0M274.7 819.7h0M267.4 823.1h0M292.3 813.6h0M294.6 820.3h0M291.6 820.4h0M295.2 816.7h0M289.2 829.8h0M294.8 830h0M291.5 820.4h0M294.4 814.3h0M289.7 830.2h0M292.4 824.4h0M293.2 830.6h0M292 822.1h0M290.5 821.9h0M293.2 820.8h0M293.1 818.2h0M289.7 817.6h0M291.5 819.1h0M296.5 812.8h0M298.3 810.4h0M297.9 813.5h0M298.3 811.6h0M295 815.1h0M295.6 816.7h0M296.8 812.4h0M299.6 795.6h0M299.3 801.2h0M302.1 800.3h0M302.6 800.4h0M304.2 802h0M305.4 808.2h0M304.3 804.3h0M299.3 812.3h0M302.5 810h0M302.4 809.9h0M305.8 807.9h0M306.9 808.8h0M303.8 808.9h0M303.5 808.7h0M308.2 811.2h0M308.4 812.8h0M308.6 818.8h0M309.3 820.2h0M308.6 824h0M311.4 804.6h0M311.7 804.9h0M313.9 805h0M313.9 801.1h0M316.3 805.9h0M312.6 810.1h0M315.1 810.3h0M317.5 807.3h0M316.6 807.5h0M318.7 811.8h0M315.1 812h0M316.6 814.6h0M318.3 813.3h0M317.7 816.1h0M320.7 815.7h0M321.1 816.2h0M321.9 816.6h0M322.7 811.4h0M323.4 806.8h0M323.9 800.8h0M323.8 803.1h0M324.8 807.4h0M326 809.5h0M324.8 812.2h0M327.2 813.7h0M328 809.9h0M328.1 811.2h0M325.6 816.3h0M326.7 821.1h0M326.8 823.1h0M328.8 815.6h0M329.5 813.3h0M330 811.5h0M332 810.2h0M332.1 809.3h0M333.2 812.7h0M331.7 814.1h0M334.9 814.6h0M337.3 813.2h0M339 816h0M330.4 822.7h0M329.8 821.5h0M332.8 822.9h0M332 825.7h0M336.1 813.2h0M321.1 832.7h0M321.1 832.3h0M318.1 850.8h0M339.3 827.2h0M340.1 829.4h0M338.5 827.6h0M339.3 828.4h0M342.5 823.3h0M343.3 826.9h0M342.5 829.9h0M343.3 829.3h0M346.6 829.2h0M347.4 832.5h0M348.2 824h0M349.4 825.3h0M348.3 824.6h0M336.9 838.6h0M339.7 844.9h0M346.2 839.6h0M346.2 845.4h0M345.8 851.7h0M342.5 868.6h0M346.6 819.2h0M347.4 812.6h0M348 813h0M347.8 808.7h0M348.9 806h0M349 811.1h0M349.8 816.4h0M349.9 810.8h0M350.6 818.8h0M352.2 805.1h0M352 804.6h0M353 810.2h0M353.8 816.2h0M354.6 810.7h0M355.5 816.6h0M355.6 819h0M358.3 807.1h0M359.5 810.3h0M358.7 817.3h0M360.3 807.8h0M361.1 814.4h0M361.6 813.1h0M361.9 820.3h0M361.1 823.7h0M360.6 822.7h0M363.5 825.6h0M363.1 828.5h0M364.3 821.8h0M359.5 820.7h0M355 841.8h0M355 855.6h0M361.1 834.3h0M361.5 838.2h0M367.6 811.8h0M368.4 815.6h0M369.7 815.3h0M366.8 820h0M366 827.9h0M365 829.7h0M370.8 814.9h0M371.6 820.5h0M370 822.8h0M370.2 824.2h0M368.4 828.7h0M368.7 826.7h0M371.6 830.9h0M373.2 825.2h0M373.1 823.4h0M375.6 810.8h0M375.1 810.1h0M376.5 819.9h0M374.8 821.1h0M374.8 822.1h0M374.3 822.5h0M378.1 822.7h0M378.4 822.8h0M379.7 825h0M376.5 829.2h0M377.4 827.6h0M377.3 813.7h0M373.2 817.3h0M373.3 818.9h0M370.8 849.8h0M379.7 834.5h0M380.5 838.1h0M379.7 841.6h0M379.7 849.1h0M382.1 826.9h0M384.5 825.6h0M385 822.8h0M387 823.6h0M389.8 823.6h0M385.3 828.7h0M385.8 827.6h0M388.6 827.3h0M389.5 828.8h0M386.1 833.8h0M389.8 828.1h0M390.4 829.4h0M391 826.3h0M390.7 821h0M383.7 830.7h0M381.9 828.5h0M386.8 862.9h0M268.3 773.9h0M269.5 794.4h0M278.1 775.2h0M281 776.5h0M283.5 765.5h0M281.1 792.6h0M283 795.6h0M283.5 804.3h0M281 809h0M280.8 812.9h0M269 810.5h0M280.3 704.7h0M282.9 849.2h0M287.5 837.6h0M293 839.2h0M281.2 833.5h0M293.5 833.3h0M295 829.4h0M268.4 849.7h0M263.6 849.1h0M266.1 842.7h0M253 842h0M250.2 840.9h0M255.7 836.6h0M267.3 838h0M246.8 845.4h0M253 844.2h0M258.9 831.7h0M257.6 840.8h0M268.5 847.2h0M257.6 837.5h0M258.2 837.7h0M257 840.9h0M259.6 842.4h0M250.3 848.1h0M251.6 838.5h0M254.3 837.2h0M255.4 847.4h0M267.9 845.7h0M264.5 839.2h0M269 841.8h0M249.5 842h0M255.5 836.8h0M248.9 844.9h0M250.4 851.1h0M247.2 840.6h0M299.5 904.2h0M246.6 704.7h0M248.8 704.7h0M249.3 798h0"/>
<path class="tk" d="M252.5 941.5v-6.1 M252.5 704.5v6.1M271.5 941.5v-6.1 M271.5 704.5v6.1M290.5 941.5v-6.1 M290.5 704.5v6.1M310.5 941.5v-6.1 M310.5 704.5v6.1M329.5 941.5v-6.1 M329.5 704.5v6.1M348.5 941.5v-6.1 M348.5 704.5v6.1M367.5 941.5v-6.1 M367.5 704.5v6.1M386.5 941.5v-6.1 M386.5 704.5v6.1M239.5 911.9h6.1 M397.5 911.9h-6.1M239.5 882.3h6.1 M397.5 882.3h-6.1M239.5 852.7h6.1 M397.5 852.7h-6.1M239.5 823.1h6.1 M397.5 823.1h-6.1M239.5 793.5h6.1 M397.5 793.5h-6.1M239.5 763.9h6.1 M397.5 763.9h-6.1M239.5 734.3h6.1 M397.5 734.3h-6.1"/>
<rect class="ax" x="239.5" y="704.5" width="158" height="237"/>
<text class="cc" x="244.7" y="730.5">#73</text>
<text class="tl" text-anchor="end" x="232.2" y="947.6">23.8</text>
<text class="tl" text-anchor="end" x="232.2" y="917.9">23.9</text>
<text class="tl" text-anchor="end" x="232.2" y="888.3">24.0</text>
<text class="tl" text-anchor="end" x="232.2" y="858.7">24.1</text>
<text class="tl" text-anchor="end" x="232.2" y="829.1">24.2</text>
<text class="tl" text-anchor="end" x="232.2" y="799.5">24.3</text>
<text class="tl" text-anchor="end" x="232.2" y="769.9">24.4</text>
<text class="tl" text-anchor="end" x="232.2" y="740.3">24.5</text>
<text class="tl" text-anchor="end" x="232.2" y="710.7">24.6</text>
</g>
<g>
<clipPath id="c74"><rect x="428.5" y="704.5" width="158" height="237"/></clipPath>
<path class="pt" clip-path="url(#c74)" d="M441 834h0M436.6 816.1h0M436.1 818.3h0M436.9 822.8h0M437.4 829.2h0M454 833.1h0M452 834.2h0M437.3 826.4h0M438.4 818.6h0M441.9 819h0M448.2 825.9h0M446.2 820.9h0M439.5 833.6h0M452.4 832.8h0M442.8 824.9h0M444.2 843.8h0M450 829.6h0M440.8 831h0M451.6 835.5h0M447.8 839.7h0M447.5 812.4h0M440.3 827.1h0M435.9 818.5h0M450.1 830.6h0M442.3 831.7h0M452.6 824.1h0M440.1 822.7h0M452.6 830.5h0M439.3 819.1h0M439.9 828.5h0M454.1 829.3h0M446.9 817.5h0M452.4 836.8h0M442.4 839.4h0M436.5 817.8h0M436.3 816.9h0M437.1 816.3h0M437.8 826.4h0M441.8 835.4h0M455 832.3h0M441.4 834h0M438.1 835.9h0M445 823.3h0M436 819.8h0M452.1 835.9h0M450.1 829h0M441.1 833.4h0M454.8 828.3h0M451.2 829h0M444.8 822.8h0M439.8 815.4h0M443.4 810h0M454.2 833.5h0M439.2 830.2h0M451.6 832.2h0M450.7 841.8h0M453.2 829.2h0M444 837.6h0M441.2 814.1h0M442.4 829h0M449.1 838.1h0M437.9 809.1h0M437.8 812.4h0M447.7 826.5h0M454.5 833.2h0M453.7 834.5h0M451.3 833h0M446.2 820.9h0M437.6 829.3h0M453 833.1h0M444.5 823h0M435.9 810.5h0M438.2 822.6h0M445.6 826h0M445.6 832.1h0M440.1 824.3h0M445.7 817.8h0M443.3 836.3h0M443.5 826.5h0M453.9 828.4h0M453.9 827h0M437.7 826.4h0M436.6 828h0M452.9 840.5h0M447.8 837.1h0M454.4 839.4h0M442.4 825.2h0M451.5 839.1h0M444.8 829.5h0M435.9 811.9h0M435.9 825.1h0M444.7 840.8h0M450.5 830.5h0M450.3 828.1h0M442.9 810.2h0M439.8 833.4h0M445.9 817.3h0M443 838.1h0M447.2 825.1h0M452 843.2h0M443.5 818.6h0M437.5 823.8h0M437.2 819.9h0M440.6 820.1h0M444.5 820.1h0M435.8 820.3h0M438.5 821.1h0M437.1 832.3h0M464.2 835.5h0M471 831.5h0M471.4 835.3h0M464.5 834.4h0M456.8 833.5h0M461 832.4h0M475.2 833.8h0M461.7 833.9h0M458.8 834.2h0M461.2 828.3h0M460.8 835.7h0M462.3 836h0M466.1 834h0M459.8 835.3h0M457.2 836.1h0M456.1 831.3h0M468.6 834.1h0M472.4 836.6h0M464.1 837.8h0M477.8 830.2h0M456.2 830.8h0M475.7 836.7h0M458.4 837.2h0M466.8 831.4h0M468.6 838.5h0M470.9 837.1h0M458.2 836.1h0M457.6 833.5h0M469.6 838.5h0M466.4 830.2h0M466.7 834.4h0M470.3 833.7h0M456.9 834.1h0M471.9 833.9h0M466.5 830.8h0M466.2 836h0M469.9 843.4h0M458.6 834.9h0M468.2 827.5h0M456.6 837.9h0M470.7 830h0M467 840.1h0M475.7 836h0M477.7 833h0M474 834.8h0M465.5 835.7h0M460 833.3h0M458.4 842.3h0M474 837.1h0M475.6 834.4h0M466.3 838.2h0M455.2 838.1h0M458.4 835.2h0M462.4 833.9h0M474.5 835.4h0M476.5 837.3h0M463.7 839.1h0M478.1 836.2h0M461.5 836.1h0M457.5 833.2h0M460.9 837.4h0M466.9 834.9h0M475.5 832.2h0M469.7 828.2h0M471.7 841.1h0M472 840.4h0M461.7 832.6h0M476.5 833.5h0M462 832.9h0M477.6 836.9h0M468 830.5h0M459 834.2h0M466.6 831.6h0M476 832h0M459.6 835.5h0M463 833.1h0M468.3 835.2h0M472.4 838.4h0M463.8 833h0M456.6 834.9h0M481.4 831h0M483.8 833.1h0M480.8 833.3h0M484.4 829.3h0M478.4 839h0M484 838.9h0M480.7 833.9h0M483.5 830.2h0M478.9 839.3h0M481.6 836.6h0M482.4 841.7h0M481.1 835.8h0M479.7 834.7h0M482.4 836.3h0M482.3 834.5h0M478.9 835.3h0M480.7 832.2h0M485.7 826.3h0M487.5 825.3h0M487.1 827.9h0M487.5 826.7h0M484.2 831.5h0M484.8 830.2h0M486 825.9h0M488.7 812.8h0M488.5 815.4h0M491.3 813.9h0M491.8 813.8h0M493.3 818h0M494.5 819h0M493.4 817.8h0M488.5 824.5h0M491.7 824.9h0M491.6 823.8h0M494.9 823.5h0M496.1 819.8h0M492.9 822.9h0M492.7 820.8h0M497.4 823.9h0M497.6 827.5h0M497.8 832.7h0M498.5 833.4h0M497.8 836.7h0M500.6 818h0M500.9 819h0M503 817.8h0M503.1 813.7h0M505.4 819.1h0M501.8 822.8h0M504.2 824.9h0M506.7 822.1h0M505.8 819.8h0M507.9 824h0M504.2 825.8h0M505.7 826.2h0M507.5 829.5h0M506.9 828.3h0M509.9 829.6h0M510.3 828.2h0M511.1 833h0M511.9 821.3h0M512.5 822h0M513.1 818.2h0M513 815.8h0M513.9 820.7h0M515.1 823.5h0M514 824.3h0M516.3 827.3h0M517.2 822.7h0M517.3 825.7h0M514.7 828.2h0M515.9 833.2h0M515.9 835.8h0M518 829.4h0M518.6 827h0M519.2 825.7h0M521.2 821.4h0M521.2 823.9h0M522.4 826.5h0M520.9 828.3h0M524 828.5h0M526.4 829.4h0M528.2 829.6h0M519.6 836.4h0M519 833.7h0M522 837.7h0M521.2 841.9h0M525.2 825.4h0M510.3 848.7h0M510.3 845.5h0M507.2 865.9h0M528.5 839.4h0M529.3 843.7h0M527.7 842.5h0M528.4 843.1h0M531.7 837.2h0M532.5 838.7h0M531.7 845.2h0M532.4 841.3h0M535.7 844.8h0M536.5 845.9h0M537.3 838.5h0M538.6 836.7h0M537.5 835.7h0M526 849.5h0M528.9 858h0M535.3 850.3h0M535.3 857h0M534.9 865.2h0M531.7 881.4h0M535.7 832h0M536.5 828.6h0M537.1 825.4h0M536.9 821.2h0M538 820.8h0M538.2 825.3h0M539 829.7h0M539 823.5h0M539.8 832.4h0M541.4 817.3h0M541.2 817.2h0M542.2 820.8h0M543 828.9h0M543.8 823.8h0M544.6 828.7h0M544.8 831.8h0M547.4 820.3h0M548.7 825.3h0M547.8 832.4h0M549.5 820.8h0M550.3 827.4h0M550.8 827.7h0M551.1 832.8h0M550.3 839.6h0M549.8 837.1h0M552.7 839.8h0M552.2 841.5h0M553.5 836h0M548.7 833.7h0M544.2 854.4h0M544.2 868.9h0M550.3 846.8h0M550.7 852.1h0M556.7 828.7h0M557.5 831.6h0M558.9 829.8h0M555.9 835.8h0M555.1 839.8h0M554.2 843.9h0M560 828.1h0M560.8 832.4h0M559.2 839.8h0M559.4 838h0M557.5 842.5h0M557.9 840.2h0M560.8 841.1h0M562.4 838.7h0M562.2 836.7h0M564.8 824.6h0M564.2 823.9h0M565.6 831.3h0M564 833.7h0M564 835.1h0M563.4 837.6h0M567.2 835.8h0M567.5 835.9h0M568.8 834.7h0M565.6 842.5h0M566.6 839.5h0M566.4 827.3h0M562.4 828.9h0M562.4 831.7h0M560 864.8h0M568.8 847.9h0M569.7 850.5h0M568.8 858.4h0M568.8 858.8h0M571.3 839.8h0M573.7 839.9h0M574.1 836.5h0M576.1 836.7h0M578.9 839h0M574.5 841.1h0M574.9 841.6h0M577.7 842.8h0M578.7 842.6h0M575.3 846.8h0M578.9 841.7h0M579.5 841.8h0M580.2 840.8h0M579.9 835.7h0M572.9 842.8h0M571.1 842.7h0M576 878.6h0M457.5 781.9h0M458.7 803.8h0M467.3 784.9h0M470.2 786.4h0M472.7 772.1h0M470.3 800.1h0M472.2 803.8h0M472.7 814.6h0M470.2 821h0M470 826.4h0M458.2 824.1h0M469.5 709.8h0M472.1 862.3h0M476.7 850.3h0M482.2 855.6h0M470.4 847.1h0M482.7 843.7h0M484.2 843h0M452.3 868.1h0M444.4 855.2h0M450.3 863.2h0M448.7 859.5h0M444.6 866.2h0M445.2 859h0M444.7 862.6h0M449.8 863.8h0M451.4 868.3h0M457.5 866.9h0M488.7 917h0M435.8 704.7h0M438 704.7h0M434.6 796.5h0M437.4 798.5h0M435.7 869h0M436.4 872h0M434.4 848.3h0"/>
<path class="tk" d="M441.5 941.5v-6.1 M441.5 704.5v6.1M460.5 941.5v-6.1 M460.5 704.5v6.1M480.5 941.5v-6.1 M480.5 704.5v6.1M499.5 941.5v-6.1 M499.5 704.5v6.1M518.5 941.5v-6.1 M518.5 704.5v6.1M537.5 941.5v-6.1 M537.5 704.5v6.1M556.5 941.5v-6.1 M556.5 704.5v6.1M575.5 941.5v-6.1 M575.5 704.5v6.1M428.5 911.9h6.1 M586.5 911.9h-6.1M428.5 882.3h6.1 M586.5 882.3h-6.1M428.5 852.7h6.1 M586.5 852.7h-6.1M428.5 823.1h6.1 M586.5 823.1h-6.1M428.5 793.5h6.1 M586.5 793.5h-6.1M428.5 763.9h6.1 M586.5 763.9h-6.1M428.5 734.3h6.1 M586.5 734.3h-6.1"/>
<rect class="ax" x="428.5" y="704.5" width="158" height="237"/>
<text class="cc" x="433.9" y="730.5">#74</text>
</g>
<g>
<clipPath id="c75"><rect x="618.5" y="704.5" width="157" height="237"/></clipPath>
<path class="pt" clip-path="url(#c75)" d="M630.2 854.1h0M625.8 829.4h0M625.3 833h0M626.1 838.4h0M626.6 844.9h0M643.2 849.7h0M641.2 849.1h0M626.5 840h0M627.6 835.3h0M631.1 836.2h0M637.4 841.7h0M635.4 838.6h0M628.7 846.8h0M641.6 846.8h0M632 840.8h0M633.4 856.8h0M639.2 845.3h0M630 843.5h0M640.8 850.5h0M637 858.9h0M636.7 830.2h0M629.4 842.9h0M625.1 837.1h0M639.2 845.3h0M631.5 846.2h0M641.7 842.3h0M629.3 836.2h0M641.8 848.8h0M628.5 834.5h0M629 843.3h0M643.3 845.1h0M636 833.7h0M641.5 852.5h0M631.6 851.1h0M625.6 833.3h0M625.5 832.5h0M626.2 833h0M627 841.5h0M630.9 851.6h0M644.2 849h0M630.5 845.8h0M627.2 849.7h0M634.2 841.9h0M625.1 834.3h0M641.3 850.3h0M639.3 845.7h0M630.3 848.9h0M644 841.7h0M640.3 843.8h0M634 837h0M629 832.4h0M632.6 826.1h0M643.3 849.1h0M628.4 847h0M640.8 849.6h0M639.9 856.6h0M642.3 841.5h0M633.2 853.3h0M630.3 831.1h0M631.5 844.9h0M638.3 854.6h0M627.1 828.6h0M627 829.6h0M636.9 843.9h0M643.7 848h0M642.9 850.5h0M640.5 848.1h0M635.4 840.2h0M626.7 842.3h0M642.2 851.5h0M633.7 840.6h0M625 826.5h0M627.4 838.3h0M634.8 841.9h0M634.7 848.2h0M629.3 841.8h0M634.9 833.7h0M632.5 850.4h0M632.7 843.4h0M643 847.1h0M643 840.8h0M626.8 837.9h0M625.8 840.8h0M642 855.6h0M636.9 856.2h0M643.6 852.6h0M631.6 841.2h0M640.6 855.1h0M633.9 848.3h0M625 829.9h0M625 841h0M633.9 857h0M639.7 846.8h0M639.5 844.5h0M632.1 825.1h0M628.9 848.6h0M635.1 832h0M632.1 852.4h0M636.4 841.4h0M641.1 858.4h0M632.7 837.3h0M626.7 837.7h0M626.4 834.7h0M629.8 834.5h0M633.6 835.7h0M625 836h0M627.7 839.2h0M626.3 846.8h0M653.4 849.5h0M660.1 847.6h0M660.6 852.7h0M653.6 851.2h0M646 848.7h0M650.2 848.8h0M664.4 849.9h0M650.8 850.4h0M648 847.5h0M650.4 844.5h0M650 850.2h0M651.5 848.9h0M655.2 851.1h0M649 849.4h0M646.4 851.8h0M645.3 850.9h0M657.8 849.1h0M661.6 852.9h0M653.3 853.8h0M667 849h0M645.3 849.1h0M664.8 853h0M647.5 851.1h0M655.9 848h0M657.8 853.8h0M660 851.8h0M647.4 851.2h0M646.7 846.6h0M658.7 852.4h0M655.6 848h0M655.9 849.5h0M659.5 846h0M646 848.3h0M661.1 850h0M655.7 847.8h0M655.3 853.5h0M659.1 856.7h0M647.7 849.7h0M657.4 843.4h0M645.7 851.7h0M659.9 846.3h0M656.2 855.9h0M664.9 848.4h0M666.8 850.5h0M663.2 850.3h0M654.7 850.5h0M649.2 848.5h0M647.6 857.7h0M663.2 850.1h0M664.7 851.8h0M655.5 854h0M644.4 853.9h0M647.6 849.9h0M651.6 850.5h0M663.6 850.3h0M665.6 852.1h0M652.9 855.3h0M667.3 852.7h0M650.7 854.5h0M646.7 850.6h0M650.1 851.4h0M656.1 850.9h0M664.7 850h0M658.8 845.3h0M660.9 856.6h0M661.2 854h0M650.9 848.7h0M665.6 848.4h0M651.2 847.3h0M666.8 851.5h0M657.2 844.4h0M648.2 849.7h0M655.8 849.8h0M665.2 845.6h0M648.8 849.9h0M652.2 846.7h0M657.4 849.9h0M661.6 852.6h0M653 849.2h0M645.8 850.2h0M670.6 846h0M672.9 849.9h0M669.9 849.2h0M673.5 845.5h0M667.5 855.8h0M673.2 855.7h0M669.9 851.4h0M672.7 846.2h0M668 856.2h0M670.7 851.1h0M671.5 858.2h0M670.3 849.3h0M668.8 849.7h0M671.5 851.1h0M671.5 847.4h0M668.1 848.4h0M669.9 850.5h0M674.8 842.6h0M676.6 841h0M676.3 842.5h0M676.6 843h0M673.4 844h0M673.9 846.4h0M675.2 841.4h0M677.9 828.7h0M677.7 830.9h0M680.5 832.7h0M681 828.9h0M682.5 833.6h0M683.7 835.5h0M682.6 835h0M677.6 839.6h0M680.9 841.9h0M680.8 839.3h0M684.1 834.6h0M685.3 835.7h0M682.1 836.3h0M681.8 837.4h0M686.5 838h0M686.8 845.7h0M686.9 847.6h0M687.6 848.3h0M686.9 853h0M689.8 835.1h0M690.1 835h0M692.2 836.4h0M692.3 831h0M694.6 834.9h0M691 838.4h0M693.4 837.8h0M695.8 837.1h0M695 834.9h0M697 840.8h0M693.4 841.5h0M694.9 844.4h0M696.6 841h0M696 843.7h0M699 846.7h0M699.4 844.9h0M700.3 849.6h0M701.1 835.5h0M701.7 836.3h0M702.3 832.1h0M702.2 829.7h0M703.1 836.8h0M704.3 842.2h0M703.1 843.2h0M705.5 841.1h0M706.3 839.3h0M706.4 842.3h0M703.9 845.5h0M705 847.1h0M705.1 849h0M707.1 844.7h0M707.8 843h0M708.3 841.6h0M710.4 839.6h0M710.4 838.4h0M711.6 841.5h0M710.1 842.5h0M713.2 844.1h0M715.6 845.6h0M717.4 847.1h0M708.7 852.9h0M708.1 848.3h0M711.2 852.7h0M710.4 857h0M714.4 840.6h0M699.5 861.3h0M699.5 862.4h0M696.4 882h0M717.6 855.5h0M718.4 859.2h0M716.8 861.2h0M717.6 859h0M720.9 854h0M721.7 857.9h0M720.9 860.1h0M721.6 858.8h0M724.9 860.2h0M725.7 860.8h0M726.5 853.9h0M727.7 853.5h0M726.6 853.3h0M715.2 864.7h0M718 874.8h0M724.5 867.4h0M724.5 874.5h0M724.1 880.5h0M720.9 900h0M724.9 846.7h0M725.7 842.3h0M726.3 842.4h0M726.1 835.7h0M727.2 836.3h0M727.3 840.2h0M728.1 844.6h0M728.2 839.8h0M728.9 848.7h0M730.6 835.4h0M730.4 832.7h0M731.4 837.6h0M732.2 841.9h0M733 842.8h0M733.8 844.4h0M733.9 848.7h0M736.6 837.8h0M737.8 841.4h0M737 847.7h0M738.6 837.4h0M739.4 846h0M739.9 843.4h0M740.2 849.2h0M739.4 852.7h0M738.9 853.9h0M741.9 858.8h0M741.4 853.9h0M742.7 848.5h0M737.8 848.9h0M733.4 868.6h0M733.4 883.7h0M739.4 860.4h0M739.8 867.1h0M745.9 842.7h0M746.7 844.9h0M748 844.5h0M745.1 850.5h0M744.3 854.7h0M743.3 859.1h0M749.1 846h0M749.9 849.1h0M748.3 853.1h0M748.5 855.4h0M746.7 859.6h0M747 856.5h0M749.9 859.5h0M751.6 856.3h0M751.4 852h0M754 840.5h0M753.4 839.2h0M754.8 849h0M753.1 848.4h0M753.2 852.5h0M752.6 851h0M756.4 851.3h0M756.7 853.7h0M758 854.3h0M754.8 858.9h0M755.7 857.9h0M755.6 843.4h0M751.6 847.5h0M751.6 847.2h0M749.1 880.2h0M758 864.1h0M758.8 868.2h0M758 869.7h0M758 876.2h0M760.4 855.6h0M762.9 854.4h0M763.3 852.1h0M765.3 853.6h0M768.1 851.3h0M763.7 856.5h0M764.1 856.4h0M766.9 857.4h0M767.8 858.5h0M764.5 859.4h0M768.1 857.6h0M768.7 858.4h0M769.3 854.3h0M769.1 851.8h0M762.1 857.7h0M760.3 858.4h0M765.1 894h0M646.6 798.3h0M647.8 821.7h0M656.4 800.5h0M659.3 800.5h0M661.8 787.1h0M659.4 816.5h0M661.3 819.7h0M661.8 829.9h0M659.3 834.6h0M659.1 842.1h0M647.3 841.9h0M658.6 727.1h0M661.2 879.5h0M665.8 865.8h0M671.3 869.3h0M659.5 864h0M671.8 857.4h0M673.3 856h0M643.6 872.9h0M641.6 882h0M644.8 878.6h0M635.5 879.2h0M639 869h0M638.3 876.1h0M634.4 875.1h0M637.6 874.3h0M634 875.8h0M677.8 929.7h0M624.9 704.7h0M627.1 704.7h0M627 750h0M626.3 750.3h0M625.3 799.4h0M634.8 814.2h0M631.5 819.3h0M625.3 858.7h0"/>
<path class="tk" d="M630.5 941.5v-6.1 M630.5 704.5v6.1M650.5 941.5v-6.1 M650.5 704.5v6.1M669.5 941.5v-6.1 M669.5 704.5v6.1M688.5 941.5v-6.1 M688.5 704.5v6.1M707.5 941.5v-6.1 M707.5 704.5v6.1M726.5 941.5v-6.1 M726.5 704.5v6.1M746.5 941.5v-6.1 M746.5 704.5v6.1M765.5 941.5v-6.1 M765.5 704.5v6.1M618.5 911.9h6.1 M775.5 911.9h-6.1M618.5 882.3h6.1 M775.5 882.3h-6.1M618.5 852.7h6.1 M775.5 852.7h-6.1M618.5 823.1h6.1 M775.5 823.1h-6.1M618.5 793.5h6.1 M775.5 793.5h-6.1M618.5 763.9h6.1 M775.5 763.9h-6.1M618.5 734.3h6.1 M775.5 734.3h-6.1"/>
<rect class="ax" x="618.5" y="704.5" width="157" height="237"/>
<text class="cc" x="623" y="730.5">#75</text>
</g>
<g>
<clipPath id="c76"><rect x="807.5" y="704.5" width="157" height="237"/></clipPath>
<path class="pt" clip-path="url(#c76)" d="M819.3 843.7h0M815 820.1h0M814.4 825.7h0M815.2 831.4h0M815.8 836.6h0M832.3 842.1h0M830.4 842.7h0M815.7 835.9h0M816.7 822.9h0M820.3 826.5h0M826.5 837.2h0M824.5 834.4h0M817.9 838.9h0M830.7 840.2h0M821.2 832.5h0M822.6 852.3h0M828.3 838.6h0M819.1 837.8h0M830 844.5h0M826.2 854.6h0M825.8 818.2h0M818.6 833.9h0M814.2 823.2h0M828.4 839.5h0M820.6 839.9h0M830.9 837.8h0M818.5 825.8h0M830.9 842.2h0M817.7 824.8h0M818.2 835h0M832.4 840.6h0M825.2 825.3h0M830.7 845.9h0M820.8 846.3h0M814.8 824.6h0M814.7 822.7h0M815.4 821.5h0M816.2 832.9h0M820.1 846.4h0M833.3 843.6h0M819.7 841.3h0M816.4 843.3h0M823.4 829.7h0M814.3 826.2h0M830.5 845.2h0M828.5 838.9h0M819.4 841.5h0M833.2 839.7h0M829.5 840.3h0M823.1 827h0M818.1 823.4h0M821.7 816h0M832.5 846.1h0M817.5 835.4h0M830 844.4h0M829.1 853.7h0M831.5 837.1h0M822.3 845.9h0M819.5 819.8h0M820.7 834.5h0M827.5 850.6h0M816.2 815.8h0M816.1 819.2h0M826 839.3h0M832.8 844.8h0M832 847.5h0M829.7 842.6h0M824.6 829.4h0M815.9 835.9h0M831.4 845.7h0M822.8 828.9h0M814.2 815.3h0M816.6 828.1h0M823.9 832.4h0M823.9 840.4h0M818.5 830.7h0M824 826.4h0M821.6 843.5h0M821.8 832.9h0M832.2 841.4h0M832.2 835.8h0M816 831.7h0M815 833.2h0M831.2 851.7h0M826.1 850.8h0M832.8 849.8h0M820.8 830.9h0M829.8 850.7h0M823.1 839.1h0M814.2 817.8h0M814.2 831.7h0M823 850.4h0M828.8 840.3h0M828.6 839.8h0M821.2 814.5h0M818.1 845.5h0M824.2 826.1h0M821.3 849.9h0M825.6 833.7h0M830.3 852.5h0M821.9 828.4h0M815.9 831.5h0M815.5 826.6h0M819 823.2h0M822.8 827.1h0M814.2 825.6h0M816.9 829.6h0M815.5 838.9h0M842.5 845.9h0M849.3 842.4h0M849.8 845.1h0M842.8 846.7h0M835.1 843.9h0M839.4 846.5h0M853.5 845.9h0M840 846.3h0M837.1 843.6h0M839.6 841.4h0M839.1 847.4h0M840.6 846.6h0M844.4 846.6h0M838.1 847.5h0M835.6 844.2h0M834.5 845.1h0M847 849h0M850.8 850.2h0M842.5 849.6h0M856.1 842.4h0M834.5 842h0M854 849.3h0M836.7 849.5h0M845.1 846.9h0M846.9 850.4h0M849.2 849.4h0M836.6 848.3h0M835.9 846.1h0M847.9 849h0M844.8 842.8h0M845.1 845.6h0M848.7 842.8h0M835.2 842.9h0M850.3 845.6h0M844.9 843.4h0M844.5 847.4h0M848.3 853.6h0M836.9 846.7h0M846.6 840.3h0M834.9 847.4h0M849 842.9h0M845.4 850.1h0M854.1 846.2h0M856 846.3h0M852.4 848h0M843.8 848.4h0M838.3 845.4h0M836.8 852.8h0M852.4 846.3h0M853.9 847h0M844.7 850.5h0M833.6 848h0M836.7 847.8h0M840.8 846.6h0M852.8 845.2h0M854.8 848.1h0M842.1 852.6h0M856.5 849.1h0M839.8 848h0M835.8 846.1h0M839.2 847.9h0M845.3 846.4h0M853.8 846.6h0M848 841.5h0M850 851.9h0M850.3 852.1h0M840.1 846.3h0M854.8 843.4h0M840.3 844.1h0M856 845.7h0M846.3 844h0M837.3 844.8h0M844.9 843.3h0M854.3 842.6h0M837.9 847.7h0M841.4 843.4h0M846.6 844h0M850.7 848.8h0M842.2 845.5h0M834.9 847.6h0M859.8 842.8h0M862.1 847h0M859.1 846.1h0M862.7 842.1h0M856.7 851.3h0M862.3 851.1h0M859 847.2h0M861.9 841.8h0M857.2 854.2h0M859.9 848.8h0M860.7 852.7h0M859.5 850.9h0M858 846.7h0M860.7 847.1h0M860.6 845.8h0M857.2 844.3h0M859 846.3h0M864 838.2h0M865.8 837.5h0M865.4 839h0M865.8 837.7h0M862.5 839.2h0M863.1 843.6h0M864.3 838.7h0M867.1 825.8h0M866.8 828.3h0M869.6 826.9h0M870.1 824.3h0M871.7 830.1h0M872.9 829.1h0M871.8 830.2h0M866.8 836.9h0M870 835.7h0M869.9 836.4h0M873.3 835.2h0M874.4 833.1h0M871.3 832.6h0M871 833h0M875.7 834.6h0M875.9 837.9h0M876.1 845.5h0M876.8 844.5h0M876.1 847.7h0M878.9 831.5h0M879.2 829.6h0M881.3 831.2h0M881.4 828.5h0M883.8 830.2h0M880.1 836.5h0M882.6 836.7h0M885 833.9h0M884.1 831.5h0M886.2 836.2h0M882.6 839.9h0M884.1 838.6h0M885.8 839.1h0M885.2 839.6h0M888.2 841.4h0M888.6 840.2h0M889.4 843.4h0M890.2 831.3h0M890.9 832.7h0M891.4 829.8h0M891.3 829h0M892.3 831.3h0M893.5 836.4h0M892.3 837.7h0M894.7 840.2h0M895.5 834.6h0M895.6 838h0M893.1 842.8h0M894.2 845.1h0M894.3 846.8h0M896.3 840.3h0M897 838.6h0M897.5 836.4h0M899.5 835.7h0M899.6 835.7h0M900.7 835.7h0M899.2 837.8h0M902.4 839.1h0M904.8 840.9h0M906.5 841.3h0M897.9 849.9h0M897.3 845.3h0M900.3 850.2h0M899.5 852.6h0M903.6 838.2h0M888.6 859.3h0M888.6 858.2h0M885.5 877.2h0M906.8 853.3h0M907.6 855.8h0M906 855.1h0M906.8 854h0M910 847.6h0M910.8 852.6h0M910 856.4h0M910.8 855.4h0M914.1 854h0M914.9 856.9h0M915.7 850.7h0M916.9 849.8h0M915.8 850.1h0M904.4 861.7h0M907.2 867.8h0M913.7 863.2h0M913.7 871.1h0M913.3 876.5h0M910 893.5h0M914.1 842h0M914.9 839.9h0M915.5 838.5h0M915.3 833.5h0M916.4 833.1h0M916.5 834.9h0M917.3 840h0M917.4 837.2h0M918.1 843.9h0M919.7 830.3h0M919.5 829.7h0M920.5 836.3h0M921.3 836.6h0M922.1 838.5h0M922.9 841.6h0M923.1 844.6h0M925.8 833h0M927 836.2h0M926.2 843.2h0M927.8 833.7h0M928.6 837.1h0M929.1 841.7h0M929.4 845.9h0M928.6 849.9h0M928.1 851h0M931 852.3h0M930.6 852.9h0M931.8 848.8h0M927 846.2h0M922.5 866.6h0M922.5 879.6h0M928.6 859h0M929 864.4h0M935.1 836.5h0M935.9 843.8h0M937.2 840.8h0M934.3 845.4h0M933.4 851h0M932.5 854.3h0M938.3 840.9h0M939.1 843.7h0M937.5 849.2h0M937.7 851.8h0M935.9 853.8h0M936.2 850.4h0M939.1 855h0M940.7 851.7h0M940.6 850.2h0M943.1 836h0M942.6 837h0M943.9 842.6h0M942.3 844.7h0M942.3 848.9h0M941.8 847.8h0M945.6 852h0M945.8 846.8h0M947.2 851h0M943.9 854h0M944.9 850.9h0M944.8 842h0M940.7 844h0M940.8 845.4h0M938.3 876.4h0M947.2 861.1h0M948 864.2h0M947.2 868.1h0M947.2 873.3h0M949.6 850.5h0M952 848.3h0M952.5 846.9h0M954.5 848.7h0M957.3 851h0M952.8 853.6h0M953.3 850.7h0M956.1 852.6h0M957 853.7h0M953.6 855.1h0M957.3 855.5h0M957.9 855.2h0M958.5 853.6h0M958.2 845.6h0M951.2 854.5h0M949.4 853.9h0M954.3 889h0M835.8 795.8h0M837 816.2h0M845.6 795.1h0M848.5 796.7h0M851 783.6h0M848.6 814.4h0M850.5 814.9h0M851 828.2h0M848.5 832.5h0M848.3 836.3h0M836.5 834.5h0M847.8 722.2h0M850.4 873.4h0M855 864h0M860.5 864.7h0M848.7 862.3h0M861 854.8h0M862.5 855.3h0M826.5 874.1h0M831.2 875.6h0M830.2 869.2h0M823.4 865.5h0M832.2 872.9h0M835.8 869.2h0M825.9 872h0M827.9 876.6h0M822.2 873.2h0M823.2 869.1h0M867 925.9h0M814.1 704.7h0M816.3 704.7h0M816.5 797.4h0M822.9 803.3h0M816.5 807.1h0M822.3 808.9h0M827.1 811.9h0M817.1 813.9h0M829.7 818.7h0M836.4 816.3h0M813.2 849.8h0"/>
<path class="tk" d="M819.5 941.5v-6.1 M819.5 704.5v6.1M839.5 941.5v-6.1 M839.5 704.5v6.1M858.5 941.5v-6.1 M858.5 704.5v6.1M877.5 941.5v-6.1 M877.5 704.5v6.1M896.5 941.5v-6.1 M896.5 704.5v6.1M915.5 941.5v-6.1 M915.5 704.5v6.1M935.5 941.5v-6.1 M935.5 704.5v6.1M954.5 941.5v-6.1 M954.5 704.5v6.1M807.5 911.9h6.1 M964.5 911.9h-6.1M807.5 882.3h6.1 M964.5 882.3h-6.1M807.5 852.7h6.1 M964.5 852.7h-6.1M807.5 823.1h6.1 M964.5 823.1h-6.1M807.5 793.5h6.1 M964.5 793.5h-6.1M807.5 763.9h6.1 M964.5 763.9h-6.1M807.5 734.3h6.1 M964.5 734.3h-6.1"/>
<rect class="ax" x="807.5" y="704.5" width="157" height="237"/>
<text class="cc" x="812.2" y="730.5">#76</text>
</g>
<g>
<clipPath id="c77"><rect x="996.5" y="704.5" width="158" height="237"/></clipPath>
<path class="pt" clip-path="url(#c77)" d="M1008.5 844.7h0M1004.1 819.1h0M1003.6 823.1h0M1004.4 825.2h0M1004.9 833.9h0M1021.5 848.5h0M1019.5 850.1h0M1004.8 831.3h0M1005.9 824.7h0M1009.4 826.6h0M1015.7 839.7h0M1013.7 838.8h0M1007 840.3h0M1019.9 847.4h0M1010.3 835.3h0M1011.7 859.5h0M1017.5 844.2h0M1008.3 836.8h0M1019.1 850.6h0M1015.3 859h0M1015 824h0M1007.8 833.3h0M1003.4 822.5h0M1017.6 845.2h0M1009.8 844.2h0M1020.1 839.7h0M1007.6 826.1h0M1020.1 847.9h0M1006.8 823h0M1007.4 830.8h0M1021.6 848.2h0M1014.4 832.6h0M1019.9 854.6h0M1009.9 849.8h0M1004 822.1h0M1003.8 819h0M1004.6 818.3h0M1005.3 833.7h0M1009.3 848h0M1022.5 850h0M1008.9 841.9h0M1005.6 841.5h0M1012.5 836.6h0M1003.5 821.5h0M1019.6 852.9h0M1017.6 844.2h0M1008.6 839.8h0M1022.3 844.2h0M1018.6 843.3h0M1012.3 832.4h0M1007.3 820.6h0M1010.9 817.4h0M1021.7 852h0M1006.7 838.4h0M1019.1 848.9h0M1018.2 859.9h0M1020.7 843.3h0M1011.5 850.7h0M1008.7 818.8h0M1009.9 837.5h0M1016.6 855.9h0M1005.4 814.6h0M1005.3 816.3h0M1015.2 844.9h0M1022 850.9h0M1021.2 849.3h0M1018.8 850.5h0M1013.7 836.4h0M1005 835.1h0M1020.5 850h0M1012 835.2h0M1003.4 814.5h0M1005.7 828.4h0M1013.1 839h0M1013.1 848.6h0M1007.6 831.9h0M1013.2 831.9h0M1010.8 847h0M1011 837.8h0M1021.4 845.7h0M1021.4 843.6h0M1005.1 830.7h0M1004.1 828.8h0M1020.4 859h0M1015.3 856.3h0M1021.9 857.6h0M1009.9 835.3h0M1019 856h0M1012.3 844.8h0M1003.4 815.2h0M1003.4 829.7h0M1012.2 859.3h0M1018 849.1h0M1017.8 845.3h0M1010.4 816.7h0M1007.3 841.9h0M1013.4 831.3h0M1010.5 852.9h0M1014.7 838.3h0M1019.5 861h0M1011 827.4h0M1005 826.6h0M1004.7 822h0M1008.1 823.8h0M1012 832.2h0M1003.3 822.5h0M1006 828.3h0M1004.6 835.5h0M1031.7 853.1h0M1038.5 849.6h0M1038.9 853.5h0M1032 852.8h0M1024.3 854.5h0M1028.5 852.3h0M1042.7 851.8h0M1029.1 850.8h0M1026.3 849h0M1028.7 847.4h0M1028.3 854.5h0M1029.8 855.6h0M1033.6 855.2h0M1027.3 851.7h0M1024.7 851.2h0M1023.6 850.9h0M1036.1 850.7h0M1039.9 854.7h0M1031.6 856.7h0M1045.3 849.9h0M1023.7 850.2h0M1043.2 856.8h0M1025.9 855.7h0M1034.3 850.6h0M1036.1 857.4h0M1038.4 853.7h0M1025.7 852.1h0M1025.1 851h0M1037.1 856.6h0M1033.9 847.8h0M1034.2 853.5h0M1037.8 851.1h0M1024.4 850.7h0M1039.4 851.8h0M1034 848.1h0M1033.7 855.4h0M1037.4 860.4h0M1026.1 851.9h0M1035.7 844.4h0M1024.1 851.8h0M1038.2 850.1h0M1034.5 859.1h0M1043.2 852.1h0M1045.2 851.6h0M1041.5 854.4h0M1033 853h0M1027.5 851.3h0M1025.9 859.7h0M1041.5 854.8h0M1043.1 853.5h0M1033.8 855.8h0M1022.7 854.4h0M1025.9 849.3h0M1029.9 851.5h0M1042 853.4h0M1044 855.1h0M1031.2 857.1h0M1045.6 856h0M1029 853.4h0M1025 849.2h0M1028.4 853.8h0M1034.4 851.5h0M1043 850.2h0M1037.2 848.3h0M1039.2 858h0M1039.5 856h0M1029.2 851.9h0M1044 849.5h0M1029.5 850.8h0M1045.1 853.1h0M1035.5 847.8h0M1026.5 852h0M1034.1 853.6h0M1043.5 850.2h0M1027.1 854.9h0M1030.5 848.4h0M1035.8 851.7h0M1039.9 854.9h0M1031.3 851.4h0M1024.1 849.5h0M1048.9 846.8h0M1051.3 851.2h0M1048.3 850.3h0M1051.9 848.7h0M1045.9 858.1h0M1051.5 859.7h0M1048.2 853.7h0M1051 848.3h0M1046.4 857.8h0M1049.1 855.9h0M1049.9 859h0M1048.6 852.2h0M1047.2 851.2h0M1049.9 853.5h0M1049.8 851.8h0M1046.4 850.4h0M1048.2 851.7h0M1053.2 843.6h0M1055 842.3h0M1054.6 846.6h0M1055 842.8h0M1051.7 847.1h0M1052.3 846.5h0M1053.5 843.6h0M1056.2 830h0M1056 833.7h0M1058.8 833.7h0M1059.3 832.2h0M1060.8 836.1h0M1062 837.5h0M1060.9 836.5h0M1056 842.4h0M1059.2 843h0M1059.1 842.3h0M1062.4 841.1h0M1063.6 836.9h0M1060.4 840.8h0M1060.2 838.6h0M1064.9 840.7h0M1065.1 846.5h0M1065.3 849.9h0M1066 850.6h0M1065.3 853h0M1068.1 836.5h0M1068.4 837.2h0M1070.5 835.8h0M1070.6 832.8h0M1072.9 838.6h0M1069.3 840.7h0M1071.7 841.8h0M1074.1 839.2h0M1073.3 836.6h0M1075.4 844.5h0M1071.7 844.7h0M1073.2 844.9h0M1075 849.3h0M1074.4 846.6h0M1077.4 842.6h0M1077.8 846.6h0M1078.6 849.5h0M1079.4 841.4h0M1080 838.1h0M1080.6 834.8h0M1080.5 834.3h0M1081.4 839.2h0M1082.6 841.6h0M1081.5 844h0M1083.8 845.2h0M1084.7 841.8h0M1084.8 844h0M1082.2 849.2h0M1083.4 850h0M1083.4 853.3h0M1085.5 845.1h0M1086.1 845.3h0M1086.7 842.7h0M1088.7 843.5h0M1088.7 843.3h0M1089.9 844.6h0M1088.4 844.5h0M1091.5 845.9h0M1093.9 848.7h0M1095.7 849h0M1087.1 855.2h0M1086.5 852h0M1089.5 852.6h0M1088.7 860.1h0M1092.7 844.3h0M1077.8 863.6h0M1077.8 863.9h0M1074.7 885.1h0M1096 860.1h0M1096.8 862.1h0M1095.2 860.4h0M1095.9 861.3h0M1099.2 853.1h0M1100 858.1h0M1099.2 861.3h0M1099.9 860.4h0M1103.2 860.3h0M1104 863.4h0M1104.8 858.3h0M1106.1 855.3h0M1105 855.9h0M1093.5 867h0M1096.4 875.1h0M1102.8 869.9h0M1102.8 876.6h0M1102.4 883.2h0M1099.2 902.4h0M1103.2 851.9h0M1104 845.4h0M1104.6 842.8h0M1104.4 838.4h0M1105.5 839.4h0M1105.7 844.1h0M1106.5 848.6h0M1106.5 844.1h0M1107.3 848.8h0M1108.9 836.1h0M1108.7 836.3h0M1109.7 841.7h0M1110.5 845.5h0M1111.3 843.9h0M1112.1 848.4h0M1112.3 851.6h0M1114.9 839.6h0M1116.2 843.5h0M1115.3 849.1h0M1117 840.5h0M1117.8 845.8h0M1118.3 844.2h0M1118.6 852.7h0M1117.8 855.9h0M1117.3 856.9h0M1120.2 859.7h0M1119.7 856.6h0M1121 853.7h0M1116.2 853.1h0M1111.7 869.5h0M1111.7 887.9h0M1117.8 866.2h0M1118.2 869h0M1124.2 841.9h0M1125 848.3h0M1126.4 847.1h0M1123.4 851.7h0M1122.6 859.6h0M1121.7 861.2h0M1127.5 846.3h0M1128.3 851.3h0M1126.7 855.6h0M1126.9 855.4h0M1125 860.6h0M1125.4 857.2h0M1128.3 860.3h0M1129.9 855.3h0M1129.7 853.7h0M1132.3 842.3h0M1131.7 841.3h0M1133.1 847.5h0M1131.5 852.4h0M1131.5 853.7h0M1130.9 852.8h0M1134.7 853.6h0M1135 855.7h0M1136.3 854.2h0M1133.1 859.9h0M1134.1 858.8h0M1133.9 846.2h0M1129.9 849.5h0M1129.9 849.4h0M1127.5 882.1h0M1136.3 866.7h0M1137.2 871h0M1136.3 875.2h0M1136.3 875.5h0M1138.8 856.4h0M1141.2 855.7h0M1141.6 854.5h0M1143.6 857.4h0M1146.4 857.1h0M1142 858.5h0M1142.4 857.4h0M1145.2 857.7h0M1146.2 860.3h0M1142.8 864.4h0M1146.4 858.7h0M1147 860.6h0M1147.7 856.8h0M1147.4 852.3h0M1140.4 860.8h0M1138.6 860.9h0M1143.5 894.3h0M1025 798.9h0M1026.2 822.3h0M1034.8 797.3h0M1037.7 800.3h0M1040.2 789h0M1037.8 818.3h0M1039.7 820.9h0M1040.2 833.2h0M1037.7 836.1h0M1037.5 842h0M1025.7 842.1h0M1037 725.1h0M1039.6 879.9h0M1044.2 869.4h0M1049.7 871.8h0M1037.9 867h0M1050.2 861.3h0M1051.7 859.2h0M1012.2 884.7h0M1017.2 875.3h0M1012.3 882.4h0M1015.8 871.5h0M1012.9 877.2h0M1021.3 875.1h0M1006.2 877.5h0M1023.7 872.1h0M1011.9 875.5h0M1021.1 875.4h0M1056.2 934.5h0M1003.7 704.7h0M1006.2 752.1h0M1003.7 855.7h0M1006.7 849.8h0M1007.2 864.6h0M1008.2 869h0"/>
<path class="tk" d="M1009.5 941.5v-6.1 M1009.5 704.5v6.1M1028.5 941.5v-6.1 M1028.5 704.5v6.1M1047.5 941.5v-6.1 M1047.5 704.5v6.1M1066.5 941.5v-6.1 M1066.5 704.5v6.1M1085.5 941.5v-6.1 M1085.5 704.5v6.1M1105.5 941.5v-6.1 M1105.5 704.5v6.1M1124.5 941.5v-6.1 M1124.5 704.5v6.1M1143.5 941.5v-6.1 M1143.5 704.5v6.1M996.5 911.9h6.1 M1154.5 911.9h-6.1M996.5 882.3h6.1 M1154.5 882.3h-6.1M996.5 852.7h6.1 M1154.5 852.7h-6.1M996.5 823.1h6.1 M1154.5 823.1h-6.1M996.5 793.5h6.1 M1154.5 793.5h-6.1M996.5 763.9h6.1 M1154.5 763.9h-6.1M996.5 734.3h6.1 M1154.5 734.3h-6.1"/>
<rect class="ax" x="996.5" y="704.5" width="158" height="237"/>
<text class="cc" x="1001.4" y="730.5">#77</text>
</g>
<g>
<clipPath id="c78"><rect x="1185.5" y="704.5" width="158" height="237"/></clipPath>
<path class="pt" clip-path="url(#c78)" d="M1197.7 845h0M1193.3 819.4h0M1192.8 823.5h0M1193.6 829.4h0M1194.1 836.4h0M1210.7 851.5h0M1208.7 851.6h0M1194 834.7h0M1195.1 826h0M1198.6 829.5h0M1204.9 842.2h0M1202.9 840.8h0M1196.2 840.5h0M1209.1 849.3h0M1199.5 836h0M1200.9 858.3h0M1206.7 843.7h0M1197.5 838.2h0M1208.3 849.3h0M1204.5 860.1h0M1204.2 824.7h0M1196.9 837.4h0M1192.6 824.2h0M1206.7 846.3h0M1199 844.8h0M1209.2 841h0M1196.8 828.6h0M1209.3 849.2h0M1196 826.7h0M1196.5 839.3h0M1210.8 848.1h0M1203.5 833.7h0M1209 856.4h0M1199.1 850h0M1193.1 823.7h0M1193 820.3h0M1193.7 820.3h0M1194.5 833.9h0M1198.4 846.9h0M1211.7 850.9h0M1198 842.7h0M1194.7 842.1h0M1201.7 839.6h0M1192.6 823.6h0M1208.8 852.7h0M1206.8 847.8h0M1197.8 844.3h0M1211.5 845.6h0M1207.8 848.7h0M1201.5 834.3h0M1196.5 823.3h0M1200.1 820.1h0M1210.8 852.3h0M1195.9 840.7h0M1208.3 851.1h0M1207.4 862.5h0M1209.8 844.7h0M1200.7 854.3h0M1197.8 818.1h0M1199 841.7h0M1205.8 855.2h0M1194.5 814.9h0M1194.5 817.9h0M1204.4 843.3h0M1211.2 852.4h0M1210.3 854h0M1208 848.4h0M1202.9 837.5h0M1194.2 836.3h0M1209.7 853.2h0M1201.2 836.5h0M1192.5 815.4h0M1194.9 829.1h0M1202.3 839.4h0M1202.2 847.2h0M1196.8 831.9h0M1202.4 831h0M1200 850.8h0M1200.2 837.7h0M1210.5 849.7h0M1210.5 845.4h0M1194.3 832.3h0M1193.3 830.4h0M1209.5 859.6h0M1204.4 858.1h0M1211.1 859.5h0M1199.1 835h0M1208.1 857.4h0M1201.4 847.4h0M1192.5 817.6h0M1192.5 830.8h0M1201.4 861h0M1207.2 846.8h0M1207 845.6h0M1199.6 820.4h0M1196.4 843.5h0M1202.6 832.4h0M1199.6 853.8h0M1203.9 838h0M1208.6 861.6h0M1200.2 831.2h0M1194.2 829.9h0M1193.9 825.9h0M1197.3 824.5h0M1201.1 834.1h0M1192.5 825.3h0M1195.2 829.6h0M1193.8 837.2h0M1220.9 854.5h0M1227.6 851.6h0M1228.1 855h0M1221.1 855.9h0M1213.5 853.7h0M1217.7 852.8h0M1231.9 854.6h0M1218.3 855.1h0M1215.5 852.4h0M1217.9 849.2h0M1217.5 857.2h0M1218.9 855.1h0M1222.7 856.3h0M1216.5 855.3h0M1213.9 855.9h0M1212.8 851.4h0M1225.3 854.1h0M1229.1 857.5h0M1220.8 860.8h0M1234.5 853.8h0M1212.8 850h0M1232.3 856.5h0M1215 856.9h0M1223.4 852.1h0M1225.3 857.5h0M1227.5 853.5h0M1214.9 855.8h0M1214.2 853.8h0M1226.2 856.9h0M1223.1 849.8h0M1223.4 854h0M1227 853.4h0M1213.5 854.6h0M1228.6 852.7h0M1223.2 849.7h0M1222.8 856.3h0M1226.6 860.5h0M1215.2 853.6h0M1224.9 846.3h0M1213.2 853h0M1227.4 850.9h0M1223.7 859.2h0M1232.4 852.8h0M1234.3 854.6h0M1230.7 856.2h0M1222.2 852.5h0M1216.7 850.9h0M1215.1 859.9h0M1230.7 854.9h0M1232.2 856h0M1223 858.9h0M1211.9 856.5h0M1215.1 853.8h0M1219.1 852.3h0M1231.1 855.5h0M1233.1 855.3h0M1220.4 859.4h0M1234.8 856.4h0M1218.2 856.9h0M1214.2 853.7h0M1217.6 857.2h0M1223.6 854.2h0M1232.2 853.1h0M1226.3 851.1h0M1228.4 861.3h0M1228.7 858.1h0M1218.4 851.4h0M1233.1 852.2h0M1218.7 850.7h0M1234.3 853h0M1224.6 850h0M1215.7 852.9h0M1223.3 852.1h0M1232.7 851.9h0M1216.3 854.7h0M1219.7 854.3h0M1224.9 853.7h0M1229.1 856.6h0M1220.5 853.3h0M1213.3 855.6h0M1238.1 848.3h0M1240.4 853.2h0M1237.4 852.9h0M1241 849.3h0M1235 859.1h0M1240.7 862h0M1237.4 854h0M1240.2 849h0M1235.5 860.1h0M1238.2 856.5h0M1239 860.3h0M1237.8 856.9h0M1236.3 853.8h0M1239 851.5h0M1239 851.7h0M1235.6 851.9h0M1237.4 852.2h0M1242.3 845.9h0M1244.1 843.8h0M1243.7 846h0M1244.1 845.2h0M1240.9 847.4h0M1241.4 849h0M1242.7 846.3h0M1245.4 832.7h0M1245.2 835.6h0M1248 833.8h0M1248.5 835.2h0M1250 836.4h0M1251.2 841.1h0M1250.1 837.6h0M1245.1 843.2h0M1248.4 845.1h0M1248.3 842.9h0M1251.6 842.3h0M1252.8 839.8h0M1249.6 840.5h0M1249.3 841.6h0M1254 840.6h0M1254.3 848.7h0M1254.4 853h0M1255.1 852.3h0M1254.4 857.8h0M1257.3 840.5h0M1257.6 839.4h0M1259.7 840.3h0M1259.8 833.7h0M1262.1 836.7h0M1258.5 842.4h0M1260.9 842.4h0M1263.3 842.8h0M1262.4 838.9h0M1264.5 843.5h0M1260.9 846.6h0M1262.4 847.9h0M1264.1 848.3h0M1263.5 847.4h0M1266.5 848.7h0M1266.9 848.3h0M1267.8 849.2h0M1268.6 841.8h0M1269.2 839.4h0M1269.8 836.5h0M1269.7 835.4h0M1270.6 838.8h0M1271.8 843.2h0M1270.6 846.3h0M1273 845.5h0M1273.8 843.9h0M1273.9 845.8h0M1271.4 850.6h0M1272.5 853.9h0M1272.6 855.6h0M1274.6 846.1h0M1275.3 848.3h0M1275.8 843.5h0M1277.9 841.7h0M1277.9 842.3h0M1279.1 847.5h0M1277.6 847.4h0M1280.7 846.9h0M1283.1 848.4h0M1284.8 848.5h0M1276.2 856.1h0M1275.6 853.7h0M1278.7 854.5h0M1277.9 860.8h0M1281.9 845.8h0M1267 867.6h0M1267 866.4h0M1263.9 885h0M1285.1 858.4h0M1285.9 862.3h0M1284.3 860.4h0M1285.1 861.8h0M1288.4 855.1h0M1289.2 859.2h0M1288.4 863.7h0M1289.1 861.5h0M1292.4 863.3h0M1293.2 864.9h0M1294 856.8h0M1295.2 855.3h0M1294.1 859.7h0M1282.7 870.2h0M1285.5 874.9h0M1292 871.1h0M1292 876.5h0M1291.6 884.7h0M1288.4 904.9h0M1292.4 854.1h0M1293.2 844.1h0M1293.8 847.4h0M1293.6 839.7h0M1294.7 839.9h0M1294.8 843.6h0M1295.6 847.7h0M1295.7 842.9h0M1296.4 853.5h0M1298 838.2h0M1297.9 839.1h0M1298.9 842.8h0M1299.7 847.3h0M1300.5 844.5h0M1301.3 848.4h0M1301.4 850.2h0M1304.1 839.3h0M1305.3 842.2h0M1304.5 850.7h0M1306.1 842.5h0M1306.9 846.9h0M1307.4 846.8h0M1307.7 852.2h0M1306.9 854.7h0M1306.4 856.4h0M1309.4 859.3h0M1308.9 859.6h0M1310.2 856.4h0M1305.3 853.4h0M1300.9 874.6h0M1300.9 887h0M1306.9 866.3h0M1307.3 871.5h0M1313.4 845.9h0M1314.2 849.3h0M1315.5 847.6h0M1312.6 852.8h0M1311.8 857.1h0M1310.8 862h0M1316.6 847.2h0M1317.4 852.2h0M1315.8 855.5h0M1316 856h0M1314.2 863.5h0M1314.5 859.2h0M1317.4 861.1h0M1319.1 857.5h0M1318.9 856.8h0M1321.5 846.1h0M1320.9 842.3h0M1322.3 850.2h0M1320.6 854.3h0M1320.7 855.7h0M1320.1 857.1h0M1323.9 855.8h0M1324.2 855.3h0M1325.5 857.3h0M1322.3 863.1h0M1323.2 859.7h0M1323.1 846.8h0M1319.1 851h0M1319.1 852.4h0M1316.6 883.5h0M1325.5 868.2h0M1326.3 869.7h0M1325.5 875.2h0M1325.5 878.9h0M1327.9 859.6h0M1330.4 858.6h0M1330.8 855.7h0M1332.8 856.1h0M1335.6 857.1h0M1331.2 862.3h0M1331.6 860.9h0M1334.4 863.1h0M1335.3 861.6h0M1332 865.3h0M1335.6 862.6h0M1336.2 861.2h0M1336.8 860.5h0M1336.6 854.9h0M1329.6 863.2h0M1327.8 861.6h0M1332.6 896.6h0M1214.1 802.9h0M1215.3 826.6h0M1223.9 804h0M1226.8 804.8h0M1229.3 793.2h0M1226.9 821.9h0M1228.8 823.7h0M1229.3 835.3h0M1226.8 839.1h0M1226.6 844.5h0M1214.8 845.4h0M1226.1 730.9h0M1228.7 883.9h0M1233.3 872.3h0M1238.8 872h0M1227 868h0M1239.3 864.6h0M1240.8 862.3h0M1213.1 880.9h0M1207.4 887.5h0M1209.9 884h0M1208.5 888.9h0M1204.4 879h0M1210.1 876.5h0M1202.2 880.5h0M1209.1 888.9h0M1205.1 874.4h0M1206.3 872.7h0M1245.3 935.3h0M1192.8 704.7h0M1194 911.9h0M1194.6 911.9h0M1196.9 924.7h0M1194 941.6h0M1192.6 860.7h0M1209 832.6h0"/>
<path class="tk" d="M1198.5 941.5v-6.1 M1198.5 704.5v6.1M1217.5 941.5v-6.1 M1217.5 704.5v6.1M1236.5 941.5v-6.1 M1236.5 704.5v6.1M1255.5 941.5v-6.1 M1255.5 704.5v6.1M1275.5 941.5v-6.1 M1275.5 704.5v6.1M1294.5 941.5v-6.1 M1294.5 704.5v6.1M1313.5 941.5v-6.1 M1313.5 704.5v6.1M1332.5 941.5v-6.1 M1332.5 704.5v6.1M1185.5 911.9h6.1 M1343.5 911.9h-6.1M1185.5 882.3h6.1 M1343.5 882.3h-6.1M1185.5 852.7h6.1 M1343.5 852.7h-6.1M1185.5 823.1h6.1 M1343.5 823.1h-6.1M1185.5 793.5h6.1 M1343.5 793.5h-6.1M1185.5 763.9h6.1 M1343.5 763.9h-6.1M1185.5 734.3h6.1 M1343.5 734.3h-6.1"/>
<rect class="ax" x="1185.5" y="704.5" width="158" height="237"/>
<text class="cc" x="1190.5" y="730.5">#78</text>
</g>
<g>
<clipPath id="c79"><rect x="1374.5" y="704.5" width="158" height="237"/></clipPath>
<path class="pt" clip-path="url(#c79)" d="M1386.8 844h0M1382.4 822.2h0M1381.9 824.7h0M1382.7 830.6h0M1383.3 838.2h0M1399.8 843.5h0M1397.9 841h0M1383.2 832.7h0M1384.2 828.2h0M1387.8 826.6h0M1394 839.2h0M1392 831.6h0M1385.3 840.3h0M1398.2 839.8h0M1388.6 832.4h0M1390.1 848.1h0M1395.8 839.1h0M1386.6 837.7h0M1397.5 844.1h0M1393.7 852.3h0M1393.3 821.5h0M1386.1 834.3h0M1381.7 825.7h0M1395.9 838.3h0M1388.1 839.9h0M1398.4 837h0M1386 827.6h0M1398.4 839.4h0M1385.2 827.8h0M1385.7 833.8h0M1399.9 839.1h0M1392.7 828.4h0M1398.2 847.3h0M1388.3 847.2h0M1382.3 824.5h0M1382.2 824h0M1382.9 820.6h0M1383.7 832h0M1387.6 844.7h0M1400.8 841h0M1387.2 839.2h0M1383.9 843.1h0M1390.9 832.1h0M1381.8 827.4h0M1398 843h0M1396 839.6h0M1386.9 841.3h0M1400.7 835.9h0M1397 839h0M1390.6 827.4h0M1385.6 825.4h0M1389.2 816.2h0M1400 846.5h0M1385 840.2h0M1397.5 840.9h0M1396.6 850.4h0M1399 837.4h0M1389.8 844h0M1387 821h0M1388.2 836.6h0M1395 848.7h0M1383.7 815.5h0M1383.6 818.8h0M1393.5 836.1h0M1400.3 841h0M1399.5 846.4h0M1397.2 842.5h0M1392.1 831.9h0M1383.4 836h0M1398.9 843h0M1390.3 830.8h0M1381.7 818.5h0M1384.1 829.2h0M1391.4 834.1h0M1391.4 839.8h0M1385.9 829.7h0M1391.5 826.6h0M1389.1 843.8h0M1389.3 834.8h0M1399.7 840.7h0M1399.7 836h0M1383.5 831.1h0M1382.5 832.8h0M1398.7 852.9h0M1393.6 848.9h0M1400.3 851.5h0M1388.3 834.9h0M1397.3 848.4h0M1390.6 839.7h0M1381.7 820.6h0M1381.7 831.2h0M1390.5 851.4h0M1396.3 840.6h0M1396.1 838.6h0M1388.7 815.5h0M1385.6 841.3h0M1391.7 825.7h0M1388.8 849.9h0M1393.1 833.2h0M1397.8 852.1h0M1389.4 826.6h0M1383.3 833.3h0M1383 827.9h0M1386.5 825.1h0M1390.3 829.5h0M1381.7 827.8h0M1384.4 829.5h0M1383 841.2h0M1410 843.7h0M1416.8 842.9h0M1417.3 845.1h0M1410.3 845.9h0M1402.6 843.9h0M1406.9 845.4h0M1421 843.9h0M1407.5 842.7h0M1404.6 841.9h0M1407.1 840.8h0M1406.6 845.6h0M1408.1 845.3h0M1411.9 843.7h0M1405.6 844.7h0M1403.1 843.1h0M1402 842.4h0M1414.5 845.5h0M1418.3 846.6h0M1410 847.8h0M1423.6 843.7h0M1402 840.7h0M1421.5 846.3h0M1404.2 849.5h0M1412.6 843.2h0M1414.4 847h0M1416.7 845.2h0M1404.1 847.6h0M1403.4 843.5h0M1415.4 847h0M1412.2 839.6h0M1412.6 844.9h0M1416.2 841h0M1402.7 841.4h0M1417.8 842.7h0M1412.4 839.5h0M1412 844.9h0M1415.8 851.5h0M1404.4 844.9h0M1414.1 838.4h0M1402.4 845.1h0M1416.5 841.6h0M1412.9 848.1h0M1421.5 843.1h0M1423.5 845h0M1419.9 843.8h0M1411.3 844.5h0M1405.8 843.2h0M1404.3 850.5h0M1419.9 846.5h0M1421.4 844.5h0M1412.2 847.5h0M1401.1 848.6h0M1404.2 845.5h0M1408.3 844.9h0M1420.3 843.2h0M1422.3 846.4h0M1409.6 849.9h0M1424 846h0M1407.3 847.5h0M1403.3 847.7h0M1406.7 845.9h0M1412.7 845.2h0M1421.3 842.5h0M1415.5 838.8h0M1417.5 850.4h0M1417.8 848.2h0M1407.6 840.1h0M1422.3 843.8h0M1407.8 840.5h0M1423.5 845.2h0M1413.8 842.7h0M1404.8 843.3h0M1412.4 843.8h0M1421.8 842.7h0M1405.4 845.8h0M1408.9 843.7h0M1414.1 844.2h0M1418.2 846.2h0M1409.7 842.4h0M1402.4 846.1h0M1427.3 836.9h0M1429.6 842.8h0M1426.6 842.1h0M1430.2 838.4h0M1424.2 850.6h0M1429.8 849.3h0M1426.5 844.4h0M1429.4 840.7h0M1424.7 851h0M1427.4 846.5h0M1428.2 849.8h0M1427 847.1h0M1425.5 845h0M1428.2 845.6h0M1428.1 840.2h0M1424.7 840.5h0M1426.5 844.7h0M1431.5 835.7h0M1433.3 835.6h0M1432.9 838.6h0M1433.3 833.7h0M1430 838.6h0M1430.6 837.5h0M1431.8 836.9h0M1434.5 822.8h0M1434.3 826h0M1437.1 824.2h0M1437.6 823.1h0M1439.2 826.2h0M1440.4 830.4h0M1439.3 828.5h0M1434.3 831.8h0M1437.5 834.1h0M1437.4 834.7h0M1440.8 832.4h0M1441.9 830.3h0M1438.7 830.3h0M1438.5 830.2h0M1443.2 835.4h0M1443.4 838.9h0M1443.6 839.8h0M1444.3 843.3h0M1443.6 845.7h0M1446.4 829.3h0M1446.7 829.1h0M1448.8 827.7h0M1448.9 825.4h0M1451.3 826.1h0M1447.6 831.2h0M1450.1 831.8h0M1452.5 831.9h0M1451.6 829.9h0M1453.7 834h0M1450.1 837.4h0M1451.6 835.4h0M1453.3 839.2h0M1452.7 837.9h0M1455.7 839.5h0M1456.1 838.5h0M1456.9 841.3h0M1457.7 831.1h0M1458.4 828.6h0M1458.9 825.4h0M1458.8 825.6h0M1459.8 829.1h0M1461 834.2h0M1459.8 835.6h0M1462.2 837.2h0M1463 833.8h0M1463.1 835.5h0M1460.6 840.2h0M1461.7 842.7h0M1461.8 843.9h0M1463.8 836.6h0M1464.5 836.5h0M1465 834.4h0M1467 831.8h0M1467.1 832.8h0M1468.2 837.2h0M1466.7 835.7h0M1469.8 838.9h0M1472.3 840h0M1474 839.6h0M1465.4 845.7h0M1464.8 842.2h0M1467.8 846h0M1467 851.4h0M1471.1 837.4h0M1456.1 855.7h0M1456.1 855.3h0M1453 875.1h0M1474.3 847.2h0M1475.1 854.6h0M1473.5 853.9h0M1474.3 852.9h0M1477.5 847.1h0M1478.3 847.7h0M1477.5 851.1h0M1478.3 854.4h0M1481.6 852.9h0M1482.4 857.7h0M1483.2 847.9h0M1484.4 848.9h0M1483.3 848.6h0M1471.9 860.1h0M1474.7 868.5h0M1481.2 861.4h0M1481.2 866h0M1480.8 874.3h0M1477.5 893.2h0M1481.6 841.3h0M1482.4 838.9h0M1483 836.7h0M1482.8 834.2h0M1483.9 830.9h0M1484 834.6h0M1484.8 836.5h0M1484.9 832.9h0M1485.6 841h0M1487.2 828.9h0M1487 829.2h0M1488 832.8h0M1488.8 835.2h0M1489.6 835.9h0M1490.4 840.9h0M1490.6 841.9h0M1493.3 827.9h0M1494.5 832.5h0M1493.7 842.4h0M1495.3 831.4h0M1496.1 839.6h0M1496.6 837.5h0M1496.9 841.8h0M1496.1 848h0M1495.6 847.5h0M1498.5 850.1h0M1498.1 849.1h0M1499.3 845.9h0M1494.5 842.7h0M1490 862.5h0M1490 877.7h0M1496.1 857.5h0M1496.5 862.8h0M1502.6 835.4h0M1503.4 837.1h0M1504.7 837.2h0M1501.8 844.6h0M1500.9 847.8h0M1500 854.4h0M1505.8 838.2h0M1506.6 842.5h0M1505 847h0M1505.2 847.2h0M1503.4 855h0M1503.7 848.4h0M1506.6 853.2h0M1508.2 846.8h0M1508.1 845.8h0M1510.6 833.5h0M1510.1 834.4h0M1511.4 841.8h0M1509.8 844.2h0M1509.8 846.1h0M1509.3 846.2h0M1513.1 846.5h0M1513.3 846h0M1514.7 846.2h0M1511.4 851.6h0M1512.4 849.7h0M1512.3 838.1h0M1508.2 842.3h0M1508.3 840.5h0M1505.8 874h0M1514.7 858.5h0M1515.5 858.1h0M1514.7 863.8h0M1514.7 870.8h0M1517.1 846.7h0M1519.5 850.3h0M1520 845.4h0M1521.9 846.9h0M1524.8 847.5h0M1520.3 850.8h0M1520.8 849.1h0M1523.6 853h0M1524.5 852.3h0M1521.1 858h0M1524.8 852.5h0M1525.4 853.9h0M1526 848.9h0M1525.7 844.8h0M1518.7 855.4h0M1516.9 851.6h0M1521.8 886.3h0M1403.3 794.4h0M1404.5 815.4h0M1413.1 793.7h0M1416 794.8h0M1418.5 783.7h0M1416.1 812.2h0M1418 813.4h0M1418.5 826.2h0M1416 828.5h0M1415.8 835.5h0M1404 835.1h0M1415.3 720.7h0M1417.9 873.6h0M1422.5 859.6h0M1428 861.7h0M1416.2 859.7h0M1428.5 856.2h0M1430 850.4h0M1399.6 873.5h0M1401.6 873.2h0M1404.3 864.6h0M1391 871h0M1402.2 875.8h0M1395.1 866.7h0M1404.1 874.7h0M1391.4 873.2h0M1434.5 925.9h0M1382 704.7h0M1392.7 809.5h0M1385 734.3h0M1383.4 752.1h0M1383 861.6h0"/>
<path class="tk" d="M1387.5 941.5v-6.1 M1387.5 704.5v6.1M1406.5 941.5v-6.1 M1406.5 704.5v6.1M1425.5 941.5v-6.1 M1425.5 704.5v6.1M1445.5 941.5v-6.1 M1445.5 704.5v6.1M1464.5 941.5v-6.1 M1464.5 704.5v6.1M1483.5 941.5v-6.1 M1483.5 704.5v6.1M1502.5 941.5v-6.1 M1502.5 704.5v6.1M1521.5 941.5v-6.1 M1521.5 704.5v6.1M1374.5 911.9h6.1 M1532.5 911.9h-6.1M1374.5 882.3h6.1 M1532.5 882.3h-6.1M1374.5 852.7h6.1 M1532.5 852.7h-6.1M1374.5 823.1h6.1 M1532.5 823.1h-6.1M1374.5 793.5h6.1 M1532.5 793.5h-6.1M1374.5 763.9h6.1 M1532.5 763.9h-6.1M1374.5 734.3h6.1 M1532.5 734.3h-6.1"/>
<rect class="ax" x="1374.5" y="704.5" width="158" height="237"/>
<text class="cc" x="1379.7" y="730.5">#79</text>
</g>
<g>
<clipPath id="c80"><rect x="1563.5" y="704.5" width="158" height="237"/></clipPath>
<path class="pt" clip-path="url(#c80)" d="M1576 816.6h0M1571.6 800.3h0M1571.1 800.3h0M1571.9 805.8h0M1572.4 809.9h0M1589 816.7h0M1587 817.6h0M1572.3 807.2h0M1573.4 800h0M1576.9 801.9h0M1583.2 812.2h0M1581.2 808.1h0M1574.5 814.6h0M1587.4 815.1h0M1577.8 810.1h0M1579.2 825h0M1585 813.4h0M1575.8 812.7h0M1586.6 822.1h0M1582.8 828.6h0M1582.5 797.6h0M1575.3 811.1h0M1570.9 802.9h0M1585.1 814.5h0M1577.3 813.4h0M1587.6 808.8h0M1575.1 805.9h0M1587.6 816.1h0M1574.3 802.7h0M1574.9 810.8h0M1589.1 815.5h0M1581.9 802.2h0M1587.4 823.5h0M1577.4 819.6h0M1571.5 802.2h0M1571.3 799.5h0M1572.1 796.9h0M1572.8 809h0M1576.8 817.4h0M1590 818.9h0M1576.4 812.8h0M1573.1 817.6h0M1580 809.9h0M1571 802h0M1587.1 819.3h0M1585.1 815.2h0M1576.1 815.5h0M1589.8 813.7h0M1586.1 813.5h0M1579.8 804.5h0M1574.8 799.7h0M1578.4 795.6h0M1589.2 818.5h0M1574.2 812.7h0M1586.6 814.8h0M1585.7 827h0M1588.2 813.7h0M1579 820.8h0M1576.2 800.4h0M1577.4 811.2h0M1584.1 823.4h0M1572.9 794.7h0M1572.8 796.1h0M1582.7 811.1h0M1589.5 818.1h0M1588.7 817.9h0M1586.3 817.5h0M1581.2 807.7h0M1572.5 811.3h0M1588 819h0M1579.5 807.1h0M1570.9 794.4h0M1573.2 804.4h0M1580.6 810.9h0M1580.6 819.8h0M1575.1 808h0M1580.7 806h0M1578.3 820h0M1578.5 809.2h0M1588.9 813h0M1588.9 810.6h0M1572.6 807.4h0M1571.6 808.3h0M1587.9 824.7h0M1582.8 823.2h0M1589.4 825h0M1577.4 810.3h0M1586.5 824h0M1579.8 812.9h0M1570.9 796.5h0M1570.9 804.4h0M1579.7 823.8h0M1585.5 816.8h0M1585.3 814.3h0M1577.9 795.2h0M1574.8 817h0M1580.9 802h0M1578 822.1h0M1582.2 808.5h0M1587 827h0M1578.5 805.4h0M1572.5 805.9h0M1572.2 802.7h0M1575.6 799.5h0M1579.5 805h0M1570.8 801.6h0M1573.5 807.9h0M1572.1 814.2h0M1599.2 819.8h0M1606 816h0M1606.4 822.4h0M1599.5 822.3h0M1591.8 817.5h0M1596 819.2h0M1610.2 817.6h0M1596.6 818.9h0M1593.8 819.8h0M1596.2 812.7h0M1595.8 819.7h0M1597.3 819.7h0M1601.1 820.5h0M1594.8 819.8h0M1592.2 819.6h0M1591.1 816.6h0M1603.6 819.1h0M1607.4 820.8h0M1599.1 820.9h0M1612.8 815.9h0M1591.2 816h0M1610.7 822.6h0M1593.4 822.9h0M1601.8 817.1h0M1603.6 825.5h0M1605.9 820.9h0M1593.2 822.1h0M1592.6 819h0M1604.6 822h0M1601.4 815.2h0M1601.7 821h0M1605.3 815.1h0M1591.9 816.6h0M1606.9 820.6h0M1601.5 816.7h0M1601.2 819.4h0M1604.9 825.7h0M1593.6 817.8h0M1603.2 812.3h0M1591.6 820h0M1605.7 817.3h0M1602 824.6h0M1610.7 818h0M1612.7 818.3h0M1609 822h0M1600.5 819.8h0M1595 817.4h0M1593.4 827.4h0M1609 820.5h0M1610.6 819.5h0M1601.3 822.4h0M1590.2 821.9h0M1593.4 819.8h0M1597.4 819.5h0M1609.5 819.4h0M1611.5 823.2h0M1598.7 825h0M1613.1 822.1h0M1596.5 823.1h0M1592.5 819h0M1595.9 821.7h0M1601.9 818.9h0M1610.5 818.3h0M1604.7 816.3h0M1606.7 824.9h0M1607 824.5h0M1596.7 818.3h0M1611.5 819.2h0M1597 819.2h0M1612.6 821h0M1603 817.9h0M1594 817.6h0M1601.6 819.5h0M1611 817.4h0M1594.6 820.4h0M1598 818.3h0M1603.3 818.7h0M1607.4 821.4h0M1598.8 819.8h0M1591.6 822h0M1616.4 813.2h0M1618.8 818.5h0M1615.8 818.1h0M1619.4 815.6h0M1613.4 824h0M1619 824h0M1615.7 819.2h0M1618.5 817.7h0M1613.9 824.1h0M1616.6 822.4h0M1617.4 826.5h0M1616.1 819.5h0M1614.7 818.8h0M1617.4 819.2h0M1617.3 817.7h0M1613.9 815.3h0M1615.7 818.3h0M1620.7 813.4h0M1622.5 810.3h0M1622.1 811.6h0M1622.5 810.4h0M1619.2 816.3h0M1619.8 815.4h0M1621 810.6h0M1623.7 798.4h0M1623.5 799.1h0M1626.3 799.6h0M1626.8 799.7h0M1628.3 804.2h0M1629.5 805.2h0M1628.4 803.3h0M1623.5 806.9h0M1626.7 808.9h0M1626.6 809.1h0M1629.9 808.1h0M1631.1 807h0M1627.9 805.9h0M1627.7 805.6h0M1632.4 810.1h0M1632.6 812.9h0M1632.8 816.6h0M1633.5 820h0M1632.8 821.9h0M1635.6 804.3h0M1635.9 802.6h0M1638 803.4h0M1638.1 800.6h0M1640.4 804.8h0M1636.8 807.7h0M1639.2 810h0M1641.6 806.6h0M1640.8 803.9h0M1642.9 811.8h0M1639.2 809.6h0M1640.7 811.4h0M1642.5 813.8h0M1641.9 812.3h0M1644.9 814.4h0M1645.2 813.5h0M1646.1 816.1h0M1646.9 807.7h0M1647.5 806.3h0M1648.1 800.4h0M1648 800.2h0M1648.9 805h0M1650.1 810.9h0M1649 809.8h0M1651.3 810.2h0M1652.1 808.1h0M1652.3 812h0M1649.7 813.9h0M1650.8 818.6h0M1650.9 818.8h0M1653 812.4h0M1653.6 813.4h0M1654.2 808.3h0M1656.2 808.2h0M1656.2 809.5h0M1657.4 811.3h0M1655.9 812.9h0M1659 811.6h0M1661.4 815h0M1663.2 815.8h0M1654.6 822.4h0M1654 817.5h0M1657 822.4h0M1656.2 826.6h0M1660.2 813.4h0M1645.3 831h0M1645.3 830.4h0M1642.2 851.4h0M1663.5 823.9h0M1664.3 828.4h0M1662.6 828.5h0M1663.4 828.5h0M1666.7 821.6h0M1667.5 826.3h0M1666.7 830.3h0M1667.4 828.8h0M1670.7 827.7h0M1671.5 828.7h0M1672.3 823.4h0M1673.6 819.9h0M1672.5 821.9h0M1661 835h0M1663.9 841.4h0M1670.3 836.8h0M1670.3 843.1h0M1669.9 851.5h0M1666.7 869.8h0M1670.7 817.6h0M1671.5 811.4h0M1672.1 812.1h0M1671.9 808.2h0M1673 806.2h0M1673.2 808.3h0M1674 814.2h0M1674 810.2h0M1674.8 818.1h0M1676.4 805.3h0M1676.2 802.1h0M1677.2 809.1h0M1678 811.2h0M1678.8 812.4h0M1679.6 815.1h0M1679.8 818.4h0M1682.4 804.5h0M1683.7 810h0M1682.8 814.6h0M1684.5 807.4h0M1685.3 812.6h0M1685.8 811.1h0M1686.1 818.8h0M1685.3 822.6h0M1684.8 824.8h0M1687.7 825.1h0M1687.2 824.2h0M1688.5 819.1h0M1683.7 818.8h0M1679.2 839h0M1679.2 855.2h0M1685.3 832.8h0M1685.7 838.7h0M1691.7 811.3h0M1692.5 814.5h0M1693.9 813h0M1690.9 819.3h0M1690.1 826.2h0M1689.2 827.7h0M1695 814.8h0M1695.8 817.6h0M1694.2 824.8h0M1694.4 823.2h0M1692.5 828.5h0M1692.9 823.7h0M1695.8 828.6h0M1697.4 821.2h0M1697.2 822.1h0M1699.8 810.6h0M1699.2 808.6h0M1700.6 817h0M1698.9 817.6h0M1699 823h0M1698.4 820.3h0M1702.2 821.5h0M1702.5 822h0M1703.8 823.3h0M1700.6 825.9h0M1701.6 825.8h0M1701.4 811.1h0M1697.4 817.8h0M1697.4 815.2h0M1695 849.8h0M1703.8 831.9h0M1704.7 836.5h0M1703.8 839.9h0M1703.8 845.8h0M1706.3 825.5h0M1708.7 824.9h0M1709.1 821.2h0M1711.1 821.4h0M1713.9 822h0M1709.5 828.9h0M1709.9 827h0M1712.7 827.9h0M1713.7 827.9h0M1710.3 830.8h0M1713.9 824.7h0M1714.5 827.1h0M1715.2 824.7h0M1714.9 820h0M1707.9 828.9h0M1706.1 827h0M1711 860.3h0M1592.5 765.5h0M1593.7 788.1h0M1602.3 764h0M1605.2 765.4h0M1607.7 753.9h0M1605.3 785.4h0M1607.2 789.1h0M1607.7 797.2h0M1605.2 802.9h0M1605 811.3h0M1593.2 809.3h0M1604.5 704.7h0M1607.1 846.7h0M1611.7 835.1h0M1617.2 835.9h0M1605.4 832.8h0M1617.7 832.6h0M1619.2 824.5h0M1572.2 832h0M1587.8 822.3h0M1572.7 836.2h0M1572.8 834.9h0M1584.1 817.2h0M1577 832.5h0M1576.2 837.8h0M1576.5 836.4h0M1582.2 831.6h0M1586.2 842.5h0M1580.7 831.2h0M1582.9 819.4h0M1579.3 842.7h0M1578.1 839.2h0M1571.8 827.5h0M1574.4 831.7h0M1572 834.5h0M1572.9 831.4h0M1581.2 836.7h0M1581.4 841h0M1576 834.4h0M1579 849.2h0M1572.3 840.6h0M1582.1 832.3h0M1577.8 830.1h0M1589.2 837.8h0M1572.1 840.1h0M1578.7 833.3h0M1583.8 836.4h0M1577.2 838.9h0M1587.3 837.3h0M1583.8 824.8h0M1623.7 900.4h0M1570.8 704.7h0M1573 704.7h0M1573.6 726.3h0"/>
<path class="tk" d="M1576.5 941.5v-6.1 M1576.5 704.5v6.1M1595.5 941.5v-6.1 M1595.5 704.5v6.1M1615.5 941.5v-6.1 M1615.5 704.5v6.1M1634.5 941.5v-6.1 M1634.5 704.5v6.1M1653.5 941.5v-6.1 M1653.5 704.5v6.1M1672.5 941.5v-6.1 M1672.5 704.5v6.1M1691.5 941.5v-6.1 M1691.5 704.5v6.1M1710.5 941.5v-6.1 M1710.5 704.5v6.1M1563.5 911.9h6.1 M1721.5 911.9h-6.1M1563.5 882.3h6.1 M1721.5 882.3h-6.1M1563.5 852.7h6.1 M1721.5 852.7h-6.1M1563.5 823.1h6.1 M1721.5 823.1h-6.1M1563.5 793.5h6.1 M1721.5 793.5h-6.1M1563.5 763.9h6.1 M1721.5 763.9h-6.1M1563.5 734.3h6.1 M1721.5 734.3h-6.1"/>
<rect class="ax" x="1563.5" y="704.5" width="158" height="237"/>
<text class="cc" x="1568.9" y="730.5">#80</text>
</g>
<g>
<clipPath id="c65"><rect x="239.5" y="989.5" width="158" height="237"/></clipPath>
<path class="pt" clip-path="url(#c65)" d="M251.8 1112.3h0M247.5 1094.8h0M246.9 1096.3h0M247.7 1101.9h0M248.3 1105.7h0M264.8 1112.7h0M262.9 1111.6h0M248.2 1104.4h0M249.2 1098.1h0M252.8 1101.1h0M259 1107.6h0M257 1103.7h0M250.4 1107.9h0M263.2 1109.4h0M253.7 1104.8h0M255.1 1120.4h0M260.8 1108.8h0M251.6 1110.1h0M262.5 1115.2h0M258.7 1122.6h0M258.3 1092h0M251.1 1104.2h0M246.7 1100h0M260.9 1111.7h0M253.1 1112.5h0M263.4 1105.6h0M251 1099.3h0M263.4 1113h0M250.2 1097.5h0M250.7 1106.6h0M265 1110.2h0M257.7 1100.5h0M263.2 1115.5h0M253.3 1117.3h0M247.3 1096.6h0M247.2 1095.6h0M247.9 1097.5h0M248.7 1104.9h0M252.6 1115.8h0M265.8 1111.7h0M252.2 1109h0M248.9 1111.4h0M255.9 1105.2h0M246.8 1096.8h0M263 1114.5h0M261 1107.5h0M251.9 1110.2h0M265.7 1109.1h0M262 1111.7h0M255.6 1102.7h0M250.6 1098.3h0M254.2 1090.2h0M265 1114.3h0M250 1107.6h0M262.5 1113.3h0M261.6 1123.8h0M264 1107h0M254.8 1118.1h0M252 1094.2h0M253.2 1109.2h0M260 1120.3h0M248.7 1091.4h0M248.6 1091.4h0M258.5 1108.6h0M265.3 1113.7h0M264.5 1114.8h0M262.2 1113.7h0M257.1 1101.9h0M248.4 1106.6h0M263.9 1115.1h0M255.3 1103.8h0M246.7 1091.8h0M249.1 1101.1h0M256.4 1107.7h0M256.4 1113.9h0M251 1103.5h0M256.5 1097.6h0M254.2 1113.9h0M254.3 1104.5h0M264.7 1109.8h0M264.7 1108.2h0M248.5 1100.8h0M247.5 1102.5h0M263.7 1122h0M258.6 1120.2h0M265.3 1123.2h0M253.3 1104.6h0M262.3 1122.3h0M255.6 1110.4h0M246.7 1092.7h0M246.7 1102.6h0M255.5 1119.5h0M261.3 1111.5h0M261.1 1111.2h0M253.7 1090.7h0M250.6 1112h0M256.7 1097.7h0M253.8 1119.3h0M258.1 1106.4h0M262.8 1122.8h0M254.4 1099.3h0M248.4 1101.7h0M248 1100.1h0M251.5 1100.4h0M255.3 1100.9h0M246.7 1098.7h0M249.4 1101.1h0M248 1107.5h0M275 1115.7h0M281.8 1111.4h0M282.3 1116.6h0M275.3 1116.9h0M267.6 1113.3h0M271.9 1114.6h0M286 1114.7h0M272.5 1115.2h0M269.6 1112.5h0M272.1 1106h0M271.6 1117.1h0M273.1 1115.4h0M276.9 1115.6h0M270.6 1116.5h0M268.1 1115.4h0M267 1115.2h0M279.5 1115.3h0M283.3 1121.1h0M275 1119.8h0M288.6 1114.7h0M267 1112.3h0M286.5 1118.3h0M269.2 1116.1h0M277.6 1111.8h0M279.4 1120.2h0M281.7 1118.3h0M269.1 1116.8h0M268.4 1111.5h0M280.4 1120.4h0M277.3 1110.5h0M277.6 1114.5h0M281.2 1112h0M267.7 1110.4h0M282.8 1113.5h0M277.4 1112.2h0M277 1118.4h0M280.8 1124.1h0M269.4 1112.5h0M279.1 1106.5h0M267.4 1116.4h0M281.5 1113.2h0M277.9 1122.7h0M286.6 1114.8h0M288.5 1115.1h0M284.9 1114.9h0M276.3 1115h0M270.8 1114.8h0M269.3 1121.9h0M284.9 1115.2h0M286.4 1114.4h0M277.2 1120.1h0M266.1 1117.5h0M269.2 1115.2h0M273.3 1116.1h0M285.3 1116.3h0M287.3 1117.1h0M274.6 1122h0M289 1119.2h0M272.3 1116.1h0M268.3 1115.2h0M271.7 1118h0M277.8 1115.7h0M286.3 1112h0M280.5 1110.2h0M282.6 1123.3h0M282.8 1120.8h0M272.6 1112.3h0M287.3 1112.4h0M272.8 1113.7h0M288.5 1117.8h0M278.8 1112h0M269.8 1114.3h0M277.4 1112.8h0M286.8 1111.3h0M270.4 1116.6h0M273.9 1112.6h0M279.1 1113.2h0M283.2 1119.7h0M274.7 1114.6h0M267.4 1115.9h0M292.3 1108.5h0M294.6 1114.3h0M291.6 1111h0M295.2 1106.5h0M289.2 1121.8h0M294.8 1121.6h0M291.5 1114.1h0M294.4 1109h0M289.7 1122h0M292.4 1117.7h0M293.2 1123.2h0M292 1117.3h0M290.5 1113.9h0M293.2 1117.8h0M293.1 1115.2h0M289.7 1109.3h0M291.5 1115.1h0M296.5 1108.4h0M298.3 1105.7h0M297.9 1109h0M298.3 1107h0M295 1109.2h0M295.6 1108.9h0M296.8 1107.7h0M299.6 1093.1h0M299.3 1096.3h0M302.1 1095.7h0M302.6 1095.1h0M304.2 1098.4h0M305.4 1099.9h0M304.3 1099.4h0M299.3 1101.5h0M302.5 1106.1h0M302.4 1103.5h0M305.8 1104.3h0M306.9 1101h0M303.8 1103.5h0M303.5 1100.6h0M308.2 1104.2h0M308.4 1108.8h0M308.6 1114.6h0M309.3 1114.5h0M308.6 1118.6h0M311.4 1099h0M311.7 1098.9h0M313.9 1098.2h0M313.9 1097.2h0M316.3 1097.8h0M312.6 1101.9h0M315.1 1104h0M317.5 1102.5h0M316.6 1101.3h0M318.7 1104.5h0M315.1 1107.8h0M316.6 1109.2h0M318.3 1111.8h0M317.7 1110.6h0M320.7 1111.2h0M321.1 1109.5h0M321.9 1112.3h0M322.7 1101.1h0M323.4 1101h0M323.9 1098h0M323.8 1096.4h0M324.8 1100.4h0M326 1103.1h0M324.8 1106.3h0M327.2 1108.3h0M328 1104.7h0M328.1 1107h0M325.6 1106.8h0M326.7 1114.1h0M326.8 1114.3h0M328.8 1106.9h0M329.5 1108.2h0M330 1104.8h0M332 1102.8h0M332.1 1104.2h0M333.2 1105.2h0M331.7 1108.1h0M334.9 1108.2h0M337.3 1109.6h0M339 1108.6h0M330.4 1116.4h0M329.8 1113.4h0M332.8 1117.9h0M332 1122.3h0M336.1 1105.4h0M321.1 1128.4h0M321.1 1128.5h0M318.1 1145.6h0M339.3 1119.6h0M340.1 1123.5h0M338.5 1125.8h0M339.3 1122.6h0M342.5 1117.2h0M343.3 1123.5h0M342.5 1126.1h0M343.3 1124.7h0M346.6 1122.7h0M347.4 1127.4h0M348.2 1119.1h0M349.4 1117.5h0M348.3 1117h0M336.9 1129.2h0M339.7 1138.7h0M346.2 1133.6h0M346.2 1137.7h0M345.8 1147.3h0M342.5 1165.2h0M346.6 1114.6h0M347.4 1107.6h0M348 1106.6h0M347.8 1103.3h0M348.9 1101.5h0M349 1105.5h0M349.8 1109.1h0M349.9 1105.6h0M350.6 1111.7h0M352.2 1099.9h0M352 1098.3h0M353 1105.4h0M353.8 1106.8h0M354.6 1106.8h0M355.5 1111.9h0M355.6 1112.8h0M358.3 1100.4h0M359.5 1104.4h0M358.7 1113.3h0M360.3 1104.1h0M361.1 1107.2h0M361.6 1108.7h0M361.9 1114.6h0M361.1 1116.9h0M360.6 1119.5h0M363.5 1119.9h0M363.1 1119.8h0M364.3 1115.4h0M359.5 1117.2h0M355 1134.8h0M355 1149.4h0M361.1 1128.1h0M361.5 1133.2h0M367.6 1105.9h0M368.4 1108.9h0M369.7 1109.6h0M366.8 1115.5h0M366 1116.3h0M365 1126.1h0M370.8 1111.3h0M371.6 1114.8h0M370 1118.9h0M370.2 1118.8h0M368.4 1124.6h0M368.7 1121.8h0M371.6 1122.9h0M373.2 1120.4h0M373.1 1117.5h0M375.6 1105.1h0M375.1 1105h0M376.5 1110.7h0M374.8 1114.8h0M374.8 1116.5h0M374.3 1118.7h0M378.1 1114.6h0M378.4 1117h0M379.7 1116.8h0M376.5 1122.6h0M377.4 1121.1h0M377.3 1111.8h0M373.2 1111.6h0M373.3 1112.6h0M370.8 1144.3h0M379.7 1129.4h0M380.5 1131.8h0M379.7 1134.6h0M379.7 1141.4h0M382.1 1119.4h0M384.5 1120h0M385 1118.9h0M387 1117.8h0M389.8 1118h0M385.3 1122.8h0M385.8 1121h0M388.6 1122.2h0M389.5 1123.2h0M386.1 1127.6h0M389.8 1120.9h0M390.4 1124.6h0M391 1119.1h0M390.7 1115.7h0M383.7 1123.6h0M381.9 1124h0M386.8 1154.5h0M268.3 1069h0M269.5 1089h0M278.1 1066h0M281 1068.8h0M283.5 1054.5h0M281.1 1081.1h0M283 1088.1h0M283.5 1098.9h0M281 1102.6h0M280.8 1108.3h0M269 1105.6h0M280.3 993.7h0M282.9 1144.3h0M287.5 1132.9h0M293 1133.5h0M281.2 1131h0M293.5 1126.3h0M295 1121.2h0M249.7 1144.2h0M268.2 1144.2h0M246.8 1148.8h0M251.3 1143.3h0M247.4 1143.1h0M263.2 1142.8h0M250.6 1135.7h0M249.7 1137.7h0M263.4 1137.7h0M246.7 1147.6h0M250.5 1135.8h0M251.4 1145.7h0M262.8 1139.2h0M248.2 1143.3h0M251.6 1133.4h0M247.3 1136.6h0M260.8 1144.4h0M248.4 1141h0M260.7 1140.7h0M266.4 1139.9h0M265.6 1146.2h0M252.5 1132.8h0M248.9 1140.1h0M258 1140.1h0M258.1 1134.5h0M247.4 1141.1h0M251.9 1141.5h0M260.7 1145.4h0M258.5 1138.6h0M250.6 1134.9h0M259.5 1141.8h0M268.9 1135.1h0M299.5 1196.8h0M246.6 988.9h0M248.8 988.9h0M247 1154.7h0M254.8 1151.8h0M254.8 1156.8h0M254.8 1166.6h0M265.8 1147.3h0M247.8 1122.2h0"/>
<path class="tk" d="M252.5 1226.5v-6.1 M252.5 989.5v6.1M271.5 1226.5v-6.1 M271.5 989.5v6.1M290.5 1226.5v-6.1 M290.5 989.5v6.1M310.5 1226.5v-6.1 M310.5 989.5v6.1M329.5 1226.5v-6.1 M329.5 989.5v6.1M348.5 1226.5v-6.1 M348.5 989.5v6.1M367.5 1226.5v-6.1 M367.5 989.5v6.1M386.5 1226.5v-6.1 M386.5 989.5v6.1M239.5 1196.2h6.1 M397.5 1196.2h-6.1M239.5 1166.6h6.1 M397.5 1166.6h-6.1M239.5 1137h6.1 M397.5 1137h-6.1M239.5 1107.4h6.1 M397.5 1107.4h-6.1M239.5 1077.8h6.1 M397.5 1077.8h-6.1M239.5 1048.1h6.1 M397.5 1048.1h-6.1M239.5 1018.5h6.1 M397.5 1018.5h-6.1"/>
<rect class="ax" x="239.5" y="989.5" width="158" height="237"/>
<text class="cc" x="244.7" y="1014.7">#65</text>
<text class="tl" text-anchor="end" x="232.2" y="1231.8">23.8</text>
<text class="tl" text-anchor="end" x="232.2" y="1202.2">23.9</text>
<text class="tl" text-anchor="end" x="232.2" y="1172.6">24.0</text>
<text class="tl" text-anchor="end" x="232.2" y="1143">24.1</text>
<text class="tl" text-anchor="end" x="232.2" y="1113.4">24.2</text>
<text class="tl" text-anchor="end" x="232.2" y="1083.8">24.3</text>
<text class="tl" text-anchor="end" x="232.2" y="1054.1">24.4</text>
<text class="tl" text-anchor="end" x="232.2" y="1024.5">24.5</text>
<text class="tl" text-anchor="end" x="232.2" y="994.9">24.6</text>
<text class="xl" text-anchor="end" transform="translate(257 1232) rotate(-90)">Oct 2011</text>
<text class="xl" text-anchor="end" transform="translate(274.1 1232) rotate(-90)">Apr 2012</text>
<text class="xl" text-anchor="end" transform="translate(295.5 1232) rotate(-90)">Oct 2012</text>
<text class="xl" text-anchor="end" transform="translate(312.5 1232) rotate(-90)">Apr 2013</text>
<text class="xl" text-anchor="end" transform="translate(333.8 1232) rotate(-90)">Oct 2013</text>
<text class="xl" text-anchor="end" transform="translate(350.8 1232) rotate(-90)">Apr 2014</text>
<text class="xl" text-anchor="end" transform="translate(372.2 1232) rotate(-90)">Oct 2014</text>
<text class="xl" text-anchor="end" transform="translate(389.2 1232) rotate(-90)">Apr 2015</text>
</g>
<g>
<clipPath id="c66"><rect x="428.5" y="989.5" width="158" height="237"/></clipPath>
<path class="pt" clip-path="url(#c66)" d="M441 1143.7h0M436.6 1127.5h0M436.1 1130.4h0M436.9 1133.1h0M437.4 1140h0M454 1144.4h0M452 1142.8h0M437.3 1136.9h0M438.4 1130.2h0M441.9 1132.1h0M448.2 1141.1h0M446.2 1135.7h0M439.5 1143h0M452.4 1141.8h0M442.8 1138.2h0M444.2 1151.8h0M450 1139.7h0M440.8 1139.9h0M451.6 1146.7h0M447.8 1155.9h0M447.5 1122.5h0M440.3 1137.2h0M435.9 1130.6h0M450.1 1140.4h0M442.3 1144.9h0M452.6 1136.1h0M440.1 1130.8h0M452.6 1142.3h0M439.3 1128.3h0M439.9 1139.6h0M454.1 1141.4h0M446.9 1132.1h0M452.4 1151.4h0M442.4 1146.2h0M436.5 1129.6h0M436.3 1128.4h0M437.1 1128.1h0M437.8 1138.4h0M441.8 1146.2h0M455 1144.5h0M441.4 1142.1h0M438.1 1144.3h0M445 1135.4h0M436 1130.2h0M452.1 1145.7h0M450.1 1141.3h0M441.1 1143.5h0M454.8 1139.2h0M451.2 1141.2h0M444.8 1133.6h0M439.8 1127.3h0M443.4 1121.3h0M454.2 1145.1h0M439.2 1143.6h0M451.6 1143.9h0M450.7 1154.7h0M453.2 1138.9h0M444 1146.5h0M441.2 1127h0M442.4 1137.2h0M449.1 1150h0M437.9 1125h0M437.8 1124.8h0M447.7 1139.8h0M454.5 1147.9h0M453.7 1148.9h0M451.3 1146.1h0M446.2 1135.5h0M437.6 1137.6h0M453 1144.3h0M444.5 1134.6h0M435.9 1122h0M438.2 1133.2h0M445.6 1138.7h0M445.6 1144.7h0M440.1 1134.9h0M445.7 1130.3h0M443.3 1146.7h0M443.5 1136.4h0M453.9 1143.5h0M453.9 1136.3h0M437.7 1132.8h0M436.6 1136.5h0M452.9 1152.1h0M447.8 1149.4h0M454.4 1152.4h0M442.4 1137.2h0M451.5 1150.4h0M444.8 1141.6h0M435.9 1124.7h0M435.9 1133.8h0M444.7 1152.9h0M450.5 1143.1h0M450.3 1141.7h0M442.9 1122.6h0M439.8 1142.4h0M445.9 1130.1h0M443 1149.8h0M447.2 1137.9h0M452 1154.6h0M443.5 1131.7h0M437.5 1133.6h0M437.2 1132.1h0M440.6 1128.1h0M444.5 1133h0M435.8 1132.8h0M438.5 1133.9h0M437.1 1141.2h0M464.2 1146.4h0M471 1144.7h0M471.4 1147.2h0M464.5 1149.3h0M456.8 1144.7h0M461 1147h0M475.2 1147h0M461.7 1146.8h0M458.8 1144.6h0M461.2 1141.1h0M460.8 1149.7h0M462.3 1147.1h0M466.1 1146.4h0M459.8 1145.6h0M457.2 1147.1h0M456.1 1145.6h0M468.6 1146.3h0M472.4 1149.1h0M464.1 1152.7h0M477.8 1145.3h0M456.2 1142.9h0M475.7 1151h0M458.4 1148.9h0M466.8 1145.1h0M468.6 1149.2h0M470.9 1146.6h0M458.2 1147.7h0M457.6 1148.1h0M469.6 1150.3h0M466.4 1141h0M466.7 1145.8h0M470.3 1144.4h0M456.9 1144.5h0M471.9 1147h0M466.5 1142.3h0M466.2 1148.4h0M469.9 1153.9h0M458.6 1146.1h0M468.2 1138.3h0M456.6 1145.7h0M470.7 1142h0M467 1152.9h0M475.7 1147.7h0M477.7 1145.7h0M474 1146.5h0M465.5 1146.4h0M460 1144.6h0M458.4 1151.8h0M474 1147.6h0M475.6 1149.3h0M466.3 1150.7h0M455.2 1149.4h0M458.4 1148h0M462.4 1146h0M474.5 1148.4h0M476.5 1147h0M463.7 1153.5h0M478.1 1148.5h0M461.5 1147.4h0M457.5 1143.8h0M460.9 1147.4h0M466.9 1145.9h0M475.5 1143.5h0M469.7 1143h0M471.7 1154h0M472 1150.1h0M461.7 1143.6h0M476.5 1144.6h0M462 1142.7h0M477.6 1146.6h0M468 1143.5h0M459 1143h0M466.6 1145.9h0M476 1145.1h0M459.6 1147.2h0M463 1144.9h0M468.3 1145.1h0M472.4 1149.4h0M463.8 1145.4h0M456.6 1145.8h0M481.4 1139.5h0M483.8 1146.7h0M480.8 1144.8h0M484.4 1143.9h0M478.4 1154.7h0M484 1151.8h0M480.7 1146.7h0M483.5 1141.4h0M478.9 1151.7h0M481.6 1147.2h0M482.4 1154.5h0M481.1 1149.1h0M479.7 1147.4h0M482.4 1146.9h0M482.3 1144.7h0M478.9 1143.4h0M480.7 1145.6h0M485.7 1139.2h0M487.5 1136.6h0M487.1 1140.2h0M487.5 1137.5h0M484.2 1141.4h0M484.8 1141.1h0M486 1138.3h0M488.7 1123.9h0M488.5 1127.2h0M491.3 1127.1h0M491.8 1125.7h0M493.3 1128.8h0M494.5 1131.7h0M493.4 1129.8h0M488.5 1135.1h0M491.7 1137.4h0M491.6 1137.3h0M494.9 1136.5h0M496.1 1131.9h0M492.9 1134h0M492.7 1134.7h0M497.4 1134.7h0M497.6 1139.3h0M497.8 1143.2h0M498.5 1146.2h0M497.8 1147.6h0M500.6 1130.1h0M500.9 1131.5h0M503 1131.5h0M503.1 1127.3h0M505.4 1129.2h0M501.8 1133h0M504.2 1133.5h0M506.7 1132.7h0M505.8 1130.8h0M507.9 1135.1h0M504.2 1137.6h0M505.7 1139.8h0M507.5 1138.4h0M506.9 1141.2h0M509.9 1138.5h0M510.3 1141.9h0M511.1 1143.2h0M511.9 1132.3h0M512.5 1131.5h0M513.1 1131.3h0M513 1127.8h0M513.9 1134h0M515.1 1134.1h0M514 1138.8h0M516.3 1138.1h0M517.2 1135.1h0M517.3 1139.5h0M514.7 1141.7h0M515.9 1144.8h0M515.9 1144.2h0M518 1139.7h0M518.6 1138.2h0M519.2 1134.8h0M521.2 1133.4h0M521.2 1136.1h0M522.4 1140.1h0M520.9 1139.3h0M524 1139.6h0M526.4 1142.6h0M528.2 1141.4h0M519.6 1148.1h0M519 1144.4h0M522 1148.6h0M521.2 1151.8h0M525.2 1138.3h0M510.3 1158.1h0M510.3 1159.1h0M507.2 1178.1h0M528.5 1152.1h0M529.3 1154.9h0M527.7 1153.5h0M528.4 1154.5h0M531.7 1146.1h0M532.5 1152.3h0M531.7 1154.6h0M532.4 1154.8h0M535.7 1156.8h0M536.5 1160.6h0M537.3 1147.8h0M538.6 1147.8h0M537.5 1148.6h0M526 1160.2h0M528.9 1168.4h0M535.3 1166.3h0M535.3 1170.8h0M534.9 1178h0M531.7 1196.2h0M535.7 1141.8h0M536.5 1140h0M537.1 1137.4h0M536.9 1133h0M538 1133.7h0M538.2 1134.5h0M539 1141.9h0M539 1135.9h0M539.8 1145h0M541.4 1131h0M541.2 1130.4h0M542.2 1133.8h0M543 1140.3h0M543.8 1139.2h0M544.6 1139.7h0M544.8 1143.9h0M547.4 1131.1h0M548.7 1134.6h0M547.8 1145.8h0M549.5 1134.6h0M550.3 1137.9h0M550.8 1139.9h0M551.1 1146.1h0M550.3 1150.1h0M549.8 1149.8h0M552.7 1151.7h0M552.2 1152.7h0M553.5 1145.3h0M548.7 1146.4h0M544.2 1165.3h0M544.2 1181.3h0M550.3 1159.1h0M550.7 1165.2h0M556.7 1139h0M557.5 1141.3h0M558.9 1141h0M555.9 1147h0M555.1 1153.1h0M554.2 1154.5h0M560 1140.9h0M560.8 1147h0M559.2 1150.4h0M559.4 1150.6h0M557.5 1158.1h0M557.9 1153.2h0M560.8 1153h0M562.4 1148.4h0M562.2 1146.3h0M564.8 1135.7h0M564.2 1136.3h0M565.6 1143.7h0M564 1146.9h0M564 1146.7h0M563.4 1147.7h0M567.2 1146.8h0M567.5 1148.4h0M568.8 1149.4h0M565.6 1155.1h0M566.6 1151.9h0M566.4 1139.1h0M562.4 1142.4h0M562.4 1145.1h0M560 1175.7h0M568.8 1160.2h0M569.7 1163.1h0M568.8 1169.7h0M568.8 1172.6h0M571.3 1150.9h0M573.7 1151.4h0M574.1 1149.3h0M576.1 1149.3h0M578.9 1148.8h0M574.5 1153.7h0M574.9 1152.5h0M577.7 1152.5h0M578.7 1152.8h0M575.3 1157.3h0M578.9 1153.4h0M579.5 1155.5h0M580.2 1151.9h0M579.9 1147.6h0M572.9 1154.8h0M571.1 1154.4h0M576 1187.5h0M457.5 1095.8h0M458.7 1116.7h0M467.3 1098h0M470.2 1098.7h0M472.7 1083h0M470.3 1113.2h0M472.2 1115.7h0M472.7 1122.9h0M470.2 1132.8h0M470 1136.3h0M458.2 1137.5h0M469.5 1025.1h0M472.1 1176.4h0M476.7 1165.2h0M482.2 1165.2h0M470.4 1159.7h0M482.7 1156.1h0M484.2 1152.9h0M451.7 1151h0M446.6 1153.5h0M455.6 1166h0M453.5 1165.4h0M438.6 1155.7h0M454.8 1158.1h0M437.5 1167.8h0M437.1 1154.7h0M442.7 1161.4h0M451.1 1141.7h0M451.4 1147.5h0M440 1161.4h0M437.5 1159.1h0M441.3 1148.4h0M446.7 1161.6h0M456.1 1153h0M445.8 1167.8h0M452.1 1151.6h0M451 1151.5h0M445.3 1148.5h0M443.8 1159.4h0M453.8 1160.5h0M455 1166.4h0M440 1155.6h0M456.2 1161.5h0M455.8 1151h0M488.7 1224.9h0M436.2 988.9h0M435.7 1160.7h0M435.7 1175.5h0M445.6 1170.1h0M449.4 1173.1h0M455.4 1171.9h0M459.7 1170.1h0M450.1 1174.9h0M454.9 1179.9h0M437 1000.8h0M438.9 1225.8h0"/>
<path class="tk" d="M441.5 1226.5v-6.1 M441.5 989.5v6.1M460.5 1226.5v-6.1 M460.5 989.5v6.1M480.5 1226.5v-6.1 M480.5 989.5v6.1M499.5 1226.5v-6.1 M499.5 989.5v6.1M518.5 1226.5v-6.1 M518.5 989.5v6.1M537.5 1226.5v-6.1 M537.5 989.5v6.1M556.5 1226.5v-6.1 M556.5 989.5v6.1M575.5 1226.5v-6.1 M575.5 989.5v6.1M428.5 1196.2h6.1 M586.5 1196.2h-6.1M428.5 1166.6h6.1 M586.5 1166.6h-6.1M428.5 1137h6.1 M586.5 1137h-6.1M428.5 1107.4h6.1 M586.5 1107.4h-6.1M428.5 1077.8h6.1 M586.5 1077.8h-6.1M428.5 1048.1h6.1 M586.5 1048.1h-6.1M428.5 1018.5h6.1 M586.5 1018.5h-6.1"/>
<rect class="ax" x="428.5" y="989.5" width="158" height="237"/>
<text class="cc" x="433.9" y="1014.7">#66</text>
<text class="xl" text-anchor="end" transform="translate(446.2 1232) rotate(-90)">Oct 2011</text>
<text class="xl" text-anchor="end" transform="translate(463.3 1232) rotate(-90)">Apr 2012</text>
<text class="xl" text-anchor="end" transform="translate(484.6 1232) rotate(-90)">Oct 2012</text>
<text class="xl" text-anchor="end" transform="translate(501.7 1232) rotate(-90)">Apr 2013</text>
<text class="xl" text-anchor="end" transform="translate(523 1232) rotate(-90)">Oct 2013</text>
<text class="xl" text-anchor="end" transform="translate(540 1232) rotate(-90)">Apr 2014</text>
<text class="xl" text-anchor="end" transform="translate(561.3 1232) rotate(-90)">Oct 2014</text>
<text class="xl" text-anchor="end" transform="translate(578.4 1232) rotate(-90)">Apr 2015</text>
</g>
<g>
<clipPath id="c67"><rect x="618.5" y="989.5" width="157" height="237"/></clipPath>
<path class="pt" clip-path="url(#c67)" d="M630.2 1117.3h0M625.8 1100.9h0M625.3 1103.6h0M626.1 1107.3h0M626.6 1115.1h0M643.2 1117h0M641.2 1117.4h0M626.5 1111.3h0M627.6 1106.5h0M631.1 1105.7h0M637.4 1114.3h0M635.4 1111.3h0M628.7 1118.1h0M641.6 1117h0M632 1110.8h0M633.4 1127.5h0M639.2 1115.5h0M630 1116.5h0M640.8 1119h0M637 1127.4h0M636.7 1099.4h0M629.4 1114.4h0M625.1 1105.9h0M639.2 1116.2h0M631.5 1117.8h0M641.7 1111.6h0M629.3 1105.6h0M641.8 1115.3h0M628.5 1104.1h0M629 1112.8h0M643.3 1117h0M636 1104.8h0M641.5 1121.9h0M631.6 1120.8h0M625.6 1104.9h0M625.5 1101.4h0M626.2 1102.4h0M627 1112.5h0M630.9 1123.6h0M644.2 1117.3h0M630.5 1116h0M627.2 1118.9h0M634.2 1111.2h0M625.1 1106h0M641.3 1119.3h0M639.3 1114.2h0M630.3 1118h0M644 1112.7h0M640.3 1114.4h0M634 1107.3h0M629 1103.2h0M632.6 1095.4h0M643.3 1121h0M628.4 1115.9h0M640.8 1119.4h0M639.9 1127.2h0M642.3 1115.2h0M633.2 1122.9h0M630.3 1102h0M631.5 1113.8h0M638.3 1124.4h0M627.1 1097.6h0M627 1096.5h0M636.9 1112.5h0M643.7 1119.5h0M642.9 1120.7h0M640.5 1117.4h0M635.4 1108.8h0M626.7 1112.8h0M642.2 1122.1h0M633.7 1111.4h0M625 1098.6h0M627.4 1108.4h0M634.8 1112.5h0M634.7 1119.6h0M629.3 1110.1h0M634.9 1104h0M632.5 1122h0M632.7 1111.4h0M643 1111.7h0M643 1112.9h0M626.8 1110.7h0M625.8 1112h0M642 1125.6h0M636.9 1124.1h0M643.6 1126.9h0M631.6 1111.5h0M640.6 1124.5h0M633.9 1116.6h0M625 1101.6h0M625 1108.4h0M633.9 1127.2h0M639.7 1117.4h0M639.5 1115.6h0M632.1 1096.8h0M628.9 1119.3h0M635.1 1103.5h0M632.1 1124.7h0M636.4 1110.8h0M641.1 1129.2h0M632.7 1108.9h0M626.7 1109.4h0M626.4 1105.4h0M629.8 1104.4h0M633.6 1107.3h0M625 1107.1h0M627.7 1108.1h0M626.3 1117.3h0M653.4 1121.3h0M660.1 1118.4h0M660.6 1123.7h0M653.6 1118.7h0M646 1119.7h0M650.2 1121.2h0M664.4 1120.6h0M650.8 1120.6h0M648 1118.6h0M650.4 1115.2h0M650 1121.5h0M651.5 1119.5h0M655.2 1119.5h0M649 1120.9h0M646.4 1121.1h0M645.3 1118.2h0M657.8 1121.6h0M661.6 1123.5h0M653.3 1124.6h0M667 1117.3h0M645.3 1115.7h0M664.8 1122.2h0M647.5 1122.2h0M655.9 1119.6h0M657.8 1123.3h0M660 1122.2h0M647.4 1121.8h0M646.7 1118.9h0M658.7 1123.9h0M655.6 1113.9h0M655.9 1120.2h0M659.5 1116.8h0M646 1117.5h0M661.1 1119.8h0M655.7 1117.2h0M655.3 1124.8h0M659.1 1126.6h0M647.7 1121h0M657.4 1112.1h0M645.7 1121.2h0M659.9 1116.6h0M656.2 1125.5h0M664.9 1119.4h0M666.8 1122.3h0M663.2 1121.5h0M654.7 1118.6h0M649.2 1117.6h0M647.6 1126.6h0M663.2 1123.5h0M664.7 1122.3h0M655.5 1123.8h0M644.4 1124.9h0M647.6 1121.1h0M651.6 1118.5h0M663.6 1120.6h0M665.6 1122.5h0M652.9 1126.3h0M667.3 1123.5h0M650.7 1123.3h0M646.7 1118.1h0M650.1 1123.6h0M656.1 1119.2h0M664.7 1118.6h0M658.8 1116.6h0M660.9 1126.3h0M661.2 1124.7h0M650.9 1117.9h0M665.6 1119.8h0M651.2 1117.7h0M666.8 1120.6h0M657.2 1115.5h0M648.2 1119h0M655.8 1120h0M665.2 1117.3h0M648.8 1121.6h0M652.2 1120.2h0M657.4 1117.7h0M661.6 1124.6h0M653 1121.6h0M645.8 1122.5h0M670.6 1114.4h0M672.9 1119h0M669.9 1120.5h0M673.5 1117.1h0M667.5 1125.9h0M673.2 1124.5h0M669.9 1123.2h0M672.7 1115.9h0M668 1125.2h0M670.7 1123.5h0M671.5 1126.4h0M670.3 1122.1h0M668.8 1121.5h0M671.5 1121.6h0M671.5 1120.9h0M668.1 1116.5h0M669.9 1121.3h0M674.8 1114.3h0M676.6 1111.2h0M676.3 1111.1h0M676.6 1109.5h0M673.4 1113.9h0M673.9 1114.8h0M675.2 1110.8h0M677.9 1099.1h0M677.7 1100.6h0M680.5 1099.6h0M681 1098.9h0M682.5 1102.5h0M683.7 1106.4h0M682.6 1104.9h0M677.6 1110.1h0M680.9 1111.6h0M680.8 1110.8h0M684.1 1108.5h0M685.3 1105.4h0M682.1 1106.7h0M681.8 1106.8h0M686.5 1110.5h0M686.8 1113.8h0M686.9 1116.6h0M687.6 1118.8h0M686.9 1118.7h0M689.8 1104.7h0M690.1 1103.4h0M692.2 1105.2h0M692.3 1102h0M694.6 1104h0M691 1109.7h0M693.4 1109.9h0M695.8 1109.2h0M695 1105.1h0M697 1109.5h0M693.4 1111.4h0M694.9 1114.1h0M696.6 1116.6h0M696 1113.9h0M699 1114.7h0M699.4 1116.2h0M700.3 1117.9h0M701.1 1109.1h0M701.7 1106.5h0M702.3 1104.4h0M702.2 1102h0M703.1 1104.9h0M704.3 1110.4h0M703.1 1112.5h0M705.5 1111.2h0M706.3 1107.6h0M706.4 1111.5h0M703.9 1116.8h0M705 1118.2h0M705.1 1119.7h0M707.1 1114.4h0M707.8 1112.5h0M708.3 1109.7h0M710.4 1107.6h0M710.4 1111.1h0M711.6 1112.4h0M710.1 1113.3h0M713.2 1113.5h0M715.6 1116.7h0M717.4 1115.2h0M708.7 1121.2h0M708.1 1118.6h0M711.2 1122.6h0M710.4 1125.9h0M714.4 1112.8h0M699.5 1132.9h0M699.5 1131.5h0M696.4 1150.1h0M717.6 1126h0M718.4 1129.5h0M716.8 1128.3h0M717.6 1127.3h0M720.9 1123.1h0M721.7 1125.4h0M720.9 1129.6h0M721.6 1128h0M724.9 1128.3h0M725.7 1131.3h0M726.5 1121.4h0M727.7 1125.1h0M726.6 1122.8h0M715.2 1135.3h0M718 1142.9h0M724.5 1138.7h0M724.5 1144.2h0M724.1 1150.1h0M720.9 1168.4h0M724.9 1117.3h0M725.7 1115.5h0M726.3 1111.7h0M726.1 1107.5h0M727.2 1107.4h0M727.3 1110.8h0M728.1 1115.2h0M728.2 1109.6h0M728.9 1117.3h0M730.6 1104.9h0M730.4 1102.7h0M731.4 1108.9h0M732.2 1111.1h0M733 1109.9h0M733.8 1115.2h0M733.9 1118h0M736.6 1104.6h0M737.8 1110.8h0M737 1116.5h0M738.6 1108.6h0M739.4 1114.5h0M739.9 1111.5h0M740.2 1118.2h0M739.4 1122.6h0M738.9 1123.2h0M741.9 1126.5h0M741.4 1125.9h0M742.7 1121.3h0M737.8 1120.6h0M733.4 1139h0M733.4 1156.2h0M739.4 1134.1h0M739.8 1137.9h0M745.9 1109.5h0M746.7 1115.3h0M748 1112.5h0M745.1 1122.1h0M744.3 1125.8h0M743.3 1129.1h0M749.1 1112.7h0M749.9 1118.6h0M748.3 1125h0M748.5 1123.5h0M746.7 1129.8h0M747 1125.3h0M749.9 1128.1h0M751.6 1123.2h0M751.4 1122.9h0M754 1109.7h0M753.4 1111h0M754.8 1118.3h0M753.1 1120.6h0M753.2 1120.7h0M752.6 1121.8h0M756.4 1124.2h0M756.7 1122h0M758 1124.7h0M754.8 1126.5h0M755.7 1126.5h0M755.6 1116.2h0M751.6 1118.7h0M751.6 1116.6h0M749.1 1150.9h0M758 1134.5h0M758.8 1138.4h0M758 1139.4h0M758 1145.5h0M760.4 1125.6h0M762.9 1124.2h0M763.3 1122.3h0M765.3 1123.4h0M768.1 1122.1h0M763.7 1128.2h0M764.1 1125.6h0M766.9 1127.5h0M767.8 1128.3h0M764.5 1131.9h0M768.1 1126.3h0M768.7 1128.6h0M769.3 1123.3h0M769.1 1119.2h0M762.1 1130h0M760.3 1128.5h0M765.1 1161.8h0M646.6 1069.4h0M647.8 1091.2h0M656.4 1067.5h0M659.3 1071.8h0M661.8 1058.2h0M659.4 1084.4h0M661.3 1090.9h0M661.8 1102.8h0M659.3 1104.9h0M659.1 1110.3h0M647.3 1110.2h0M658.6 994.1h0M661.2 1150.7h0M665.8 1138.3h0M671.3 1136.4h0M659.5 1132.7h0M671.8 1131.4h0M673.3 1123.2h0M632.7 1137.8h0M630.9 1146.7h0M628 1145.6h0M626.6 1147.1h0M631 1146.1h0M628.5 1143.5h0M643.7 1144.1h0M639.8 1143.1h0M638 1141.7h0M632.6 1143.7h0M677.8 1201.8h0M624.9 988.9h0M627.1 988.9h0M631.1 1084.6h0M628.3 1091.4h0M624.7 1128.1h0"/>
<path class="tk" d="M630.5 1226.5v-6.1 M630.5 989.5v6.1M650.5 1226.5v-6.1 M650.5 989.5v6.1M669.5 1226.5v-6.1 M669.5 989.5v6.1M688.5 1226.5v-6.1 M688.5 989.5v6.1M707.5 1226.5v-6.1 M707.5 989.5v6.1M726.5 1226.5v-6.1 M726.5 989.5v6.1M746.5 1226.5v-6.1 M746.5 989.5v6.1M765.5 1226.5v-6.1 M765.5 989.5v6.1M618.5 1196.2h6.1 M775.5 1196.2h-6.1M618.5 1166.6h6.1 M775.5 1166.6h-6.1M618.5 1137h6.1 M775.5 1137h-6.1M618.5 1107.4h6.1 M775.5 1107.4h-6.1M618.5 1077.8h6.1 M775.5 1077.8h-6.1M618.5 1048.1h6.1 M775.5 1048.1h-6.1M618.5 1018.5h6.1 M775.5 1018.5h-6.1"/>
<rect class="ax" x="618.5" y="989.5" width="157" height="237"/>
<text class="cc" x="623" y="1014.7">#67</text>
<text class="xl" text-anchor="end" transform="translate(635.3 1232) rotate(-90)">Oct 2011</text>
<text class="xl" text-anchor="end" transform="translate(652.5 1232) rotate(-90)">Apr 2012</text>
<text class="xl" text-anchor="end" transform="translate(673.8 1232) rotate(-90)">Oct 2012</text>
<text class="xl" text-anchor="end" transform="translate(690.8 1232) rotate(-90)">Apr 2013</text>
<text class="xl" text-anchor="end" transform="translate(712.2 1232) rotate(-90)">Oct 2013</text>
<text class="xl" text-anchor="end" transform="translate(729.2 1232) rotate(-90)">Apr 2014</text>
<text class="xl" text-anchor="end" transform="translate(750.5 1232) rotate(-90)">Oct 2014</text>
<text class="xl" text-anchor="end" transform="translate(767.5 1232) rotate(-90)">Apr 2015</text>
</g>
<g>
<clipPath id="c68"><rect x="807.5" y="989.5" width="157" height="237"/></clipPath>
<path class="pt" clip-path="url(#c68)" d="M819.3 1120.9h0M815 1096.5h0M814.4 1101.4h0M815.2 1105.5h0M815.8 1112.3h0M832.3 1125.5h0M830.4 1121.5h0M815.7 1106h0M816.7 1104.7h0M820.3 1102.7h0M826.5 1117.4h0M824.5 1111.5h0M817.9 1115.2h0M830.7 1119.8h0M821.2 1108.7h0M822.6 1130.8h0M828.3 1119h0M819.1 1113.1h0M830 1124.1h0M826.2 1130.4h0M825.8 1103.5h0M818.6 1110.6h0M814.2 1102.5h0M828.4 1118.7h0M820.6 1121h0M830.9 1117.4h0M818.5 1104.7h0M830.9 1120.9h0M817.7 1100.6h0M818.2 1111.8h0M832.4 1120.7h0M825.2 1108.7h0M830.7 1129.2h0M820.8 1124.4h0M814.8 1101.1h0M814.7 1100.1h0M815.4 1099h0M816.2 1109.3h0M820.1 1124.4h0M833.3 1126.2h0M819.7 1114.9h0M816.4 1120.1h0M823.4 1115.9h0M814.3 1102.4h0M830.5 1126.2h0M828.5 1119.5h0M819.4 1117.7h0M833.2 1117.5h0M829.5 1119.3h0M823.1 1109.3h0M818.1 1101.2h0M821.7 1095.5h0M832.5 1123.4h0M817.5 1113.7h0M830 1121.6h0M829.1 1132.4h0M831.5 1116.8h0M822.3 1125.4h0M819.5 1096.6h0M820.7 1113.8h0M827.5 1130.3h0M816.2 1092.8h0M816.1 1094.8h0M826 1118.1h0M832.8 1124.8h0M832 1125.3h0M829.7 1121.8h0M824.6 1111.1h0M815.9 1111.3h0M831.4 1124.6h0M822.8 1110.9h0M814.2 1092.9h0M816.6 1104.2h0M823.9 1114.4h0M823.9 1122.6h0M818.5 1107.5h0M824 1107.5h0M821.6 1123h0M821.8 1114.1h0M832.2 1123.1h0M832.2 1115.4h0M816 1106.6h0M815 1106.2h0M831.2 1130.2h0M826.1 1128.8h0M832.8 1130.8h0M820.8 1110.8h0M829.8 1130.3h0M823.1 1118h0M814.2 1095.5h0M814.2 1104.8h0M823 1130.5h0M828.8 1121.6h0M828.6 1118.9h0M821.2 1096.2h0M818.1 1117.8h0M824.2 1107.6h0M821.3 1124.7h0M825.6 1112h0M830.3 1133.3h0M821.9 1104.6h0M815.9 1106.6h0M815.5 1103.7h0M819 1101.8h0M822.8 1109.6h0M814.2 1103.2h0M816.9 1104.1h0M815.5 1112.1h0M842.5 1124.9h0M849.3 1122.6h0M849.8 1125.8h0M842.8 1128.3h0M835.1 1124h0M839.4 1124.4h0M853.5 1121.5h0M840 1127.1h0M837.1 1122.4h0M839.6 1119.7h0M839.1 1125.6h0M840.6 1124.6h0M844.4 1124.6h0M838.1 1124h0M835.6 1125.3h0M834.5 1121.5h0M847 1125.3h0M850.8 1127.4h0M842.5 1129.1h0M856.1 1121.1h0M834.5 1120.7h0M854 1129.9h0M836.7 1130.5h0M845.1 1122.3h0M846.9 1129.4h0M849.2 1126.4h0M836.6 1126.9h0M835.9 1121.5h0M847.9 1127.5h0M844.8 1120.3h0M845.1 1126.5h0M848.7 1123.5h0M835.2 1127.3h0M850.3 1124.7h0M844.9 1121.9h0M844.5 1126.2h0M848.3 1132.1h0M836.9 1126.2h0M846.6 1117.5h0M834.9 1126.2h0M849 1121.3h0M845.4 1131.9h0M854.1 1122.9h0M856 1127.5h0M852.4 1128.1h0M843.8 1125h0M838.3 1124.5h0M836.8 1132.1h0M852.4 1125.3h0M853.9 1127.8h0M844.7 1130.9h0M833.6 1127h0M836.7 1125.8h0M840.8 1125.3h0M852.8 1124h0M854.8 1126.7h0M842.1 1129.7h0M856.5 1126.6h0M839.8 1126.1h0M835.8 1123.9h0M839.2 1126.5h0M845.3 1124.8h0M853.8 1121.9h0M848 1121.5h0M850 1129.4h0M850.3 1132.3h0M840.1 1121.1h0M854.8 1123.9h0M840.3 1124.8h0M856 1126.5h0M846.3 1123.9h0M837.3 1123.1h0M844.9 1124h0M854.3 1122.1h0M837.9 1125h0M841.4 1124.7h0M846.6 1126.2h0M850.7 1128.3h0M842.2 1123.7h0M834.9 1127.1h0M859.8 1120.8h0M862.1 1124.7h0M859.1 1124.4h0M862.7 1121.1h0M856.7 1130.3h0M862.3 1131.4h0M859 1125.9h0M861.9 1120h0M857.2 1132.5h0M859.9 1128.5h0M860.7 1127.9h0M859.5 1126.9h0M858 1127h0M860.7 1126.2h0M860.6 1122.7h0M857.2 1123.5h0M859 1124.2h0M864 1118.6h0M865.8 1115.8h0M865.4 1118.1h0M865.8 1115.1h0M862.5 1119.9h0M863.1 1121h0M864.3 1115.9h0M867.1 1102.5h0M866.8 1105.2h0M869.6 1104.4h0M870.1 1104.9h0M871.7 1107h0M872.9 1109.8h0M871.8 1110.5h0M866.8 1111.5h0M870 1114.1h0M869.9 1113.1h0M873.3 1115.2h0M874.4 1110.2h0M871.3 1112.1h0M871 1111.5h0M875.7 1115.9h0M875.9 1117.6h0M876.1 1121.9h0M876.8 1124.1h0M876.1 1128.7h0M878.9 1108.2h0M879.2 1106.9h0M881.3 1108.1h0M881.4 1105h0M883.8 1107.4h0M880.1 1113.5h0M882.6 1114.3h0M885 1112.3h0M884.1 1111.7h0M886.2 1115.7h0M882.6 1116.7h0M884.1 1116.8h0M885.8 1117.7h0M885.2 1120.3h0M888.2 1119.6h0M888.6 1118.8h0M889.4 1122.3h0M890.2 1112.6h0M890.9 1111.8h0M891.4 1109.3h0M891.3 1105.9h0M892.3 1110.9h0M893.5 1113.7h0M892.3 1115.4h0M894.7 1116.4h0M895.5 1115.2h0M895.6 1115.1h0M893.1 1119.1h0M894.2 1124.4h0M894.3 1125.9h0M896.3 1118.2h0M897 1118.7h0M897.5 1115.8h0M899.5 1112.5h0M899.6 1114.9h0M900.7 1117.9h0M899.2 1117.9h0M902.4 1119.5h0M904.8 1118.4h0M906.5 1119.9h0M897.9 1127.7h0M897.3 1124.2h0M900.3 1124.9h0M899.5 1131.7h0M903.6 1116.7h0M888.6 1137.5h0M888.6 1137.1h0M885.5 1154.9h0M906.8 1129.7h0M907.6 1133.5h0M906 1134.5h0M906.8 1133.6h0M910 1127.7h0M910.8 1130.9h0M910 1136.2h0M910.8 1133.7h0M914.1 1132.2h0M914.9 1137.1h0M915.7 1127.4h0M916.9 1128.1h0M915.8 1127.9h0M904.4 1140.3h0M907.2 1146.7h0M913.7 1143.4h0M913.7 1148h0M913.3 1155.7h0M910 1171h0M914.1 1122.6h0M914.9 1117.7h0M915.5 1114.9h0M915.3 1113.4h0M916.4 1112.7h0M916.5 1115.5h0M917.3 1118.1h0M917.4 1115.8h0M918.1 1121.4h0M919.7 1110.1h0M919.5 1106.1h0M920.5 1112.8h0M921.3 1117.6h0M922.1 1116.5h0M922.9 1120.1h0M923.1 1122.6h0M925.8 1111.4h0M927 1114.8h0M926.2 1121.1h0M927.8 1112.6h0M928.6 1119.5h0M929.1 1117h0M929.4 1122.6h0M928.6 1128h0M928.1 1129.1h0M931 1132.4h0M930.6 1131.9h0M931.8 1126h0M927 1125.4h0M922.5 1143.2h0M922.5 1158.9h0M928.6 1138.8h0M929 1142.9h0M935.1 1114.8h0M935.9 1121.4h0M937.2 1118.8h0M934.3 1125h0M933.4 1130.2h0M932.5 1135.3h0M938.3 1119.2h0M939.1 1123.7h0M937.5 1128.7h0M937.7 1128.7h0M935.9 1133h0M936.2 1130.8h0M939.1 1134h0M940.7 1129.9h0M940.6 1126h0M943.1 1115.4h0M942.6 1114.2h0M943.9 1122.7h0M942.3 1124.6h0M942.3 1124.7h0M941.8 1126.2h0M945.6 1126.7h0M945.8 1126.2h0M947.2 1131h0M943.9 1131.9h0M944.9 1130.8h0M944.8 1119.1h0M940.7 1122.5h0M940.8 1122.4h0M938.3 1155h0M947.2 1139.1h0M948 1143.6h0M947.2 1146.2h0M947.2 1147.9h0M949.6 1132.6h0M952 1127.9h0M952.5 1126.6h0M954.5 1128.4h0M957.3 1127.6h0M952.8 1134.1h0M953.3 1132.7h0M956.1 1130.9h0M957 1132.4h0M953.6 1137h0M957.3 1132.7h0M957.9 1132.8h0M958.5 1129.4h0M958.2 1124.8h0M951.2 1134.3h0M949.4 1133.3h0M954.3 1167.4h0M835.8 1076.5h0M837 1097.8h0M845.6 1073.3h0M848.5 1073.5h0M851 1064.2h0M848.6 1092.4h0M850.5 1094.9h0M851 1106.3h0M848.5 1109.3h0M848.3 1115.9h0M836.5 1112.6h0M847.8 1000.1h0M850.4 1153.4h0M855 1142h0M860.5 1144.4h0M848.7 1136.5h0M861 1135.3h0M862.5 1131.3h0M832 1147.3h0M823.7 1145.9h0M833.3 1147h0M822.8 1150h0M822.9 1142.7h0M825.6 1154.6h0M829.4 1146.7h0M822.9 1149.2h0M826.2 1143h0M867 1206.6h0M814.1 988.9h0M816.3 988.9h0M816.5 1043.4h0M815.5 1054.1h0M817.1 1083.7h0M820 1087.2h0M817.1 1173.4h0M814.2 1139.9h0M814.2 1143.5h0"/>
<path class="tk" d="M819.5 1226.5v-6.1 M819.5 989.5v6.1M839.5 1226.5v-6.1 M839.5 989.5v6.1M858.5 1226.5v-6.1 M858.5 989.5v6.1M877.5 1226.5v-6.1 M877.5 989.5v6.1M896.5 1226.5v-6.1 M896.5 989.5v6.1M915.5 1226.5v-6.1 M915.5 989.5v6.1M935.5 1226.5v-6.1 M935.5 989.5v6.1M954.5 1226.5v-6.1 M954.5 989.5v6.1M807.5 1196.2h6.1 M964.5 1196.2h-6.1M807.5 1166.6h6.1 M964.5 1166.6h-6.1M807.5 1137h6.1 M964.5 1137h-6.1M807.5 1107.4h6.1 M964.5 1107.4h-6.1M807.5 1077.8h6.1 M964.5 1077.8h-6.1M807.5 1048.1h6.1 M964.5 1048.1h-6.1M807.5 1018.5h6.1 M964.5 1018.5h-6.1"/>
<rect class="ax" x="807.5" y="989.5" width="157" height="237"/>
<text class="cc" x="812.2" y="1014.7">#68</text>
<text class="xl" text-anchor="end" transform="translate(824.5 1232) rotate(-90)">Oct 2011</text>
<text class="xl" text-anchor="end" transform="translate(841.6 1232) rotate(-90)">Apr 2012</text>
<text class="xl" text-anchor="end" transform="translate(863 1232) rotate(-90)">Oct 2012</text>
<text class="xl" text-anchor="end" transform="translate(880 1232) rotate(-90)">Apr 2013</text>
<text class="xl" text-anchor="end" transform="translate(901.3 1232) rotate(-90)">Oct 2013</text>
<text class="xl" text-anchor="end" transform="translate(918.3 1232) rotate(-90)">Apr 2014</text>
<text class="xl" text-anchor="end" transform="translate(939.7 1232) rotate(-90)">Oct 2014</text>
<text class="xl" text-anchor="end" transform="translate(956.7 1232) rotate(-90)">Apr 2015</text>
</g>
<g>
<clipPath id="c69"><rect x="996.5" y="989.5" width="158" height="237"/></clipPath>
<path class="pt" clip-path="url(#c69)" d="M1008.5 1116.4h0M1004.1 1095.6h0M1003.6 1098.3h0M1004.4 1106.3h0M1004.9 1112.9h0M1021.5 1116.6h0M1019.5 1118.8h0M1004.8 1109.6h0M1005.9 1101.8h0M1009.4 1100.3h0M1015.7 1110.1h0M1013.7 1106h0M1007 1115h0M1019.9 1113.3h0M1010.3 1105.8h0M1011.7 1124.6h0M1017.5 1112.6h0M1008.3 1111.3h0M1019.1 1119.1h0M1015.3 1126.1h0M1015 1090.4h0M1007.8 1108.2h0M1003.4 1099.6h0M1017.6 1111.5h0M1009.8 1114.4h0M1020.1 1109.5h0M1007.6 1100.6h0M1020.1 1113.9h0M1006.8 1098.6h0M1007.4 1112.5h0M1021.6 1114.4h0M1014.4 1098.8h0M1019.9 1121.4h0M1009.9 1121.1h0M1004 1099.5h0M1003.8 1097.9h0M1004.6 1094.5h0M1005.3 1110h0M1009.3 1120.6h0M1022.5 1116.7h0M1008.9 1112.8h0M1005.6 1119.8h0M1012.5 1107.1h0M1003.5 1100.3h0M1019.6 1120.1h0M1017.6 1111.9h0M1008.6 1115.3h0M1022.3 1111.4h0M1018.6 1109.8h0M1012.3 1102h0M1007.3 1098h0M1010.9 1089.6h0M1021.7 1119.7h0M1006.7 1115.5h0M1019.1 1116.5h0M1018.2 1125.4h0M1020.7 1110.5h0M1011.5 1119.1h0M1008.7 1089.6h0M1009.9 1110.4h0M1016.6 1121.5h0M1005.4 1088.5h0M1005.3 1092.9h0M1015.2 1107.8h0M1022 1118.2h0M1021.2 1118.9h0M1018.8 1117.4h0M1013.7 1102.7h0M1005 1113.5h0M1020.5 1118.7h0M1012 1104.5h0M1003.4 1089.6h0M1005.7 1103.8h0M1013.1 1108.4h0M1013.1 1115.5h0M1007.6 1105.2h0M1013.2 1098.1h0M1010.8 1120h0M1011 1106.8h0M1021.4 1113.3h0M1021.4 1110.6h0M1005.1 1108.4h0M1004.1 1106.6h0M1020.4 1126.2h0M1015.3 1122.4h0M1021.9 1121.5h0M1009.9 1108.1h0M1019 1124.2h0M1012.3 1113.7h0M1003.4 1093.1h0M1003.4 1105.9h0M1012.2 1123.3h0M1018 1113h0M1017.8 1111.8h0M1010.4 1089.7h0M1007.3 1118h0M1013.4 1097h0M1010.5 1122.7h0M1014.7 1106.3h0M1019.5 1127.5h0M1011 1102.5h0M1005 1106.3h0M1004.7 1099.5h0M1008.1 1097.8h0M1012 1102.7h0M1003.3 1100.6h0M1006 1105.5h0M1004.6 1115.7h0M1031.7 1119.5h0M1038.5 1115.7h0M1038.9 1118.4h0M1032 1118.2h0M1024.3 1120.9h0M1028.5 1118.5h0M1042.7 1118.2h0M1029.1 1121.9h0M1026.3 1118h0M1028.7 1111.5h0M1028.3 1121.2h0M1029.8 1120h0M1033.6 1119.4h0M1027.3 1119.2h0M1024.7 1120.6h0M1023.6 1115.1h0M1036.1 1117.9h0M1039.9 1122.9h0M1031.6 1123.2h0M1045.3 1116.9h0M1023.7 1116.7h0M1043.2 1121.9h0M1025.9 1123.1h0M1034.3 1117.9h0M1036.1 1123.5h0M1038.4 1119.9h0M1025.7 1122.5h0M1025.1 1117.5h0M1037.1 1122.8h0M1033.9 1114.8h0M1034.2 1119h0M1037.8 1115.1h0M1024.4 1118.9h0M1039.4 1115.4h0M1034 1117.1h0M1033.7 1120.8h0M1037.4 1127.6h0M1026.1 1119.1h0M1035.7 1112.8h0M1024.1 1120.6h0M1038.2 1114.5h0M1034.5 1124h0M1043.2 1118.8h0M1045.2 1117.9h0M1041.5 1118.9h0M1033 1119.5h0M1027.5 1118.3h0M1025.9 1123.9h0M1041.5 1120.9h0M1043.1 1121.8h0M1033.8 1123.1h0M1022.7 1122.6h0M1025.9 1119.7h0M1029.9 1118.2h0M1042 1120.7h0M1044 1121.6h0M1031.2 1125.6h0M1045.6 1122.8h0M1029 1122.1h0M1025 1120.3h0M1028.4 1120.6h0M1034.4 1120.5h0M1043 1117.3h0M1037.2 1115h0M1039.2 1124.3h0M1039.5 1124.7h0M1029.2 1115h0M1044 1116.7h0M1029.5 1117.5h0M1045.1 1120.8h0M1035.5 1116.1h0M1026.5 1116.1h0M1034.1 1118.5h0M1043.5 1116.8h0M1027.1 1119.8h0M1030.5 1117.2h0M1035.8 1119.6h0M1039.9 1121.8h0M1031.3 1116.5h0M1024.1 1121.3h0M1048.9 1112h0M1051.3 1118.7h0M1048.3 1119h0M1051.9 1112.9h0M1045.9 1122.8h0M1051.5 1125.2h0M1048.2 1117.3h0M1051 1115.8h0M1046.4 1125.1h0M1049.1 1121.6h0M1049.9 1126.7h0M1048.6 1121.1h0M1047.2 1119.9h0M1049.9 1118.4h0M1049.8 1119.6h0M1046.4 1114.5h0M1048.2 1116.1h0M1053.2 1110.2h0M1055 1109.1h0M1054.6 1111.2h0M1055 1109.9h0M1051.7 1110.6h0M1052.3 1114.6h0M1053.5 1110h0M1056.2 1095.4h0M1056 1101.3h0M1058.8 1099h0M1059.3 1098.1h0M1060.8 1099.6h0M1062 1105.1h0M1060.9 1102.3h0M1056 1108.1h0M1059.2 1108.8h0M1059.1 1110.2h0M1062.4 1107.1h0M1063.6 1103.9h0M1060.4 1105.2h0M1060.2 1106.1h0M1064.9 1110.1h0M1065.1 1112.3h0M1065.3 1117.3h0M1066 1118h0M1065.3 1121.9h0M1068.1 1104.1h0M1068.4 1103h0M1070.5 1102.7h0M1070.6 1098.8h0M1072.9 1103.2h0M1069.3 1107.3h0M1071.7 1109.3h0M1074.1 1107.8h0M1073.3 1104.6h0M1075.4 1108.7h0M1071.7 1110.9h0M1073.2 1113.1h0M1075 1113.4h0M1074.4 1113h0M1077.4 1112.7h0M1077.8 1115.5h0M1078.6 1113.9h0M1079.4 1105.6h0M1080 1104.3h0M1080.6 1101.8h0M1080.5 1099.5h0M1081.4 1106.4h0M1082.6 1107.4h0M1081.5 1111.9h0M1083.8 1113.3h0M1084.7 1107.6h0M1084.8 1112.7h0M1082.2 1114.4h0M1083.4 1118.7h0M1083.4 1119h0M1085.5 1113.7h0M1086.1 1111.7h0M1086.7 1110.4h0M1088.7 1109.5h0M1088.7 1108h0M1089.9 1109.5h0M1088.4 1111.1h0M1091.5 1113.2h0M1093.9 1113h0M1095.7 1114.1h0M1087.1 1119.3h0M1086.5 1118.6h0M1089.5 1122.8h0M1088.7 1122.4h0M1092.7 1111.3h0M1077.8 1131.3h0M1077.8 1130.3h0M1074.7 1149.4h0M1096 1124.7h0M1096.8 1130.1h0M1095.2 1128.3h0M1095.9 1129.8h0M1099.2 1121.7h0M1100 1125.2h0M1099.2 1129.8h0M1099.9 1127.1h0M1103.2 1127.3h0M1104 1130.4h0M1104.8 1122.7h0M1106.1 1119.4h0M1105 1121.3h0M1093.5 1134.6h0M1096.4 1141.9h0M1102.8 1136.9h0M1102.8 1142h0M1102.4 1149.5h0M1099.2 1168.6h0M1103.2 1113.9h0M1104 1110.7h0M1104.6 1110.1h0M1104.4 1106.5h0M1105.5 1106.6h0M1105.7 1109.1h0M1106.5 1115.9h0M1106.5 1109h0M1107.3 1115.5h0M1108.9 1102.9h0M1108.7 1102.3h0M1109.7 1108.6h0M1110.5 1110.6h0M1111.3 1111.4h0M1112.1 1114.1h0M1112.3 1117.1h0M1114.9 1106.1h0M1116.2 1108.7h0M1115.3 1116.3h0M1117 1106.7h0M1117.8 1111.8h0M1118.3 1110.5h0M1118.6 1118.3h0M1117.8 1123.2h0M1117.3 1122.8h0M1120.2 1125.3h0M1119.7 1124.8h0M1121 1122.2h0M1116.2 1119.2h0M1111.7 1138.5h0M1111.7 1151.8h0M1117.8 1132h0M1118.2 1137h0M1124.2 1109.7h0M1125 1114.8h0M1126.4 1112.5h0M1123.4 1117.7h0M1122.6 1125.7h0M1121.7 1128.9h0M1127.5 1113.1h0M1128.3 1119.6h0M1126.7 1122.4h0M1126.9 1123h0M1125 1127.7h0M1125.4 1125.7h0M1128.3 1127.4h0M1129.9 1124.3h0M1129.7 1122h0M1132.3 1108.8h0M1131.7 1109.2h0M1133.1 1114.7h0M1131.5 1118.6h0M1131.5 1118.5h0M1130.9 1120.1h0M1134.7 1120.8h0M1135 1121h0M1136.3 1123.9h0M1133.1 1127.6h0M1134.1 1125.6h0M1133.9 1113.1h0M1129.9 1114.5h0M1129.9 1115.3h0M1127.5 1147.1h0M1136.3 1135.6h0M1137.2 1134.5h0M1136.3 1139.1h0M1136.3 1144.1h0M1138.8 1126.1h0M1141.2 1122.4h0M1141.6 1122h0M1143.6 1121.9h0M1146.4 1123.9h0M1142 1125.2h0M1142.4 1124.8h0M1145.2 1126.6h0M1146.2 1127.8h0M1142.8 1131h0M1146.4 1123.6h0M1147 1127.8h0M1147.7 1126.1h0M1147.4 1120.1h0M1140.4 1128.1h0M1138.6 1127.1h0M1143.5 1159.3h0M1025 1068.2h0M1026.2 1089.2h0M1034.8 1068.7h0M1037.7 1070.3h0M1040.2 1056.5h0M1037.8 1087.6h0M1039.7 1087.9h0M1040.2 1100.2h0M1037.7 1102.3h0M1037.5 1109.9h0M1025.7 1107.7h0M1037 994.6h0M1039.6 1147h0M1044.2 1135.1h0M1049.7 1137.4h0M1037.9 1132.4h0M1050.2 1130.7h0M1051.7 1129h0M1016.9 1140.6h0M1018.6 1137.9h0M1013.9 1142.5h0M1017.5 1137h0M1017.3 1135.9h0M1019.1 1143.5h0M1006.9 1147.4h0M1021.9 1134.3h0M1056.2 1201.2h0M1003.3 988.9h0M1005.5 988.9h0M1008.3 1023h0M1004.4 1001.7h0M1006.9 1008.2h0M1006.9 1077.2h0M1009.7 1076.9h0M1007.9 1084.6h0M1013.7 1084.6h0M1006 1088.4h0M1020.1 1089.6h0M1026.3 1087.8h0"/>
<path class="tk" d="M1009.5 1226.5v-6.1 M1009.5 989.5v6.1M1028.5 1226.5v-6.1 M1028.5 989.5v6.1M1047.5 1226.5v-6.1 M1047.5 989.5v6.1M1066.5 1226.5v-6.1 M1066.5 989.5v6.1M1085.5 1226.5v-6.1 M1085.5 989.5v6.1M1105.5 1226.5v-6.1 M1105.5 989.5v6.1M1124.5 1226.5v-6.1 M1124.5 989.5v6.1M1143.5 1226.5v-6.1 M1143.5 989.5v6.1M996.5 1196.2h6.1 M1154.5 1196.2h-6.1M996.5 1166.6h6.1 M1154.5 1166.6h-6.1M996.5 1137h6.1 M1154.5 1137h-6.1M996.5 1107.4h6.1 M1154.5 1107.4h-6.1M996.5 1077.8h6.1 M1154.5 1077.8h-6.1M996.5 1048.1h6.1 M1154.5 1048.1h-6.1M996.5 1018.5h6.1 M1154.5 1018.5h-6.1"/>
<rect class="ax" x="996.5" y="989.5" width="158" height="237"/>
<text class="cc" x="1001.4" y="1014.7">#69</text>
<text class="xl" text-anchor="end" transform="translate(1013.7 1232) rotate(-90)">Oct 2011</text>
<text class="xl" text-anchor="end" transform="translate(1030.8 1232) rotate(-90)">Apr 2012</text>
<text class="xl" text-anchor="end" transform="translate(1052.1 1232) rotate(-90)">Oct 2012</text>
<text class="xl" text-anchor="end" transform="translate(1069.2 1232) rotate(-90)">Apr 2013</text>
<text class="xl" text-anchor="end" transform="translate(1090.5 1232) rotate(-90)">Oct 2013</text>
<text class="xl" text-anchor="end" transform="translate(1107.5 1232) rotate(-90)">Apr 2014</text>
<text class="xl" text-anchor="end" transform="translate(1128.8 1232) rotate(-90)">Oct 2014</text>
<text class="xl" text-anchor="end" transform="translate(1145.9 1232) rotate(-90)">Apr 2015</text>
</g>
<g>
<clipPath id="c70"><rect x="1185.5" y="989.5" width="158" height="237"/></clipPath>
<path class="pt" clip-path="url(#c70)" d="M1197.7 1067.2h0M1193.3 1045.1h0M1192.8 1047.8h0M1193.6 1053.8h0M1194.1 1059.6h0M1210.7 1067.6h0M1208.7 1065.2h0M1194 1057h0M1195.1 1050.6h0M1198.6 1050h0M1204.9 1059.4h0M1202.9 1057.5h0M1196.2 1064.8h0M1209.1 1064.3h0M1199.5 1055.5h0M1200.9 1077h0M1206.7 1061.6h0M1197.5 1061.6h0M1208.3 1067.5h0M1204.5 1075.7h0M1204.2 1043h0M1196.9 1059.7h0M1192.6 1049.2h0M1206.7 1063.1h0M1199 1066.8h0M1209.2 1058.6h0M1196.8 1050.2h0M1209.3 1064.5h0M1196 1047.4h0M1196.5 1059.3h0M1210.8 1064.1h0M1203.5 1052.1h0M1209 1071.9h0M1199.1 1070.7h0M1193.1 1048.3h0M1193 1046.8h0M1193.7 1044.5h0M1194.5 1059.4h0M1198.4 1068.1h0M1211.7 1070.1h0M1198 1062.4h0M1194.7 1067.8h0M1201.7 1057.1h0M1192.6 1052.9h0M1208.8 1067.9h0M1206.8 1063.5h0M1197.8 1065.4h0M1211.5 1063.1h0M1207.8 1062.9h0M1201.5 1051.2h0M1196.5 1048.9h0M1200.1 1041.5h0M1210.8 1065.7h0M1195.9 1062.9h0M1208.3 1066.7h0M1207.4 1076.3h0M1209.8 1061.6h0M1200.7 1070.6h0M1197.8 1044.5h0M1199 1061.1h0M1205.8 1070.9h0M1194.5 1039.7h0M1194.5 1043.8h0M1204.4 1060.1h0M1211.2 1068.5h0M1210.3 1070.1h0M1208 1066.5h0M1202.9 1055h0M1194.2 1059.6h0M1209.7 1067.4h0M1201.2 1054.7h0M1192.5 1040.3h0M1194.9 1053.4h0M1202.3 1058.3h0M1202.2 1063.2h0M1196.8 1057.3h0M1202.4 1051.6h0M1200 1068.6h0M1200.2 1057.9h0M1210.5 1063.1h0M1210.5 1062.6h0M1194.3 1056h0M1193.3 1056.5h0M1209.5 1077.2h0M1204.4 1076.3h0M1211.1 1074.3h0M1199.1 1054.4h0M1208.1 1073.8h0M1201.4 1063.9h0M1192.5 1044.9h0M1192.5 1054.8h0M1201.4 1075.6h0M1207.2 1064.2h0M1207 1061.4h0M1199.6 1041.2h0M1196.4 1066.3h0M1202.6 1049.4h0M1199.6 1072.3h0M1203.9 1057.7h0M1208.6 1077.9h0M1200.2 1050h0M1194.2 1055h0M1193.9 1050.9h0M1197.3 1051.2h0M1201.1 1051.7h0M1192.5 1050.3h0M1195.2 1052h0M1193.8 1061.2h0M1220.9 1068.9h0M1227.6 1066.4h0M1228.1 1071.6h0M1221.1 1071.3h0M1213.5 1067.3h0M1217.7 1069.9h0M1231.9 1070.3h0M1218.3 1069.4h0M1215.5 1068.1h0M1217.9 1064.3h0M1217.5 1071.8h0M1218.9 1067.2h0M1222.7 1070.5h0M1216.5 1069.7h0M1213.9 1070h0M1212.8 1066.3h0M1225.3 1068.8h0M1229.1 1071.6h0M1220.8 1073.5h0M1234.5 1067.4h0M1212.8 1066.2h0M1232.3 1073.4h0M1215 1075.3h0M1223.4 1067.1h0M1225.3 1071.8h0M1227.5 1069.5h0M1214.9 1071.4h0M1214.2 1067h0M1226.2 1072.8h0M1223.1 1066.7h0M1223.4 1068.2h0M1227 1065.6h0M1213.5 1068.6h0M1228.6 1068.2h0M1223.2 1064.8h0M1222.8 1073.5h0M1226.6 1078.2h0M1215.2 1069.1h0M1224.9 1063h0M1213.2 1069.8h0M1227.4 1065.8h0M1223.7 1076.9h0M1232.4 1070.7h0M1234.3 1071.9h0M1230.7 1068.5h0M1222.2 1071.7h0M1216.7 1067.5h0M1215.1 1075h0M1230.7 1071.1h0M1232.2 1070.6h0M1223 1074.5h0M1211.9 1073h0M1215.1 1068.4h0M1219.1 1070.3h0M1231.1 1069.5h0M1233.1 1071.7h0M1220.4 1077h0M1234.8 1074h0M1218.2 1071.7h0M1214.2 1069.3h0M1217.6 1072.4h0M1223.6 1068.8h0M1232.2 1068.1h0M1226.3 1064.1h0M1228.4 1076.7h0M1228.7 1073.1h0M1218.4 1070.4h0M1233.1 1067h0M1218.7 1068.7h0M1234.3 1069.4h0M1224.6 1066.5h0M1215.7 1068.1h0M1223.3 1069h0M1232.7 1067.8h0M1216.3 1070h0M1219.7 1069.1h0M1224.9 1068.3h0M1229.1 1073.1h0M1220.5 1068h0M1213.3 1073h0M1238.1 1064.7h0M1240.4 1070.4h0M1237.4 1067.5h0M1241 1062.5h0M1235 1074.5h0M1240.7 1074.9h0M1237.4 1068.5h0M1240.2 1065.6h0M1235.5 1075.9h0M1238.2 1072.4h0M1239 1073.8h0M1237.8 1069.5h0M1236.3 1070.8h0M1239 1068.9h0M1239 1067h0M1235.6 1066.7h0M1237.4 1068.9h0M1242.3 1060.6h0M1244.1 1060.7h0M1243.7 1060.3h0M1244.1 1061h0M1240.9 1064.8h0M1241.4 1062.8h0M1242.7 1061.3h0M1245.4 1046.6h0M1245.2 1049.8h0M1248 1051.6h0M1248.5 1048.8h0M1250 1049h0M1251.2 1053.6h0M1250.1 1052h0M1245.1 1060h0M1248.4 1057.2h0M1248.3 1059.1h0M1251.6 1057.5h0M1252.8 1055.2h0M1249.6 1058.1h0M1249.3 1056.3h0M1254 1058h0M1254.3 1063.7h0M1254.4 1066.5h0M1255.1 1068h0M1254.4 1072.7h0M1257.3 1052.9h0M1257.6 1052.4h0M1259.7 1051.8h0M1259.8 1048.9h0M1262.1 1051.8h0M1258.5 1056.7h0M1260.9 1058.3h0M1263.3 1057h0M1262.4 1054.2h0M1264.5 1062h0M1260.9 1062.6h0M1262.4 1061.6h0M1264.1 1061.2h0M1263.5 1064.3h0M1266.5 1063.9h0M1266.9 1064h0M1267.8 1065.1h0M1268.6 1056.1h0M1269.2 1055.7h0M1269.8 1052.5h0M1269.7 1049.9h0M1270.6 1051h0M1271.8 1061.4h0M1270.6 1061.6h0M1273 1061.9h0M1273.8 1057.6h0M1273.9 1060.5h0M1271.4 1063.1h0M1272.5 1068.2h0M1272.6 1071.6h0M1274.6 1061.2h0M1275.3 1061.3h0M1275.8 1058.8h0M1277.9 1059.6h0M1277.9 1057.7h0M1279.1 1060.5h0M1277.6 1062.4h0M1280.7 1062.3h0M1283.1 1064.4h0M1284.8 1063.6h0M1276.2 1072h0M1275.6 1068.5h0M1278.7 1071.2h0M1277.9 1074.6h0M1281.9 1061.4h0M1267 1081.2h0M1267 1079.2h0M1263.9 1100.7h0M1285.1 1072.1h0M1285.9 1078.1h0M1284.3 1076.5h0M1285.1 1077.6h0M1288.4 1070.2h0M1289.2 1076h0M1288.4 1078.6h0M1289.1 1078.1h0M1292.4 1076.9h0M1293.2 1080h0M1294 1073.7h0M1295.2 1071.1h0M1294.1 1073h0M1282.7 1084.5h0M1285.5 1091.7h0M1292 1089.4h0M1292 1092.4h0M1291.6 1100.9h0M1288.4 1119.5h0M1292.4 1067.6h0M1293.2 1062.9h0M1293.8 1061.4h0M1293.6 1054.3h0M1294.7 1055.1h0M1294.8 1059.2h0M1295.6 1060.3h0M1295.7 1059.4h0M1296.4 1067.4h0M1298 1053.4h0M1297.9 1053.1h0M1298.9 1059.2h0M1299.7 1062.8h0M1300.5 1061.5h0M1301.3 1064.5h0M1301.4 1066.1h0M1304.1 1055.2h0M1305.3 1058.9h0M1304.5 1065.2h0M1306.1 1056.9h0M1306.9 1062h0M1307.4 1061.1h0M1307.7 1068.5h0M1306.9 1071.6h0M1306.4 1072.9h0M1309.4 1077.4h0M1308.9 1075.6h0M1310.2 1069.5h0M1305.3 1068.6h0M1300.9 1090.9h0M1300.9 1103.4h0M1306.9 1084.4h0M1307.3 1086.9h0M1313.4 1059.8h0M1314.2 1063.8h0M1315.5 1063.3h0M1312.6 1068.6h0M1311.8 1076.4h0M1310.8 1078.2h0M1316.6 1062.8h0M1317.4 1067.3h0M1315.8 1072.6h0M1316 1072.8h0M1314.2 1076.2h0M1314.5 1073.5h0M1317.4 1076.7h0M1319.1 1072.3h0M1318.9 1070.5h0M1321.5 1058.2h0M1320.9 1058h0M1322.3 1066.9h0M1320.6 1069.1h0M1320.7 1070.4h0M1320.1 1070.3h0M1323.9 1070.9h0M1324.2 1071.2h0M1325.5 1073h0M1322.3 1078.2h0M1323.2 1075.5h0M1323.1 1061.2h0M1319.1 1066h0M1319.1 1066.4h0M1316.6 1099.4h0M1325.5 1082.8h0M1326.3 1086h0M1325.5 1090.9h0M1325.5 1096h0M1327.9 1074.2h0M1330.4 1071.5h0M1330.8 1071.1h0M1332.8 1070.9h0M1335.6 1073.6h0M1331.2 1077.8h0M1331.6 1075.7h0M1334.4 1074.9h0M1335.3 1078.1h0M1332 1082.6h0M1335.6 1074.2h0M1336.2 1078.2h0M1336.8 1072.9h0M1336.6 1071.3h0M1329.6 1079.3h0M1327.8 1078.2h0M1332.6 1109.8h0M1214.1 1018h0M1215.3 1042.1h0M1223.9 1021.5h0M1226.8 1018.7h0M1229.3 1006.2h0M1226.9 1035.6h0M1228.8 1039.3h0M1229.3 1048.3h0M1226.8 1053.6h0M1226.6 1060.2h0M1214.8 1061.7h0M1226.1 988.9h0M1228.7 1097h0M1233.3 1083.9h0M1238.8 1089h0M1227 1083.2h0M1239.3 1079.3h0M1240.8 1075.3h0M1213.7 1092.2h0M1202.6 1100.4h0M1206.2 1094.7h0M1200.5 1093.8h0M1212.3 1096.5h0M1200.6 1092.2h0M1207.8 1095.7h0M1197.9 1086.2h0M1208.9 1089.4h0M1245.3 1152.1h0M1192.4 988.9h0M1194.6 988.9h0M1194.6 1034.2h0M1197.5 1035.4h0M1194.2 1040.2h0M1195 1115.4h0M1194.5 1174h0"/>
<path class="tk" d="M1198.5 1226.5v-6.1 M1198.5 989.5v6.1M1217.5 1226.5v-6.1 M1217.5 989.5v6.1M1236.5 1226.5v-6.1 M1236.5 989.5v6.1M1255.5 1226.5v-6.1 M1255.5 989.5v6.1M1275.5 1226.5v-6.1 M1275.5 989.5v6.1M1294.5 1226.5v-6.1 M1294.5 989.5v6.1M1313.5 1226.5v-6.1 M1313.5 989.5v6.1M1332.5 1226.5v-6.1 M1332.5 989.5v6.1M1185.5 1196.2h6.1 M1343.5 1196.2h-6.1M1185.5 1166.6h6.1 M1343.5 1166.6h-6.1M1185.5 1137h6.1 M1343.5 1137h-6.1M1185.5 1107.4h6.1 M1343.5 1107.4h-6.1M1185.5 1077.8h6.1 M1343.5 1077.8h-6.1M1185.5 1048.1h6.1 M1343.5 1048.1h-6.1M1185.5 1018.5h6.1 M1343.5 1018.5h-6.1"/>
<rect class="ax" x="1185.5" y="989.5" width="158" height="237"/>
<text class="cc" x="1190.5" y="1014.7">#70</text>
<text class="xl" text-anchor="end" transform="translate(1202.8 1232) rotate(-90)">Oct 2011</text>
<text class="xl" text-anchor="end" transform="translate(1220 1232) rotate(-90)">Apr 2012</text>
<text class="xl" text-anchor="end" transform="translate(1241.3 1232) rotate(-90)">Oct 2012</text>
<text class="xl" text-anchor="end" transform="translate(1258.3 1232) rotate(-90)">Apr 2013</text>
<text class="xl" text-anchor="end" transform="translate(1279.7 1232) rotate(-90)">Oct 2013</text>
<text class="xl" text-anchor="end" transform="translate(1296.7 1232) rotate(-90)">Apr 2014</text>
<text class="xl" text-anchor="end" transform="translate(1318 1232) rotate(-90)">Oct 2014</text>
<text class="xl" text-anchor="end" transform="translate(1335 1232) rotate(-90)">Apr 2015</text>
</g>
<g>
<clipPath id="c71"><rect x="1374.5" y="989.5" width="158" height="237"/></clipPath>
<path class="pt" clip-path="url(#c71)" d="M1386.8 1104.4h0M1382.4 1080.1h0M1381.9 1085.3h0M1382.7 1091.4h0M1383.3 1098.4h0M1399.8 1108.4h0M1397.9 1106.8h0M1383.2 1094.5h0M1384.2 1088.8h0M1387.8 1089h0M1394 1101.2h0M1392 1098.9h0M1385.3 1101.9h0M1398.2 1103.6h0M1388.6 1094.9h0M1390.1 1116.2h0M1395.8 1102.6h0M1386.6 1101.3h0M1397.5 1112.7h0M1393.7 1118.3h0M1393.3 1086h0M1386.1 1095.2h0M1381.7 1085.5h0M1395.9 1103.5h0M1388.1 1103.3h0M1398.4 1097.9h0M1386 1088.3h0M1398.4 1106.7h0M1385.2 1083.3h0M1385.7 1097.1h0M1399.9 1106.5h0M1392.7 1091.6h0M1398.2 1113.8h0M1388.3 1109.4h0M1382.3 1088.4h0M1382.2 1083.7h0M1382.9 1081.1h0M1383.7 1094.6h0M1387.6 1109.5h0M1400.8 1109.1h0M1387.2 1100h0M1383.9 1104.6h0M1390.9 1097.8h0M1381.8 1087.3h0M1398 1108.6h0M1396 1103.4h0M1386.9 1103.9h0M1400.7 1103.7h0M1397 1104.2h0M1390.6 1093.8h0M1385.6 1084.2h0M1389.2 1080h0M1400 1107.5h0M1385 1100.1h0M1397.5 1109.2h0M1396.6 1116h0M1399 1100.4h0M1389.8 1108.4h0M1387 1080.9h0M1388.2 1097.6h0M1395 1112.3h0M1383.7 1076.4h0M1383.6 1077.8h0M1393.5 1103h0M1400.3 1111.5h0M1399.5 1111.7h0M1397.2 1107.3h0M1392.1 1093.3h0M1383.4 1099.2h0M1398.9 1110.9h0M1390.3 1095.2h0M1381.7 1076h0M1384.1 1091.3h0M1391.4 1100.6h0M1391.4 1105.9h0M1385.9 1096.1h0M1391.5 1092.3h0M1389.1 1109h0M1389.3 1095.7h0M1399.7 1104h0M1399.7 1099.6h0M1383.5 1094.9h0M1382.5 1094.1h0M1398.7 1117.4h0M1393.6 1114.5h0M1400.3 1114.5h0M1388.3 1095h0M1397.3 1114.2h0M1390.6 1103.9h0M1381.7 1078.1h0M1381.7 1092.2h0M1390.5 1117h0M1396.3 1106.1h0M1396.1 1102.5h0M1388.7 1080.6h0M1385.6 1104.2h0M1391.7 1090.6h0M1388.8 1113h0M1393.1 1100.6h0M1397.8 1119.4h0M1389.4 1092.8h0M1383.3 1091.6h0M1383 1087.8h0M1386.5 1085.1h0M1390.3 1094.6h0M1381.7 1086.8h0M1384.4 1090.6h0M1383 1102.5h0M1410 1110.8h0M1416.8 1109.3h0M1417.3 1111.7h0M1410.3 1110.6h0M1402.6 1110.8h0M1406.9 1109.8h0M1421 1109.4h0M1407.5 1112.9h0M1404.6 1109h0M1407.1 1105.5h0M1406.6 1111.8h0M1408.1 1109.8h0M1411.9 1109.8h0M1405.6 1109.9h0M1403.1 1112h0M1402 1108.3h0M1414.5 1112.9h0M1418.3 1112.3h0M1410 1113.9h0M1423.6 1109.6h0M1402 1107.6h0M1421.5 1112.9h0M1404.2 1112.4h0M1412.6 1108.8h0M1414.4 1115h0M1416.7 1111.8h0M1404.1 1113.7h0M1403.4 1108.3h0M1415.4 1115.5h0M1412.2 1107.6h0M1412.6 1110.8h0M1416.2 1109.1h0M1402.7 1109.3h0M1417.8 1111h0M1412.4 1106.3h0M1412 1114.3h0M1415.8 1118h0M1404.4 1112.6h0M1414.1 1103h0M1402.4 1108.9h0M1416.5 1106.7h0M1412.9 1115.3h0M1421.5 1111.5h0M1423.5 1111.4h0M1419.9 1111.4h0M1411.3 1110.1h0M1405.8 1109.6h0M1404.3 1116.3h0M1419.9 1111.6h0M1421.4 1112.1h0M1412.2 1113.4h0M1401.1 1113.2h0M1404.2 1111.7h0M1408.3 1113h0M1420.3 1110.4h0M1422.3 1112.6h0M1409.6 1117.1h0M1424 1114.6h0M1407.3 1111.8h0M1403.3 1108.2h0M1406.7 1112h0M1412.7 1107h0M1421.3 1107.1h0M1415.5 1106.7h0M1417.5 1118.1h0M1417.8 1115.6h0M1407.6 1108.2h0M1422.3 1110.2h0M1407.8 1108.6h0M1423.5 1111.8h0M1413.8 1106.3h0M1404.8 1108.4h0M1412.4 1109.9h0M1421.8 1109.9h0M1405.4 1111.8h0M1408.9 1107.9h0M1414.1 1110.8h0M1418.2 1113.8h0M1409.7 1108.8h0M1402.4 1112.2h0M1427.3 1106.3h0M1429.6 1110.1h0M1426.6 1108.1h0M1430.2 1105.2h0M1424.2 1115.6h0M1429.8 1115.1h0M1426.5 1108.9h0M1429.4 1106.1h0M1424.7 1118.4h0M1427.4 1114.6h0M1428.2 1116.3h0M1427 1110.9h0M1425.5 1111.5h0M1428.2 1111.7h0M1428.1 1109.5h0M1424.7 1109h0M1426.5 1108.6h0M1431.5 1104.1h0M1433.3 1104.3h0M1432.9 1105.4h0M1433.3 1102h0M1430 1104.2h0M1430.6 1107.7h0M1431.8 1105.1h0M1434.5 1088.7h0M1434.3 1088.6h0M1437.1 1091.2h0M1437.6 1091.5h0M1439.2 1091.3h0M1440.4 1096.2h0M1439.3 1093.4h0M1434.3 1099.5h0M1437.5 1102.8h0M1437.4 1101.1h0M1440.8 1098.2h0M1441.9 1096.8h0M1438.7 1097.5h0M1438.5 1096.5h0M1443.2 1100.7h0M1443.4 1104.9h0M1443.6 1108.7h0M1444.3 1108.4h0M1443.6 1112.3h0M1446.4 1095.4h0M1446.7 1093.3h0M1448.8 1095.3h0M1448.9 1091.5h0M1451.3 1093.8h0M1447.6 1099.3h0M1450.1 1101.3h0M1452.5 1095.9h0M1451.6 1093.2h0M1453.7 1101.6h0M1450.1 1102.2h0M1451.6 1104.3h0M1453.3 1103.7h0M1452.7 1104.1h0M1455.7 1104.5h0M1456.1 1104.6h0M1456.9 1108.4h0M1457.7 1098.2h0M1458.4 1095.6h0M1458.9 1094.1h0M1458.8 1090.9h0M1459.8 1094.6h0M1461 1099.7h0M1459.8 1101.6h0M1462.2 1101.5h0M1463 1099.2h0M1463.1 1100.8h0M1460.6 1105.3h0M1461.7 1108.7h0M1461.8 1110.9h0M1463.8 1102.8h0M1464.5 1101.8h0M1465 1102.7h0M1467 1098.2h0M1467.1 1101.9h0M1468.2 1102.6h0M1466.7 1102.8h0M1469.8 1103.8h0M1472.3 1104.5h0M1474 1105.9h0M1465.4 1112.5h0M1464.8 1109.4h0M1467.8 1113.3h0M1467 1117.2h0M1471.1 1104h0M1456.1 1121.9h0M1456.1 1120.5h0M1453 1140.4h0M1474.3 1117.2h0M1475.1 1119.6h0M1473.5 1119.6h0M1474.3 1119.4h0M1477.5 1113.1h0M1478.3 1115.2h0M1477.5 1120.3h0M1478.3 1119.6h0M1481.6 1120.8h0M1482.4 1121.5h0M1483.2 1113.8h0M1484.4 1113.2h0M1483.3 1114.9h0M1471.9 1125h0M1474.7 1130.6h0M1481.2 1128.5h0M1481.2 1134.5h0M1480.8 1140.8h0M1477.5 1160.5h0M1481.6 1105.2h0M1482.4 1104.1h0M1483 1103.3h0M1482.8 1098.3h0M1483.9 1098h0M1484 1100.4h0M1484.8 1103h0M1484.9 1102.2h0M1485.6 1107.4h0M1487.2 1095.5h0M1487 1093.9h0M1488 1100.5h0M1488.8 1102.4h0M1489.6 1101.7h0M1490.4 1106.3h0M1490.6 1106.7h0M1493.3 1095.5h0M1494.5 1100.4h0M1493.7 1105.8h0M1495.3 1098.6h0M1496.1 1102.7h0M1496.6 1104h0M1496.9 1109.1h0M1496.1 1114.1h0M1495.6 1112.9h0M1498.5 1115.9h0M1498.1 1117h0M1499.3 1110.4h0M1494.5 1109.5h0M1490 1129.6h0M1490 1143.5h0M1496.1 1124h0M1496.5 1128.4h0M1502.6 1102.6h0M1503.4 1106.2h0M1504.7 1103.5h0M1501.8 1108.3h0M1500.9 1117.5h0M1500 1120.5h0M1505.8 1104.1h0M1506.6 1108.3h0M1505 1113.7h0M1505.2 1113.7h0M1503.4 1118.9h0M1503.7 1116h0M1506.6 1117.4h0M1508.2 1114.3h0M1508.1 1112.7h0M1510.6 1099.8h0M1510.1 1101h0M1511.4 1108.2h0M1509.8 1111.3h0M1509.8 1112.4h0M1509.3 1111.8h0M1513.1 1111.6h0M1513.3 1110.8h0M1514.7 1111.2h0M1511.4 1118.4h0M1512.4 1116.9h0M1512.3 1104.4h0M1508.2 1108.5h0M1508.3 1108.3h0M1505.8 1138.1h0M1514.7 1124.7h0M1515.5 1127.7h0M1514.7 1132.7h0M1514.7 1136.3h0M1517.1 1116.3h0M1519.5 1113.6h0M1520 1114h0M1521.9 1114.9h0M1524.8 1113.2h0M1520.3 1118.8h0M1520.8 1116.1h0M1523.6 1118.4h0M1524.5 1118.5h0M1521.1 1122.2h0M1524.8 1118h0M1525.4 1118.3h0M1526 1116.2h0M1525.7 1111.3h0M1518.7 1121.3h0M1516.9 1117.5h0M1521.8 1150.6h0M1403.3 1059.1h0M1404.5 1082h0M1413.1 1059.5h0M1416 1061.3h0M1418.5 1048.7h0M1416.1 1077.1h0M1418 1079.8h0M1418.5 1091.2h0M1416 1096.1h0M1415.8 1100.3h0M1404 1100.7h0M1415.3 988.9h0M1417.9 1140.4h0M1422.5 1126.6h0M1428 1131.2h0M1416.2 1123.6h0M1428.5 1122.8h0M1430 1116.9h0M1383.7 1123.1h0M1383.1 1119.8h0M1384.5 1126.6h0M1382.8 1128.6h0M1383.8 1119.1h0M1389.3 1126.7h0M1384.2 1127h0M1391.8 1129.5h0M1384.7 1126.4h0M1390.4 1120.8h0M1390 1130.5h0M1384.3 1128h0M1383.1 1130.8h0M1384.7 1132.1h0M1388.7 1131.7h0M1391 1125.2h0M1434.5 1192.6h0M1382 988.9h0M1387.2 1027.4h0M1383 1036.3h0M1385 1163.6h0M1402.3 1135.5h0M1407 1138.2h0M1396.5 1139.9h0M1396.5 1145.3h0M1402.7 1146.7h0M1383 1141.7h0M1385.5 1225.8h0"/>
<path class="tk" d="M1387.5 1226.5v-6.1 M1387.5 989.5v6.1M1406.5 1226.5v-6.1 M1406.5 989.5v6.1M1425.5 1226.5v-6.1 M1425.5 989.5v6.1M1445.5 1226.5v-6.1 M1445.5 989.5v6.1M1464.5 1226.5v-6.1 M1464.5 989.5v6.1M1483.5 1226.5v-6.1 M1483.5 989.5v6.1M1502.5 1226.5v-6.1 M1502.5 989.5v6.1M1521.5 1226.5v-6.1 M1521.5 989.5v6.1M1374.5 1196.2h6.1 M1532.5 1196.2h-6.1M1374.5 1166.6h6.1 M1532.5 1166.6h-6.1M1374.5 1137h6.1 M1532.5 1137h-6.1M1374.5 1107.4h6.1 M1532.5 1107.4h-6.1M1374.5 1077.8h6.1 M1532.5 1077.8h-6.1M1374.5 1048.1h6.1 M1532.5 1048.1h-6.1M1374.5 1018.5h6.1 M1532.5 1018.5h-6.1"/>
<rect class="ax" x="1374.5" y="989.5" width="158" height="237"/>
<text class="cc" x="1379.7" y="1014.7">#71</text>
<text class="xl" text-anchor="end" transform="translate(1392 1232) rotate(-90)">Oct 2011</text>
<text class="xl" text-anchor="end" transform="translate(1409.1 1232) rotate(-90)">Apr 2012</text>
<text class="xl" text-anchor="end" transform="translate(1430.5 1232) rotate(-90)">Oct 2012</text>
<text class="xl" text-anchor="end" transform="translate(1447.5 1232) rotate(-90)">Apr 2013</text>
<text class="xl" text-anchor="end" transform="translate(1468.8 1232) rotate(-90)">Oct 2013</text>
<text class="xl" text-anchor="end" transform="translate(1485.8 1232) rotate(-90)">Apr 2014</text>
<text class="xl" text-anchor="end" transform="translate(1507.2 1232) rotate(-90)">Oct 2014</text>
<text class="xl" text-anchor="end" transform="translate(1524.2 1232) rotate(-90)">Apr 2015</text>
</g>
<g>
<clipPath id="c72"><rect x="1563.5" y="989.5" width="158" height="237"/></clipPath>
<path class="pt" clip-path="url(#c72)" d="M1576 1097.9h0M1571.6 1080.8h0M1571.1 1083.5h0M1571.9 1085.4h0M1572.4 1092.3h0M1589 1098.1h0M1587 1097.8h0M1572.3 1089.2h0M1573.4 1082.8h0M1576.9 1084.5h0M1583.2 1094.8h0M1581.2 1091.4h0M1574.5 1096.7h0M1587.4 1097.7h0M1577.8 1089.5h0M1579.2 1106.2h0M1585 1097.5h0M1575.8 1092.5h0M1586.6 1101.6h0M1582.8 1108.1h0M1582.5 1080.1h0M1575.3 1092.9h0M1570.9 1085.6h0M1585.1 1094.2h0M1577.3 1098.6h0M1587.6 1091.1h0M1575.1 1085.2h0M1587.6 1094.7h0M1574.3 1081.8h0M1574.9 1091.3h0M1589.1 1095.3h0M1581.9 1084.3h0M1587.4 1105.1h0M1577.4 1101.9h0M1571.5 1086h0M1571.3 1081.1h0M1572.1 1079.1h0M1572.8 1087.6h0M1576.8 1100.9h0M1590 1100.8h0M1576.4 1097.8h0M1573.1 1096.9h0M1580 1090.1h0M1571 1084.1h0M1587.1 1099.6h0M1585.1 1094.5h0M1576.1 1095h0M1589.8 1095.1h0M1586.1 1093.9h0M1579.8 1086.1h0M1574.8 1082.8h0M1578.4 1074.4h0M1589.2 1099h0M1574.2 1094.5h0M1586.6 1096.9h0M1585.7 1110.1h0M1588.2 1093.5h0M1579 1101.6h0M1576.2 1081.5h0M1577.4 1090.7h0M1584.1 1101.9h0M1572.9 1075h0M1572.8 1078.6h0M1582.7 1093.4h0M1589.5 1099h0M1588.7 1101.5h0M1586.3 1097h0M1581.2 1087.6h0M1572.5 1091.4h0M1588 1101.2h0M1579.5 1087.6h0M1570.9 1075.6h0M1573.2 1087.2h0M1580.6 1091.3h0M1580.6 1096.6h0M1575.1 1087.7h0M1580.7 1082.6h0M1578.3 1099h0M1578.5 1090.9h0M1588.9 1096.5h0M1588.9 1089.7h0M1572.6 1090.7h0M1571.6 1089.1h0M1587.9 1107.8h0M1582.8 1107.5h0M1589.4 1107h0M1577.4 1090.3h0M1586.5 1107h0M1579.8 1097.8h0M1570.9 1076.5h0M1570.9 1087.6h0M1579.7 1108.3h0M1585.5 1096.9h0M1585.3 1096.2h0M1577.9 1078.6h0M1574.8 1097.3h0M1580.9 1082h0M1578 1102.8h0M1582.2 1090.8h0M1587 1109.3h0M1578.5 1082.1h0M1572.5 1087.9h0M1572.2 1082.6h0M1575.6 1082.7h0M1579.5 1085.4h0M1570.8 1083.8h0M1573.5 1085.4h0M1572.1 1093.1h0M1599.2 1099.7h0M1606 1100.1h0M1606.4 1101h0M1599.5 1101.2h0M1591.8 1100.2h0M1596 1099.5h0M1610.2 1101.3h0M1596.6 1101.2h0M1593.8 1099.6h0M1596.2 1096.8h0M1595.8 1103.7h0M1597.3 1102.2h0M1601.1 1101.5h0M1594.8 1099h0M1592.2 1100.6h0M1591.1 1100.4h0M1603.6 1099.4h0M1607.4 1104.2h0M1599.1 1104h0M1612.8 1097.9h0M1591.2 1098.2h0M1610.7 1105.2h0M1593.4 1104.9h0M1601.8 1098.1h0M1603.6 1106.1h0M1605.9 1103.3h0M1593.2 1101.1h0M1592.6 1097.5h0M1604.6 1104.5h0M1601.4 1097.1h0M1601.7 1099.2h0M1605.3 1095.7h0M1591.9 1100.1h0M1606.9 1100.8h0M1601.5 1097.5h0M1601.2 1103.2h0M1604.9 1109.2h0M1593.6 1100h0M1603.2 1094.9h0M1591.6 1099.8h0M1605.7 1098.9h0M1602 1106.3h0M1610.7 1101.2h0M1612.7 1099.6h0M1609 1101.3h0M1600.5 1102.2h0M1595 1100.9h0M1593.4 1105.4h0M1609 1101.5h0M1610.6 1102.2h0M1601.3 1104h0M1590.2 1103.3h0M1593.4 1100.5h0M1597.4 1102.1h0M1609.5 1103.9h0M1611.5 1102.1h0M1598.7 1106.9h0M1613.1 1103.4h0M1596.5 1102.9h0M1592.5 1100.3h0M1595.9 1103h0M1601.9 1101h0M1610.5 1099.5h0M1604.7 1094.9h0M1606.7 1109h0M1607 1105.9h0M1596.7 1099.9h0M1611.5 1099.4h0M1597 1098.5h0M1612.6 1099.9h0M1603 1098.3h0M1594 1100.3h0M1601.6 1099.1h0M1611 1098.3h0M1594.6 1100.8h0M1598 1099.1h0M1603.3 1098.2h0M1607.4 1103.2h0M1598.8 1100.6h0M1591.6 1102h0M1616.4 1094.4h0M1618.8 1102h0M1615.8 1098.8h0M1619.4 1097h0M1613.4 1105.7h0M1619 1106.8h0M1615.7 1100.9h0M1618.5 1097.1h0M1613.9 1109.8h0M1616.6 1102.1h0M1617.4 1106.2h0M1616.1 1100.8h0M1614.7 1101.3h0M1617.4 1101.5h0M1617.3 1099.2h0M1613.9 1098.2h0M1615.7 1098.6h0M1620.7 1095.1h0M1622.5 1090.8h0M1622.1 1092.7h0M1622.5 1092.8h0M1619.2 1094.6h0M1619.8 1097.3h0M1621 1094h0M1623.7 1077.8h0M1623.5 1078.8h0M1626.3 1081.1h0M1626.8 1076.7h0M1628.3 1082.1h0M1629.5 1085.9h0M1628.4 1082.9h0M1623.5 1088.6h0M1626.7 1088.3h0M1626.6 1088.7h0M1629.9 1086.5h0M1631.1 1084.2h0M1627.9 1087h0M1627.7 1085.6h0M1632.4 1088.7h0M1632.6 1093h0M1632.8 1096.3h0M1633.5 1097.8h0M1632.8 1102.7h0M1635.6 1082.9h0M1635.9 1083h0M1638 1082.3h0M1638.1 1080h0M1640.4 1082.7h0M1636.8 1086.8h0M1639.2 1089.6h0M1641.6 1085.6h0M1640.8 1085.5h0M1642.9 1089.5h0M1639.2 1091.1h0M1640.7 1092.9h0M1642.5 1094.1h0M1641.9 1094.6h0M1644.9 1093.3h0M1645.2 1094.6h0M1646.1 1097.1h0M1646.9 1085.6h0M1647.5 1086.4h0M1648.1 1083h0M1648 1079.8h0M1648.9 1082.6h0M1650.1 1089.7h0M1649 1090.3h0M1651.3 1090.3h0M1652.1 1088.1h0M1652.3 1090.5h0M1649.7 1091.9h0M1650.8 1099h0M1650.9 1099.9h0M1653 1093.8h0M1653.6 1092.2h0M1654.2 1088.2h0M1656.2 1088.4h0M1656.2 1088.3h0M1657.4 1091.7h0M1655.9 1091.1h0M1659 1091.7h0M1661.4 1091.6h0M1663.2 1093.4h0M1654.6 1100.3h0M1654 1097.1h0M1657 1101h0M1656.2 1104.3h0M1660.2 1088.9h0M1645.3 1110.2h0M1645.3 1109.6h0M1642.2 1129.3h0M1663.5 1106.4h0M1664.3 1107.8h0M1662.6 1107h0M1663.4 1106h0M1666.7 1099.9h0M1667.5 1106.7h0M1666.7 1108.4h0M1667.4 1107.2h0M1670.7 1106.2h0M1671.5 1109.6h0M1672.3 1103.3h0M1673.6 1100.7h0M1672.5 1102.6h0M1661 1116.2h0M1663.9 1122.1h0M1670.3 1117.4h0M1670.3 1123.2h0M1669.9 1129.4h0M1666.7 1148.4h0M1670.7 1096.8h0M1671.5 1093h0M1672.1 1092.2h0M1671.9 1088h0M1673 1085.2h0M1673.2 1088.3h0M1674 1093h0M1674 1088h0M1674.8 1095.8h0M1676.4 1083.9h0M1676.2 1083.1h0M1677.2 1087.8h0M1678 1091.8h0M1678.8 1090h0M1679.6 1095.4h0M1679.8 1096.7h0M1682.4 1085h0M1683.7 1087.1h0M1682.8 1094.4h0M1684.5 1083.7h0M1685.3 1091.6h0M1685.8 1090.9h0M1686.1 1098h0M1685.3 1101.1h0M1684.8 1102.5h0M1687.7 1103.3h0M1687.2 1105.2h0M1688.5 1100.2h0M1683.7 1099.2h0M1679.2 1117.4h0M1679.2 1133.8h0M1685.3 1112.1h0M1685.7 1117.6h0M1691.7 1089.9h0M1692.5 1095.4h0M1693.9 1093.1h0M1690.9 1100.6h0M1690.1 1104.5h0M1689.2 1108.1h0M1695 1092.4h0M1695.8 1098.5h0M1694.2 1103.2h0M1694.4 1101.8h0M1692.5 1105.4h0M1692.9 1105.3h0M1695.8 1106h0M1697.4 1104.4h0M1697.2 1101.5h0M1699.8 1089.6h0M1699.2 1089.2h0M1700.6 1096.3h0M1698.9 1098h0M1699 1100.2h0M1698.4 1101h0M1702.2 1099.7h0M1702.5 1101.1h0M1703.8 1101h0M1700.6 1107.5h0M1701.6 1105h0M1701.4 1091.4h0M1697.4 1097.5h0M1697.4 1095.8h0M1695 1128.9h0M1703.8 1111.6h0M1704.7 1115.3h0M1703.8 1119.7h0M1703.8 1124.7h0M1706.3 1106h0M1708.7 1101h0M1709.1 1102.3h0M1711.1 1103.2h0M1713.9 1102.5h0M1709.5 1106.1h0M1709.9 1104.6h0M1712.7 1105h0M1713.7 1107h0M1710.3 1111.6h0M1713.9 1106.3h0M1714.5 1107.4h0M1715.2 1103.8h0M1714.9 1100.5h0M1707.9 1108.4h0M1706.1 1105.1h0M1711 1140.3h0M1592.5 1048.1h0M1593.7 1070.9h0M1602.3 1048.9h0M1605.2 1050.5h0M1607.7 1036h0M1605.3 1066.2h0M1607.2 1068.6h0M1607.7 1081.2h0M1605.2 1084.3h0M1605 1091.5h0M1593.2 1090h0M1604.5 988.9h0M1607.1 1127h0M1611.7 1116.2h0M1617.2 1118.1h0M1605.4 1116.3h0M1617.7 1108.8h0M1619.2 1107.9h0M1575.4 1138.7h0M1572.1 1114.9h0M1574.6 1136.7h0M1571.9 1107.9h0M1578.2 1115.5h0M1583.3 1129.1h0M1577.8 1130.3h0M1575.8 1123.2h0M1573.2 1124.9h0M1578 1118h0M1578.1 1130.2h0M1571.7 1130.7h0M1580.4 1117.1h0M1582.9 1114h0M1574.8 1116.4h0M1576.5 1135.2h0M1574.7 1112.5h0M1576.4 1116.2h0M1576.6 1142.9h0M1575.1 1126.7h0M1582.6 1118.2h0M1583.2 1131.3h0M1581.3 1107.4h0M1577.2 1124.5h0M1573.7 1121.7h0M1579.7 1130.1h0M1580.5 1135.8h0M1575.1 1121.5h0M1582.1 1113.8h0M1572.6 1117.2h0M1581.3 1117.4h0M1623.7 1187.9h0M1570.8 988.9h0M1573 988.9h0M1571.9 1140.5h0M1571.9 1145h0M1580.4 1142.3h0M1585.6 1137h0M1591.7 1137h0M1595.8 1126.9h0M1591.7 1121.3h0M1575.3 1225.8h0"/>
<path class="tk" d="M1576.5 1226.5v-6.1 M1576.5 989.5v6.1M1595.5 1226.5v-6.1 M1595.5 989.5v6.1M1615.5 1226.5v-6.1 M1615.5 989.5v6.1M1634.5 1226.5v-6.1 M1634.5 989.5v6.1M1653.5 1226.5v-6.1 M1653.5 989.5v6.1M1672.5 1226.5v-6.1 M1672.5 989.5v6.1M1691.5 1226.5v-6.1 M1691.5 989.5v6.1M1710.5 1226.5v-6.1 M1710.5 989.5v6.1M1563.5 1196.2h6.1 M1721.5 1196.2h-6.1M1563.5 1166.6h6.1 M1721.5 1166.6h-6.1M1563.5 1137h6.1 M1721.5 1137h-6.1M1563.5 1107.4h6.1 M1721.5 1107.4h-6.1M1563.5 1077.8h6.1 M1721.5 1077.8h-6.1M1563.5 1048.1h6.1 M1721.5 1048.1h-6.1M1563.5 1018.5h6.1 M1721.5 1018.5h-6.1"/>
<rect class="ax" x="1563.5" y="989.5" width="158" height="237"/>
<text class="cc" x="1568.9" y="1014.7">#72</text>
<text class="xl" text-anchor="end" transform="translate(1581.2 1232) rotate(-90)">Oct 2011</text>
<text class="xl" text-anchor="end" transform="translate(1598.3 1232) rotate(-90)">Apr 2012</text>
<text class="xl" text-anchor="end" transform="translate(1619.6 1232) rotate(-90)">Oct 2012</text>
<text class="xl" text-anchor="end" transform="translate(1636.7 1232) rotate(-90)">Apr 2013</text>
<text class="xl" text-anchor="end" transform="translate(1658 1232) rotate(-90)">Oct 2013</text>
<text class="xl" text-anchor="end" transform="translate(1675 1232) rotate(-90)">Apr 2014</text>
<text class="xl" text-anchor="end" transform="translate(1696.3 1232) rotate(-90)">Oct 2014</text>
<text class="xl" text-anchor="end" transform="translate(1713.4 1232) rotate(-90)">Apr 2015</text>
</g>
</svg>
</body></html>
